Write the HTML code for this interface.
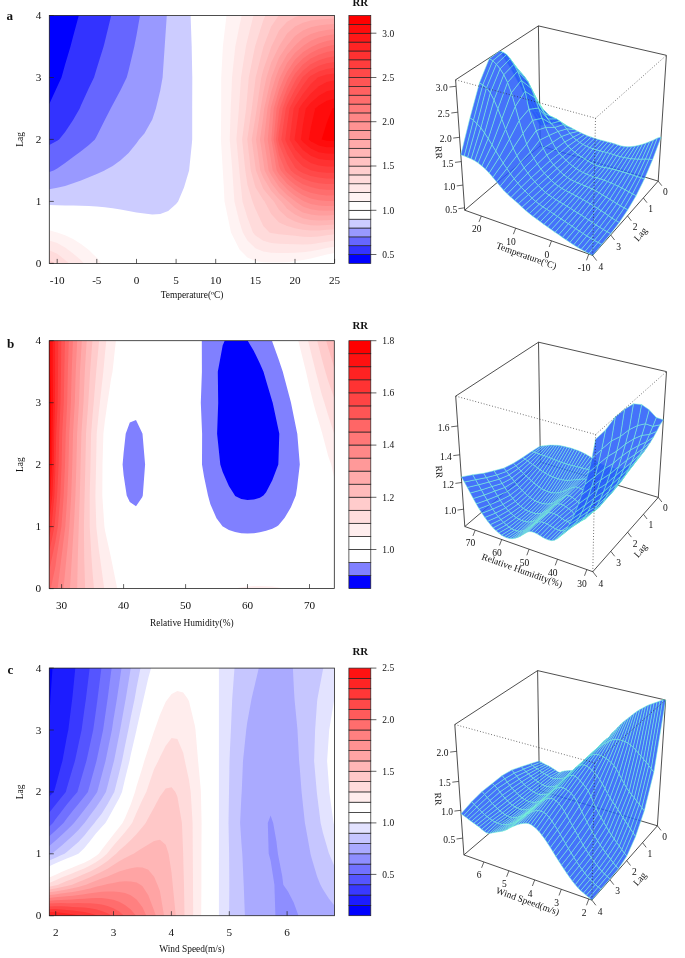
<!DOCTYPE html>
<html><head><meta charset="utf-8"><title>Figure</title>
<style>html,body{margin:0;padding:0;background:#fff;}svg{display:block;will-change:transform;font-family:"Liberation Serif",serif;}</style></head>
<body>
<svg width="685" height="958" viewBox="0 0 685 958" font-family="Liberation Serif, serif" fill="#111">
<rect width="685" height="958" fill="#fff"/>
<clipPath id="ca"><rect x="49.3" y="15.5" width="285.3" height="247.89999999999998"/></clipPath>
<g clip-path="url(#ca)">
<path d="M49.3 263.4L57.2 263.4L65.1 263.4L73.1 263.4L81 263.4L88.9 263.4L96.8 263.4L101.5 263.4L96.8 257.8L88.9 249.9L81 243.9L73.1 239.1L65.1 235.2L57.2 232.5L57 232.4L49.3 230.3L49.3 232.4ZM231 232.4L231.6 233.7L239.5 249.6L247.4 257.4L255.4 260.9L263.3 262.2L271.2 262.5L279.1 262.5L287 262.2L295 261.2L302.9 260L310.8 258.4L318.8 256.4L326.7 254.4L334.6 252.9L334.6 232.4L334.6 201.4L334.6 170.4L334.6 139.4L334.6 108.5L334.6 77.5L334.6 46.5L334.6 15.5L326.7 15.5L318.8 15.5L310.8 15.5L302.9 15.5L295 15.5L287.1 15.5L279.1 15.5L271.2 15.5L263.3 15.5L255.4 15.5L247.4 15.5L239.5 15.5L231.6 15.5L226.5 15.5L223.7 39.2L222.9 46.5L221.2 77.5L221.2 108.5L220.9 139.4L222.8 170.4L223.7 184.9L224.5 201.4Z" fill="#fff3f3"/>
<path d="M49.3 263.4L57.2 263.4L65.1 263.4L73.1 263.4L81 263.4L84 263.4L81 260.3L73.1 253.4L65.1 247.5L57.2 243.1L49.3 240.5ZM242.8 232.4L247.4 240.4L255.4 248.2L263.3 251.5L271.2 252.7L279.1 253.1L287.1 253.1L295 252.7L302.9 252.2L310.8 251.3L318.8 249.7L326.7 248L334.6 246.7L334.6 232.4L334.6 201.4L334.6 170.4L334.6 139.4L334.6 108.5L334.6 77.5L334.6 46.5L334.6 15.5L326.7 15.5L318.8 15.5L310.8 15.5L302.9 15.5L295 15.5L287.1 15.5L279.1 15.5L271.2 15.5L263.3 15.5L255.4 15.5L247.4 15.5L241.7 15.5L239.5 25.6L235.3 46.5L232 77.5L231.6 87.7L230.7 108.5L229.7 139.4L231.6 161.3L232.3 170.4L234.4 201.4L239.5 222Z" fill="#ffe7e7"/>
<path d="M49.3 263.4L57.2 263.4L65.1 263.4L69 263.4L65.1 259.9L57.2 253.7L49.3 250.2ZM252.9 232.4L255.4 235.5L263.3 240.7L271.2 242.9L279.1 243.7L287.1 244L295 244.2L302.9 244.5L310.8 244.2L318.8 243.1L326.7 241.7L334.6 240.5L334.6 232.4L334.6 201.4L334.6 170.4L334.6 139.4L334.6 108.5L334.6 77.5L334.6 46.5L334.6 15.5L326.7 15.5L318.8 15.5L310.8 15.5L302.9 15.5L295 15.5L287.1 15.5L279.1 15.5L271.2 15.5L263.3 15.5L255.4 15.5L253.5 15.5L247.4 39.7L245.9 46.5L241 77.5L239.5 99.8L238.9 108.5L236.4 139.4L239.3 170.4L239.5 173.3L242.5 201.4L247.4 217.4Z" fill="#ffdbdb"/>
<path d="M49.3 263.4L55.7 263.4L49.3 259.9ZM269.5 232.4L271.2 233L279.1 234.3L287.1 235L295 235.7L302.9 236.7L310.8 237L318.8 236.4L326.7 235.3L334.6 234.3L334.6 232.4L334.6 201.4L334.6 170.4L334.6 139.4L334.6 108.5L334.6 77.5L334.6 46.5L334.6 15.5L326.7 15.5L318.8 15.5L310.8 15.5L302.9 15.5L295 15.5L287.1 15.5L279.1 15.5L271.2 15.5L265.5 15.5L263.3 20.2L255.4 45.2L255 46.5L248.8 77.5L247.4 93.7L246.1 108.5L242.1 139.4L245.3 170.4L247.4 184.4L252.5 201.4L255.4 209.1L263.3 226.1Z" fill="#ffcece"/>
<path d="M264.6 201.4L271.2 214L279.1 222.5L287.1 226.1L295 228.2L302.9 229.8L310.8 230.5L318.8 230.4L326.7 229.8L334.6 229.2L334.6 201.4L334.6 170.4L334.6 139.4L334.6 108.5L334.6 77.5L334.6 46.5L334.6 15.5L326.7 15.5L318.8 15.5L310.8 15.5L302.9 15.5L295 15.5L287.1 15.5L279.1 15.5L278.7 15.5L271.2 26.6L263.5 46.5L263.3 47.2L255.6 77.5L255.4 79.7L251.8 108.5L247.4 138.5L247.3 139.4L247.4 140.7L250.8 170.4L255.4 187.2L263.3 200.1Z" fill="#ffc2c2"/>
<path d="M273.9 201.4L279.1 210L287.1 217.4L295 221.4L302.9 224L310.8 225.2L318.8 225.4L326.7 225.1L334.6 224.5L334.6 201.4L334.6 170.4L334.6 139.4L334.6 108.5L334.6 77.5L334.6 46.5L334.6 15.5L326.7 15.5L318.8 15.5L310.8 15.5L302.9 15.5L300.4 15.5L295 17.2L287.1 21.8L279.1 30.6L271.4 46.5L271.2 47L263.3 69.7L261.3 77.5L256.7 108.5L255.4 117.5L251.7 139.4L255.4 166.8L255.9 170.4L263.3 188.9L271.2 198.6Z" fill="#ffb6b6"/>
<path d="M281.3 201.4L287.1 208.7L295 214.6L302.9 218.2L310.8 219.9L318.8 220.4L326.7 220.3L334.6 219.8L334.6 201.4L334.6 170.4L334.6 139.4L334.6 108.5L334.6 77.5L334.6 46.5L334.6 18.6L326.7 19L318.8 19.5L310.8 20.6L302.9 22.7L295 26.6L287.1 33.6L279.1 46.2L279 46.5L271.2 62.4L266.5 77.5L263.3 92.5L260.6 108.5L256 139.4L260.3 170.4L263.3 177.8L271.2 190.8L279.1 199.5Z" fill="#ffaaaa"/>
<path d="M288.2 201.4L295 207.8L302.9 212.4L310.8 214.5L318.8 215.4L326.7 215.5L334.6 215.1L334.6 201.4L334.6 170.4L334.6 139.4L334.6 108.5L334.6 77.5L334.6 46.5L334.6 23.9L326.7 24.5L318.8 25.5L310.8 27.3L302.9 30.5L295 36L287.1 45.5L286.4 46.5L279.1 57.4L271.3 77.5L271.2 77.8L264.2 108.5L263.3 116.8L260 139.4L263.3 161.3L264.6 170.4L271.2 183.1L279.1 193.2L287.1 200.5Z" fill="#ff9e9e"/>
<path d="M295.5 201.4L302.9 206.6L310.8 209.2L318.8 210.4L326.7 210.7L334.6 210.4L334.6 201.4L334.6 170.4L334.6 139.4L334.6 108.5L334.6 77.5L334.6 46.5L334.6 29.1L326.7 30L318.8 31.4L310.8 34L302.9 38.3L295 45.4L294.1 46.5L287.1 54.4L279.1 68.6L275.7 77.5L271.2 92L267.5 108.5L264 139.4L268.7 170.4L271.2 175.3L279.1 186.9L287.1 194.9L295 201.1Z" fill="#ff9292"/>
<path d="M304.4 201.4L310.8 203.9L318.8 205.4L326.7 205.9L334.6 205.7L334.6 201.4L334.6 170.4L334.6 139.4L334.6 108.5L334.6 77.5L334.6 46.5L334.6 34.3L326.7 35.5L318.8 37.4L310.8 40.7L302.9 46.1L302.5 46.5L295 52.7L287.1 62.9L280 77.5L279.1 79.6L271.2 106.3L270.7 108.5L267.7 139.4L271.2 161.4L272.7 170.4L279.1 180.6L287.1 189.3L295 195.7L302.9 200.8Z" fill="#ff8686"/>
<path d="M276.7 170.4L279.1 174.3L287.1 183.7L295 190.2L302.9 195.3L310.8 198.4L318.8 200.2L326.7 201.1L334.6 201L334.6 170.4L334.6 139.4L334.6 108.5L334.6 77.5L334.6 46.5L334.6 39.6L326.7 41L318.8 43.4L312.4 46.5L310.8 47.2L302.9 52.3L295 59.7L287.1 71.5L284.2 77.5L279.1 89.7L273.7 108.5L271.4 139.4Z" fill="#ff7979"/>
<path d="M280.9 170.4L287.1 178.1L295 184.8L302.9 189.7L310.8 192.7L318.8 194.6L326.7 195.5L334.6 195.3L334.6 170.4L334.6 139.4L334.6 108.5L334.6 77.5L334.6 46.5L334.6 44.8L326.7 46.4L326.6 46.5L318.8 49.1L310.8 52.9L302.9 58.4L295 66.7L288.4 77.5L287.1 80L279.1 99.8L276.6 108.5L273.6 139.4L279.1 166.3Z" fill="#ff6d6d"/>
<path d="M285.4 170.4L287.1 172.5L295 179.4L302.9 184.2L310.8 187.1L318.8 188.9L326.7 189.8L334.6 189.7L334.6 170.4L334.6 139.4L334.6 108.5L334.6 77.5L334.6 50.4L326.7 52.1L318.8 54.7L310.8 58.6L302.9 64.5L295 73.7L292.7 77.5L287.1 88.4L279.6 108.5L279.1 111.3L275.9 139.4L279.1 155.3Z" fill="#ff6161"/>
<path d="M291 170.4L295 174L302.9 178.6L310.8 181.5L318.8 183.3L326.7 184.1L334.6 184L334.6 170.4L334.6 139.4L334.6 108.5L334.6 77.5L334.6 56.2L326.7 57.7L318.8 60.3L310.8 64.3L302.9 70.7L297.3 77.5L295 81.3L287.1 96.7L282.7 108.5L279.1 130.7L278.1 139.4L279.1 144.3L287.1 164.1Z" fill="#ff5555"/>
<path d="M298.4 170.4L302.9 173.1L310.8 175.9L318.8 177.6L326.7 178.4L334.6 178.4L334.6 170.4L334.6 139.4L334.6 108.5L334.6 77.5L334.6 61.9L326.7 63.3L318.8 65.8L310.8 70L302.9 76.8L302.3 77.5L295 89.5L287.1 105L285.8 108.5L281.3 139.4L287.1 154.1L295 167.3Z" fill="#ff4949"/>
<path d="M311.7 170.4L318.8 172L326.7 172.8L334.6 172.7L334.6 170.4L334.6 139.4L334.6 108.5L334.6 77.5L334.6 67.7L326.7 68.9L318.8 71.4L310.8 75.7L308.7 77.5L302.9 85.2L295 97.8L289.5 108.5L287.1 125.6L285.2 139.4L287.1 144.2L295 158.3L302.9 166.2L310.8 170.2Z" fill="#ff3d3d"/>
<path d="M289.6 139.4L295 149.2L302.9 158.1L310.8 162.9L318.8 165.6L326.7 166.6L334.6 166.6L334.6 139.4L334.6 108.5L334.6 77.5L334.6 73.4L326.7 74.6L318.8 76.9L317.8 77.5L310.8 83.9L302.9 94L295 106L293.7 108.5Z" fill="#ff3131"/>
<path d="M294.6 139.4L295 140.2L302.9 150L310.8 155.7L318.8 158.9L326.7 160.1L334.6 160.2L334.6 139.4L334.6 108.5L334.6 80.2L326.7 82L318.8 86.2L310.8 93.4L302.9 102.8L299.1 108.5L295 136.1Z" fill="#ff2424"/>
<path d="M300.9 139.4L302.9 141.9L310.8 148.5L318.8 152.2L326.7 153.6L334.6 153.7L334.6 139.4L334.6 108.5L334.6 89.4L326.7 91.3L318.8 95.8L310.8 102.8L305.8 108.5L302.9 125Z" fill="#ff1818"/>
<path d="M308.8 139.4L310.8 141.2L318.8 145.5L326.7 147.2L334.6 147.3L334.6 139.4L334.6 108.5L334.6 98.6L326.7 100.7L318.8 105.4L315.2 108.5L310.8 127.7Z" fill="#ff0c0c"/>
<path d="M321.6 139.4L326.7 140.7L334.6 140.9L334.6 139.4L334.6 108.5L334.6 107.8L332.3 108.5L326.7 123.1Z" fill="#ff0000"/>
<path d="M49.3 201.4L49.3 205.1L57.2 205.2L65.1 205.4L73.1 205.6L81 205.8L88.9 206.1L96.8 206.6L104.8 207.2L112.7 208.2L120.6 209.5L128.6 211L136.5 212.4L144.4 213.6L152.3 214.5L160.2 214.1L168.2 211.1L176.1 203.9L178.1 201.4L184 187.4L189.1 170.4L191.9 143.3L192.2 139.4L192.2 108.5L192.3 77.5L191.9 57.2L191.7 46.5L190.6 15.5L184 15.5L176.1 15.5L168.2 15.5L160.2 15.5L152.3 15.5L144.4 15.5L136.5 15.5L128.6 15.5L120.6 15.5L112.7 15.5L104.8 15.5L96.8 15.5L88.9 15.5L81 15.5L73.1 15.5L65.1 15.5L57.2 15.5L49.3 15.5L49.3 46.5L49.3 77.5L49.3 108.5L49.3 139.4L49.3 170.4Z" fill="#ccccff"/>
<path d="M49.3 170.4L49.3 189.2L57.2 187.8L65.1 185.9L73.1 183.3L81 180.4L88.9 177.2L96.8 173.9L104.6 170.4L104.8 170.3L112.7 165.9L120.6 160.2L128.6 153L136.5 143.2L139.1 139.4L144.4 133.6L152.3 119.6L155.9 108.5L160.2 90.8L162.6 77.5L164.7 46.5L166.8 15.5L160.2 15.5L152.3 15.5L144.4 15.5L136.5 15.5L128.6 15.5L120.6 15.5L112.7 15.5L104.8 15.5L96.8 15.5L88.9 15.5L81 15.5L73.1 15.5L65.1 15.5L57.2 15.5L49.3 15.5L49.3 46.5L49.3 77.5L49.3 108.5L49.3 139.4Z" fill="#9999ff"/>
<path d="M49.3 170.4L49.3 172L53.6 170.4L57.2 168.4L65.1 163L73.1 157.1L81 151.2L88.9 144.9L94.9 139.4L96.8 136L104.8 119.9L110.7 108.5L112.7 104.7L120.6 90L126.7 77.5L128.6 70.6L134.3 46.5L136.5 35.3L140 15.5L136.5 15.5L128.6 15.5L120.6 15.5L112.7 15.5L104.8 15.5L96.8 15.5L88.9 15.5L81 15.5L73.1 15.5L65.1 15.5L57.2 15.5L49.3 15.5L49.3 46.5L49.3 77.5L49.3 108.5L49.3 139.4Z" fill="#6666ff"/>
<path d="M49.3 139.4L49.3 145L57.2 140.8L59.1 139.4L65.1 132L73.1 120.1L79.7 108.5L81 105.3L88.9 88L94 77.5L96.8 68.3L103.6 46.5L104.8 41.7L111.2 15.5L104.8 15.5L96.8 15.5L88.9 15.5L81 15.5L73.1 15.5L65.1 15.5L57.2 15.5L49.3 15.5L49.3 46.5L49.3 77.5L49.3 108.5Z" fill="#3333ff"/>
<path d="M49.3 77.5L49.3 104L57.2 86.7L61.5 77.5L65.1 64.5L70.5 46.5L73.1 36.6L78.8 15.5L73.1 15.5L65.1 15.5L57.2 15.5L49.3 15.5L49.3 46.5Z" fill="#0000ff"/>

</g>
<rect x="49.3" y="15.5" width="285.3" height="247.9" fill="none" stroke="#222" stroke-width="0.8"/>
<line x1="57.2" y1="263.4" x2="57.2" y2="258.9" stroke="#222" stroke-width="0.7"/>
<text x="57.2" y="283.7" font-size="11.2" text-anchor="middle" >-10</text>
<line x1="96.8" y1="263.4" x2="96.8" y2="258.9" stroke="#222" stroke-width="0.7"/>
<text x="96.8" y="283.7" font-size="11.2" text-anchor="middle" >-5</text>
<line x1="136.5" y1="263.4" x2="136.5" y2="258.9" stroke="#222" stroke-width="0.7"/>
<text x="136.5" y="283.7" font-size="11.2" text-anchor="middle" >0</text>
<line x1="176.1" y1="263.4" x2="176.1" y2="258.9" stroke="#222" stroke-width="0.7"/>
<text x="176.1" y="283.7" font-size="11.2" text-anchor="middle" >5</text>
<line x1="215.7" y1="263.4" x2="215.7" y2="258.9" stroke="#222" stroke-width="0.7"/>
<text x="215.7" y="283.7" font-size="11.2" text-anchor="middle" >10</text>
<line x1="255.4" y1="263.4" x2="255.4" y2="258.9" stroke="#222" stroke-width="0.7"/>
<text x="255.4" y="283.7" font-size="11.2" text-anchor="middle" >15</text>
<line x1="295" y1="263.4" x2="295" y2="258.9" stroke="#222" stroke-width="0.7"/>
<text x="295" y="283.7" font-size="11.2" text-anchor="middle" >20</text>
<line x1="334.6" y1="263.4" x2="334.6" y2="258.9" stroke="#222" stroke-width="0.7"/>
<text x="334.6" y="283.7" font-size="11.2" text-anchor="middle" >25</text>
<line x1="49.3" y1="263.4" x2="53.8" y2="263.4" stroke="#222" stroke-width="0.7"/>
<text x="38.5" y="266.9" font-size="11.2" text-anchor="middle" >0</text>
<line x1="49.3" y1="201.4" x2="53.8" y2="201.4" stroke="#222" stroke-width="0.7"/>
<text x="38.5" y="204.9" font-size="11.2" text-anchor="middle" >1</text>
<line x1="49.3" y1="139.4" x2="53.8" y2="139.4" stroke="#222" stroke-width="0.7"/>
<text x="38.5" y="142.9" font-size="11.2" text-anchor="middle" >2</text>
<line x1="49.3" y1="77.5" x2="53.8" y2="77.5" stroke="#222" stroke-width="0.7"/>
<text x="38.5" y="81" font-size="11.2" text-anchor="middle" >3</text>
<line x1="49.3" y1="15.5" x2="53.8" y2="15.5" stroke="#222" stroke-width="0.7"/>
<text x="38.5" y="19" font-size="11.2" text-anchor="middle" >4</text>
<text x="192" y="297.7" font-size="9.4" text-anchor="middle" >Temperature(&#186;C)</text>
<text x="23.5" y="139.4" font-size="9.4" text-anchor="middle" transform="rotate(-90 23.5 139.4)" >Lag</text>
<text x="9.8" y="20.4" font-size="13.1" text-anchor="middle" font-weight="bold" >a</text>
<rect x="348.9" y="254.5" width="21.9" height="8.9" fill="#0000ff" stroke="#222" stroke-width="0.7"/>
<rect x="348.9" y="245.7" width="21.9" height="8.9" fill="#3333ff" stroke="#222" stroke-width="0.7"/>
<rect x="348.9" y="236.8" width="21.9" height="8.9" fill="#6666ff" stroke="#222" stroke-width="0.7"/>
<rect x="348.9" y="228" width="21.9" height="8.9" fill="#9999ff" stroke="#222" stroke-width="0.7"/>
<rect x="348.9" y="219.1" width="21.9" height="8.9" fill="#ccccff" stroke="#222" stroke-width="0.7"/>
<rect x="348.9" y="210.3" width="21.9" height="8.9" fill="#ffffff" stroke="#222" stroke-width="0.7"/>
<rect x="348.9" y="201.4" width="21.9" height="8.9" fill="#ffffff" stroke="#222" stroke-width="0.7"/>
<rect x="348.9" y="192.6" width="21.9" height="8.9" fill="#fff3f3" stroke="#222" stroke-width="0.7"/>
<rect x="348.9" y="183.7" width="21.9" height="8.9" fill="#ffe7e7" stroke="#222" stroke-width="0.7"/>
<rect x="348.9" y="174.9" width="21.9" height="8.9" fill="#ffdbdb" stroke="#222" stroke-width="0.7"/>
<rect x="348.9" y="166" width="21.9" height="8.9" fill="#ffcece" stroke="#222" stroke-width="0.7"/>
<rect x="348.9" y="157.2" width="21.9" height="8.9" fill="#ffc2c2" stroke="#222" stroke-width="0.7"/>
<rect x="348.9" y="148.3" width="21.9" height="8.9" fill="#ffb6b6" stroke="#222" stroke-width="0.7"/>
<rect x="348.9" y="139.4" width="21.9" height="8.9" fill="#ffaaaa" stroke="#222" stroke-width="0.7"/>
<rect x="348.9" y="130.6" width="21.9" height="8.9" fill="#ff9e9e" stroke="#222" stroke-width="0.7"/>
<rect x="348.9" y="121.7" width="21.9" height="8.9" fill="#ff9292" stroke="#222" stroke-width="0.7"/>
<rect x="348.9" y="112.9" width="21.9" height="8.9" fill="#ff8686" stroke="#222" stroke-width="0.7"/>
<rect x="348.9" y="104" width="21.9" height="8.9" fill="#ff7979" stroke="#222" stroke-width="0.7"/>
<rect x="348.9" y="95.2" width="21.9" height="8.9" fill="#ff6d6d" stroke="#222" stroke-width="0.7"/>
<rect x="348.9" y="86.3" width="21.9" height="8.9" fill="#ff6161" stroke="#222" stroke-width="0.7"/>
<rect x="348.9" y="77.5" width="21.9" height="8.9" fill="#ff5555" stroke="#222" stroke-width="0.7"/>
<rect x="348.9" y="68.6" width="21.9" height="8.9" fill="#ff4949" stroke="#222" stroke-width="0.7"/>
<rect x="348.9" y="59.8" width="21.9" height="8.9" fill="#ff3d3d" stroke="#222" stroke-width="0.7"/>
<rect x="348.9" y="50.9" width="21.9" height="8.9" fill="#ff3131" stroke="#222" stroke-width="0.7"/>
<rect x="348.9" y="42.1" width="21.9" height="8.9" fill="#ff2424" stroke="#222" stroke-width="0.7"/>
<rect x="348.9" y="33.2" width="21.9" height="8.9" fill="#ff1818" stroke="#222" stroke-width="0.7"/>
<rect x="348.9" y="24.4" width="21.9" height="8.9" fill="#ff0c0c" stroke="#222" stroke-width="0.7"/>
<rect x="348.9" y="15.5" width="21.9" height="8.9" fill="#ff0000" stroke="#222" stroke-width="0.7"/>
<line x1="370.8" y1="254.5" x2="376.4" y2="254.5" stroke="#222" stroke-width="0.7"/>
<text x="382.3" y="257.8" font-size="9.5" text-anchor="start" >0.5</text>
<line x1="370.8" y1="210.3" x2="376.4" y2="210.3" stroke="#222" stroke-width="0.7"/>
<text x="382.3" y="213.6" font-size="9.5" text-anchor="start" >1.0</text>
<line x1="370.8" y1="166" x2="376.4" y2="166" stroke="#222" stroke-width="0.7"/>
<text x="382.3" y="169.3" font-size="9.5" text-anchor="start" >1.5</text>
<line x1="370.8" y1="121.7" x2="376.4" y2="121.7" stroke="#222" stroke-width="0.7"/>
<text x="382.3" y="125" font-size="9.5" text-anchor="start" >2.0</text>
<line x1="370.8" y1="77.5" x2="376.4" y2="77.5" stroke="#222" stroke-width="0.7"/>
<text x="382.3" y="80.8" font-size="9.5" text-anchor="start" >2.5</text>
<line x1="370.8" y1="33.2" x2="376.4" y2="33.2" stroke="#222" stroke-width="0.7"/>
<text x="382.3" y="36.5" font-size="9.5" text-anchor="start" >3.0</text>
<text x="360.2" y="5.9" font-size="10.8" text-anchor="middle" font-weight="bold" >RR</text>
<line x1="464.7" y1="210.2" x2="592.7" y2="255.4" stroke="#222" stroke-width="0.8"/>
<line x1="592.7" y1="255.4" x2="658.2" y2="181.1" stroke="#222" stroke-width="0.8"/>
<line x1="658.2" y1="181.1" x2="540.3" y2="145.8" stroke="#222" stroke-width="0.8"/>
<line x1="540.3" y1="145.8" x2="464.7" y2="210.2" stroke="#222" stroke-width="0.8"/>
<line x1="464.7" y1="210.2" x2="455.6" y2="79.8" stroke="#222" stroke-width="0.8"/>
<line x1="540.3" y1="145.8" x2="538.4" y2="25.9" stroke="#222" stroke-width="0.8"/>
<line x1="658.2" y1="181.1" x2="666.4" y2="55.3" stroke="#222" stroke-width="0.8"/>
<line x1="455.6" y1="79.8" x2="538.4" y2="25.9" stroke="#222" stroke-width="0.8"/>
<line x1="538.4" y1="25.9" x2="666.4" y2="55.3" stroke="#222" stroke-width="0.8"/>
<g stroke="#7fffd4" stroke-width="0.5" stroke-linejoin="round" fill-opacity="0.86">
<path d="M543.1 125.2 L540 125.5 L530.9 110.7 L534.1 110.9 Z" fill="#265bf9"/>
<path d="M546.2 124.5 L543.1 125.2 L534.1 110.9 L537.3 111.2 Z" fill="#265bf9"/>
<path d="M549.3 123.9 L546.2 124.5 L537.3 111.2 L540.5 111.8 Z" fill="#265bf9"/>
<path d="M552.5 123.6 L549.3 123.9 L540.5 111.8 L543.7 113.2 Z" fill="#265bf9"/>
<path d="M555.7 123.8 L552.5 123.6 L543.7 113.2 L546.9 114.8 Z" fill="#265bf9"/>
<path d="M558.8 124.1 L555.7 123.8 L546.9 114.8 L550.2 116.2 Z" fill="#265bf9"/>
<path d="M562 124.9 L558.8 124.1 L550.2 116.2 L553.4 117.5 Z" fill="#265bf9"/>
<path d="M565.2 125.8 L562 124.9 L553.4 117.5 L556.7 119 Z" fill="#265bf9"/>
<path d="M568.4 126.7 L565.2 125.8 L556.7 119 L560 121.2 Z" fill="#265bf9"/>
<path d="M571.7 128.1 L568.4 126.7 L560 121.2 L563.3 124.5 Z" fill="#265bf9"/>
<path d="M574.9 129.7 L571.7 128.1 L563.3 124.5 L566.6 128.9 Z" fill="#265bf9"/>
<path d="M578.2 131.4 L574.9 129.7 L566.6 128.9 L569.9 133.4 Z" fill="#265bf9"/>
<path d="M581.4 133.1 L578.2 131.4 L569.9 133.4 L573.2 137.2 Z" fill="#265bf9"/>
<path d="M584.7 134.6 L581.4 133.1 L573.2 137.2 L576.5 140.2 Z" fill="#265bf9"/>
<path d="M587.9 135.9 L584.7 134.6 L576.5 140.2 L579.8 142.6 Z" fill="#265bf9"/>
<path d="M591.2 137.1 L587.9 135.9 L579.8 142.6 L583.1 144.6 Z" fill="#265bf9"/>
<path d="M594.5 138.3 L591.2 137.1 L583.1 144.6 L586.4 146.3 Z" fill="#265bf9"/>
<path d="M597.9 139.3 L594.5 138.3 L586.4 146.3 L589.8 147.7 Z" fill="#265bf9"/>
<path d="M601.2 140.2 L597.9 139.3 L589.8 147.7 L593.1 148.9 Z" fill="#265bf9"/>
<path d="M604.5 141 L601.2 140.2 L593.1 148.9 L596.5 150 Z" fill="#265bf9"/>
<path d="M607.9 141.9 L604.5 141 L596.5 150 L599.9 150.9 Z" fill="#265bf9"/>
<path d="M534.1 110.9 L530.9 110.7 L521 87.6 L524.3 88.3 Z" fill="#265bf9"/>
<path d="M611.3 142.8 L607.9 141.9 L599.9 150.9 L603.3 151.8 Z" fill="#265bf9"/>
<path d="M537.3 111.2 L534.1 110.9 L524.3 88.3 L527.6 89.9 Z" fill="#265bf9"/>
<path d="M540.5 111.8 L537.3 111.2 L527.6 89.9 L530.9 92.4 Z" fill="#265bf9"/>
<path d="M614.6 143.8 L611.3 142.8 L603.3 151.8 L606.7 152.6 Z" fill="#265bf9"/>
<path d="M543.7 113.2 L540.5 111.8 L530.9 92.4 L534.3 95.9 Z" fill="#265bf9"/>
<path d="M576.5 140.2 L573.2 137.2 L564.6 142 L568 146.2 Z" fill="#265bf9"/>
<path d="M573.2 137.2 L569.9 133.4 L561.3 136.5 L564.6 142 Z" fill="#265bf9"/>
<path d="M579.8 142.6 L576.5 140.2 L568 146.2 L571.3 149.5 Z" fill="#265bf9"/>
<path d="M546.9 114.8 L543.7 113.2 L534.3 95.9 L537.7 101.2 Z" fill="#265bf9"/>
<path d="M550.2 116.2 L546.9 114.8 L537.7 101.2 L541.1 107.2 Z" fill="#265bf9"/>
<path d="M553.4 117.5 L550.2 116.2 L541.1 107.2 L544.5 113.4 Z" fill="#265bf9"/>
<path d="M618 144.9 L614.6 143.8 L606.7 152.6 L610.1 153.6 Z" fill="#265bf9"/>
<path d="M556.7 119 L553.4 117.5 L544.5 113.4 L547.9 119.1 Z" fill="#265bf9"/>
<path d="M569.9 133.4 L566.6 128.9 L557.9 131.4 L561.3 136.5 Z" fill="#265bf9"/>
<path d="M560 121.2 L556.7 119 L547.9 119.1 L551.2 123.6 Z" fill="#265bf9"/>
<path d="M583.1 144.6 L579.8 142.6 L571.3 149.5 L574.7 152.3 Z" fill="#265bf9"/>
<path d="M566.6 128.9 L563.3 124.5 L554.6 127.4 L557.9 131.4 Z" fill="#265bf9"/>
<path d="M563.3 124.5 L560 121.2 L551.2 123.6 L554.6 127.4 Z" fill="#265bf9"/>
<path d="M586.4 146.3 L583.1 144.6 L574.7 152.3 L578 154.8 Z" fill="#265bf9"/>
<path d="M621.4 145.9 L618 144.9 L610.1 153.6 L613.6 154.7 Z" fill="#265bf9"/>
<path d="M589.8 147.7 L586.4 146.3 L578 154.8 L581.4 157 Z" fill="#265bf9"/>
<path d="M624.9 146.6 L621.4 145.9 L613.6 154.7 L617 155.8 Z" fill="#265bf9"/>
<path d="M593.1 148.9 L589.8 147.7 L581.4 157 L584.8 159 Z" fill="#265bf9"/>
<path d="M596.5 150 L593.1 148.9 L584.8 159 L588.2 161 Z" fill="#265bf9"/>
<path d="M628.4 146.8 L624.9 146.6 L617 155.8 L620.5 156.8 Z" fill="#265bf9"/>
<path d="M599.9 150.9 L596.5 150 L588.2 161 L591.6 163.2 Z" fill="#265bf9"/>
<path d="M631.9 146.5 L628.4 146.8 L620.5 156.8 L624 157.6 Z" fill="#265bf9"/>
<path d="M603.3 151.8 L599.9 150.9 L591.6 163.2 L595 165 Z" fill="#265bf9"/>
<path d="M635.4 146 L631.9 146.5 L624 157.6 L627.5 158.3 Z" fill="#265bf9"/>
<path d="M606.7 152.6 L603.3 151.8 L595 165 L598.4 166.3 Z" fill="#265bf9"/>
<path d="M610.1 153.6 L606.7 152.6 L598.4 166.3 L601.9 167.1 Z" fill="#265bf9"/>
<path d="M639 145.2 L635.4 146 L627.5 158.3 L631 158.8 Z" fill="#265bf9"/>
<path d="M613.6 154.7 L610.1 153.6 L601.9 167.1 L605.3 167.7 Z" fill="#265bf9"/>
<path d="M571.3 149.5 L568 146.2 L559.2 153.4 L562.6 157.1 Z" fill="#265bf9"/>
<path d="M568 146.2 L564.6 142 L555.8 148.6 L559.2 153.4 Z" fill="#265bf9"/>
<path d="M574.7 152.3 L571.3 149.5 L562.6 157.1 L566 160.3 Z" fill="#265bf9"/>
<path d="M642.6 144.2 L639 145.2 L631 158.8 L634.6 159.1 Z" fill="#265bf9"/>
<path d="M564.6 142 L561.3 136.5 L552.4 142.4 L555.8 148.6 Z" fill="#265bf9"/>
<path d="M578 154.8 L574.7 152.3 L566 160.3 L569.4 163.4 Z" fill="#265bf9"/>
<path d="M617 155.8 L613.6 154.7 L605.3 167.7 L608.8 168.4 Z" fill="#265bf9"/>
<path d="M581.4 157 L578 154.8 L569.4 163.4 L572.8 166.3 Z" fill="#265bf9"/>
<path d="M561.3 136.5 L557.9 131.4 L549 135.4 L552.4 142.4 Z" fill="#265bf9"/>
<path d="M584.8 159 L581.4 157 L572.8 166.3 L576.2 168.7 Z" fill="#265bf9"/>
<path d="M620.5 156.8 L617 155.8 L608.8 168.4 L612.3 169.2 Z" fill="#265bf9"/>
<path d="M557.9 131.4 L554.6 127.4 L545.5 127.4 L549 135.4 Z" fill="#265bf9"/>
<path d="M646.2 142.9 L642.6 144.2 L634.6 159.1 L638.2 159.3 Z" fill="#265bf9"/>
<path d="M588.2 161 L584.8 159 L576.2 168.7 L579.7 170.8 Z" fill="#265bf9"/>
<path d="M554.6 127.4 L551.2 123.6 L542 118.2 L545.5 127.4 Z" fill="#265bf9"/>
<path d="M591.6 163.2 L588.2 161 L579.7 170.8 L583.1 172.6 Z" fill="#265bf9"/>
<path d="M624 157.6 L620.5 156.8 L612.3 169.2 L615.8 170 Z" fill="#265bf9"/>
<path d="M649.9 141.6 L646.2 142.9 L638.2 159.3 L641.8 159.3 Z" fill="#265bf9"/>
<path d="M595 165 L591.6 163.2 L583.1 172.6 L586.5 174.2 Z" fill="#265bf9"/>
<path d="M551.2 123.6 L547.9 119.1 L538.5 108 L542 118.2 Z" fill="#265bf9"/>
<path d="M627.5 158.3 L624 157.6 L615.8 170 L619.4 171 Z" fill="#265bf9"/>
<path d="M598.4 166.3 L595 165 L586.5 174.2 L590 175.6 Z" fill="#265bf9"/>
<path d="M547.9 119.1 L544.5 113.4 L534.9 97.6 L538.5 108 Z" fill="#265bf9"/>
<path d="M631 158.8 L627.5 158.3 L619.4 171 L622.9 172.1 Z" fill="#265bf9"/>
<path d="M653.6 139.9 L649.9 141.6 L641.8 159.3 L645.4 159.2 Z" fill="#265bf9"/>
<path d="M601.9 167.1 L598.4 166.3 L590 175.6 L593.5 176.8 Z" fill="#265bf9"/>
<path d="M634.6 159.1 L631 158.8 L622.9 172.1 L626.5 173.2 Z" fill="#265bf9"/>
<path d="M524.3 88.3 L521 87.6 L510.6 68.3 L514 69.1 Z" fill="#265bf9"/>
<path d="M544.5 113.4 L541.1 107.2 L531.3 88.3 L534.9 97.6 Z" fill="#265bf9"/>
<path d="M605.3 167.7 L601.9 167.1 L593.5 176.8 L597 177.9 Z" fill="#265bf9"/>
<path d="M657.4 138 L653.6 139.9 L645.4 159.2 L649.1 159.3 Z" fill="#265bf9"/>
<path d="M527.6 89.9 L524.3 88.3 L514 69.1 L517.4 70.7 Z" fill="#265bf9"/>
<path d="M638.2 159.3 L634.6 159.1 L626.5 173.2 L630 174.3 Z" fill="#265bf9"/>
<path d="M541.1 107.2 L537.7 101.2 L527.8 81.2 L531.3 88.3 Z" fill="#265bf9"/>
<path d="M608.8 168.4 L605.3 167.7 L597 177.9 L600.5 179 Z" fill="#265bf9"/>
<path d="M530.9 92.4 L527.6 89.9 L517.4 70.7 L520.8 73.1 Z" fill="#265bf9"/>
<path d="M562.6 157.1 L559.2 153.4 L550.2 160.6 L553.6 164.9 Z" fill="#265bf9"/>
<path d="M537.7 101.2 L534.3 95.9 L524.3 76.3 L527.8 81.2 Z" fill="#265bf9"/>
<path d="M566 160.3 L562.6 157.1 L553.6 164.9 L557.1 168.5 Z" fill="#265bf9"/>
<path d="M534.3 95.9 L530.9 92.4 L520.8 73.1 L524.3 76.3 Z" fill="#265bf9"/>
<path d="M559.2 153.4 L555.8 148.6 L546.7 155.1 L550.2 160.6 Z" fill="#265bf9"/>
<path d="M569.4 163.4 L566 160.3 L557.1 168.5 L560.5 172 Z" fill="#265bf9"/>
<path d="M661.1 137 L657.4 138 L649.1 159.3 L652.7 159.5 Z" fill="#265bf9"/>
<path d="M641.8 159.3 L638.2 159.3 L630 174.3 L633.6 175.5 Z" fill="#265bf9"/>
<path d="M612.3 169.2 L608.8 168.4 L600.5 179 L604 180.2 Z" fill="#265bf9"/>
<path d="M572.8 166.3 L569.4 163.4 L560.5 172 L564 175.1 Z" fill="#265bf9"/>
<path d="M555.8 148.6 L552.4 142.4 L543.2 148.2 L546.7 155.1 Z" fill="#265bf9"/>
<path d="M576.2 168.7 L572.8 166.3 L564 175.1 L567.4 177.6 Z" fill="#265bf9"/>
<path d="M615.8 170 L612.3 169.2 L604 180.2 L607.6 181.6 Z" fill="#265bf9"/>
<path d="M579.7 170.8 L576.2 168.7 L567.4 177.6 L570.9 179.7 Z" fill="#265bf9"/>
<path d="M645.4 159.2 L641.8 159.3 L633.6 175.5 L637.2 176.7 Z" fill="#265bf9"/>
<path d="M552.4 142.4 L549 135.4 L539.7 140.1 L543.2 148.2 Z" fill="#265bf9"/>
<path d="M583.1 172.6 L579.7 170.8 L570.9 179.7 L574.4 181.5 Z" fill="#265bf9"/>
<path d="M619.4 171 L615.8 170 L607.6 181.6 L611.1 183.1 Z" fill="#265bf9"/>
<path d="M649.1 159.3 L645.4 159.2 L637.2 176.7 L640.8 177.8 Z" fill="#265bf9"/>
<path d="M586.5 174.2 L583.1 172.6 L574.4 181.5 L577.9 183 Z" fill="#265bf9"/>
<path d="M549 135.4 L545.5 127.4 L536.1 130.6 L539.7 140.1 Z" fill="#265bf9"/>
<path d="M622.9 172.1 L619.4 171 L611.1 183.1 L614.6 184.6 Z" fill="#265bf9"/>
<path d="M590 175.6 L586.5 174.2 L577.9 183 L581.4 184.5 Z" fill="#265bf9"/>
<path d="M652.7 159.5 L649.1 159.3 L640.8 177.8 L644.4 179 Z" fill="#265bf9"/>
<path d="M626.5 173.2 L622.9 172.1 L614.6 184.6 L618.2 186.3 Z" fill="#265bf9"/>
<path d="M593.5 176.8 L590 175.6 L581.4 184.5 L584.9 185.9 Z" fill="#265bf9"/>
<path d="M545.5 127.4 L542 118.2 L532.5 120.3 L536.1 130.6 Z" fill="#265bf9"/>
<path d="M630 174.3 L626.5 173.2 L618.2 186.3 L621.8 188.1 Z" fill="#265bf9"/>
<path d="M597 177.9 L593.5 176.8 L584.9 185.9 L588.4 187.4 Z" fill="#265bf9"/>
<path d="M633.6 175.5 L630 174.3 L621.8 188.1 L625.3 189.9 Z" fill="#265bf9"/>
<path d="M600.5 179 L597 177.9 L588.4 187.4 L592 189 Z" fill="#265bf9"/>
<path d="M637.2 176.7 L633.6 175.5 L625.3 189.9 L628.9 191.9 Z" fill="#265bf9"/>
<path d="M542 118.2 L538.5 108 L528.8 109.3 L532.5 120.3 Z" fill="#265bf9"/>
<path d="M604 180.2 L600.5 179 L592 189 L595.5 190.8 Z" fill="#265bf9"/>
<path d="M640.8 177.8 L637.2 176.7 L628.9 191.9 L632.5 193.9 Z" fill="#265bf9"/>
<path d="M553.6 164.9 L550.2 160.6 L540.8 169.1 L544.4 173.3 Z" fill="#265bf9"/>
<path d="M557.1 168.5 L553.6 164.9 L544.4 173.3 L547.9 176.9 Z" fill="#265bf9"/>
<path d="M560.5 172 L557.1 168.5 L547.9 176.9 L551.4 180.5 Z" fill="#265bf9"/>
<path d="M550.2 160.6 L546.7 155.1 L537.3 163.9 L540.8 169.1 Z" fill="#265bf9"/>
<path d="M564 175.1 L560.5 172 L551.4 180.5 L554.9 183.7 Z" fill="#265bf9"/>
<path d="M607.6 181.6 L604 180.2 L595.5 190.8 L599.1 192.8 Z" fill="#265bf9"/>
<path d="M644.4 179 L640.8 177.8 L632.5 193.9 L636.1 195.8 Z" fill="#265bf9"/>
<path d="M567.4 177.6 L564 175.1 L554.9 183.7 L558.4 186.3 Z" fill="#265bf9"/>
<path d="M546.7 155.1 L543.2 148.2 L533.8 158.3 L537.3 163.9 Z" fill="#265bf9"/>
<path d="M611.1 183.1 L607.6 181.6 L599.1 192.8 L602.6 195 Z" fill="#265bf9"/>
<path d="M570.9 179.7 L567.4 177.6 L558.4 186.3 L561.9 188.5 Z" fill="#265bf9"/>
<path d="M543.2 148.2 L539.7 140.1 L530.2 152.1 L533.8 158.3 Z" fill="#265bf9"/>
<path d="M538.5 108 L534.9 97.6 L525 91.2 L528.8 109.3 Z" fill="#265bf9"/>
<path d="M614.6 184.6 L611.1 183.1 L602.6 195 L606.2 197.2 Z" fill="#265bf9"/>
<path d="M574.4 181.5 L570.9 179.7 L561.9 188.5 L565.4 190.5 Z" fill="#265bf9"/>
<path d="M618.2 186.3 L614.6 184.6 L606.2 197.2 L609.8 199.3 Z" fill="#265bf9"/>
<path d="M577.9 183 L574.4 181.5 L565.4 190.5 L568.9 192.3 Z" fill="#265bf9"/>
<path d="M539.7 140.1 L536.1 130.6 L526.6 144.1 L530.2 152.1 Z" fill="#265bf9"/>
<path d="M621.8 188.1 L618.2 186.3 L609.8 199.3 L613.3 201.5 Z" fill="#265bf9"/>
<path d="M581.4 184.5 L577.9 183 L568.9 192.3 L572.5 194.1 Z" fill="#265bf9"/>
<path d="M625.3 189.9 L621.8 188.1 L613.3 201.5 L616.9 203.7 Z" fill="#265bf9"/>
<path d="M584.9 185.9 L581.4 184.5 L572.5 194.1 L576 196 Z" fill="#265bf9"/>
<path d="M534.9 97.6 L531.3 88.3 L521.2 80.3 L525 91.2 Z" fill="#265bf9"/>
<path d="M628.9 191.9 L625.3 189.9 L616.9 203.7 L620.5 205.9 Z" fill="#265bf9"/>
<path d="M536.1 130.6 L532.5 120.3 L522.9 133.4 L526.6 144.1 Z" fill="#265bf9"/>
<path d="M588.4 187.4 L584.9 185.9 L576 196 L579.6 197.8 Z" fill="#265bf9"/>
<path d="M632.5 193.9 L628.9 191.9 L620.5 205.9 L624.2 208 Z" fill="#265bf9"/>
<path d="M592 189 L588.4 187.4 L579.6 197.8 L583.1 199.8 Z" fill="#265bf9"/>
<path d="M514 69.1 L510.6 68.3 L499.7 51.1 L503.1 52.2 Z" fill="#265bf9"/>
<path d="M531.3 88.3 L527.8 81.2 L517.5 71.3 L521.2 80.3 Z" fill="#265bf9"/>
<path d="M636.1 195.8 L632.5 193.9 L624.2 208 L627.8 209.8 Z" fill="#265bf9"/>
<path d="M595.5 190.8 L592 189 L583.1 199.8 L586.7 201.8 Z" fill="#265bf9"/>
<path d="M517.4 70.7 L514 69.1 L503.1 52.2 L506.6 54.5 Z" fill="#265bf9"/>
<path d="M527.8 81.2 L524.3 76.3 L513.9 64.3 L517.5 71.3 Z" fill="#265bf9"/>
<path d="M532.5 120.3 L528.8 109.3 L519.1 120.6 L522.9 133.4 Z" fill="#265bf9"/>
<path d="M520.8 73.1 L517.4 70.7 L506.6 54.5 L510.2 58.7 Z" fill="#265bf9"/>
<path d="M524.3 76.3 L520.8 73.1 L510.2 58.7 L513.9 64.3 Z" fill="#265bf9"/>
<path d="M599.1 192.8 L595.5 190.8 L586.7 201.8 L590.3 203.9 Z" fill="#265bf9"/>
<path d="M544.4 173.3 L540.8 169.1 L531.2 177.7 L534.8 181.8 Z" fill="#265bf9"/>
<path d="M547.9 176.9 L544.4 173.3 L534.8 181.8 L538.3 185.6 Z" fill="#265bf9"/>
<path d="M540.8 169.1 L537.3 163.9 L527.7 173.1 L531.2 177.7 Z" fill="#265bf9"/>
<path d="M551.4 180.5 L547.9 176.9 L538.3 185.6 L541.9 189.2 Z" fill="#265bf9"/>
<path d="M554.9 183.7 L551.4 180.5 L541.9 189.2 L545.4 192.5 Z" fill="#265bf9"/>
<path d="M602.6 195 L599.1 192.8 L590.3 203.9 L593.9 206.1 Z" fill="#265bf9"/>
<path d="M537.3 163.9 L533.8 158.3 L524.1 167.9 L527.7 173.1 Z" fill="#265bf9"/>
<path d="M558.4 186.3 L554.9 183.7 L545.4 192.5 L549 195.2 Z" fill="#265bf9"/>
<path d="M533.8 158.3 L530.2 152.1 L520.5 162.2 L524.1 167.9 Z" fill="#265bf9"/>
<path d="M606.2 197.2 L602.6 195 L593.9 206.1 L597.5 208.4 Z" fill="#265bf9"/>
<path d="M561.9 188.5 L558.4 186.3 L549 195.2 L552.6 197.6 Z" fill="#265bf9"/>
<path d="M609.8 199.3 L606.2 197.2 L597.5 208.4 L601.1 210.8 Z" fill="#265bf9"/>
<path d="M530.2 152.1 L526.6 144.1 L516.8 155.7 L520.5 162.2 Z" fill="#265bf9"/>
<path d="M565.4 190.5 L561.9 188.5 L552.6 197.6 L556.1 199.8 Z" fill="#265bf9"/>
<path d="M613.3 201.5 L609.8 199.3 L601.1 210.8 L604.8 213.2 Z" fill="#265bf9"/>
<path d="M528.8 109.3 L525 91.2 L515.2 106.5 L519.1 120.6 Z" fill="#265bf9"/>
<path d="M568.9 192.3 L565.4 190.5 L556.1 199.8 L559.7 201.9 Z" fill="#265bf9"/>
<path d="M616.9 203.7 L613.3 201.5 L604.8 213.2 L608.4 215.7 Z" fill="#265bf9"/>
<path d="M526.6 144.1 L522.9 133.4 L513.1 148 L516.8 155.7 Z" fill="#265bf9"/>
<path d="M572.5 194.1 L568.9 192.3 L559.7 201.9 L563.3 204.1 Z" fill="#265bf9"/>
<path d="M620.5 205.9 L616.9 203.7 L608.4 215.7 L612 218.2 Z" fill="#265bf9"/>
<path d="M576 196 L572.5 194.1 L563.3 204.1 L566.9 206.3 Z" fill="#265bf9"/>
<path d="M624.2 208 L620.5 205.9 L612 218.2 L615.7 220.5 Z" fill="#265bf9"/>
<path d="M579.6 197.8 L576 196 L566.9 206.3 L570.5 208.5 Z" fill="#265bf9"/>
<path d="M627.8 209.8 L624.2 208 L615.7 220.5 L619.3 222.6 Z" fill="#265bf9"/>
<path d="M522.9 133.4 L519.1 120.6 L509.4 139.1 L513.1 148 Z" fill="#265bf9"/>
<path d="M583.1 199.8 L579.6 197.8 L570.5 208.5 L574.1 210.8 Z" fill="#265bf9"/>
<path d="M525 91.2 L521.2 80.3 L511.3 92.8 L515.2 106.5 Z" fill="#265bf9"/>
<path d="M586.7 201.8 L583.1 199.8 L574.1 210.8 L577.7 213 Z" fill="#265bf9"/>
<path d="M590.3 203.9 L586.7 201.8 L577.7 213 L581.3 215.3 Z" fill="#265bf9"/>
<path d="M519.1 120.6 L515.2 106.5 L505.5 129.3 L509.4 139.1 Z" fill="#265bf9"/>
<path d="M593.9 206.1 L590.3 203.9 L581.3 215.3 L585 217.6 Z" fill="#265bf9"/>
<path d="M531.2 177.7 L527.7 173.1 L517.7 183.2 L521.3 187.3 Z" fill="#265bf9"/>
<path d="M534.8 181.8 L531.2 177.7 L521.3 187.3 L524.9 191 Z" fill="#265bf9"/>
<path d="M538.3 185.6 L534.8 181.8 L524.9 191 L528.5 194.6 Z" fill="#265bf9"/>
<path d="M527.7 173.1 L524.1 167.9 L514.1 178.8 L517.7 183.2 Z" fill="#265bf9"/>
<path d="M521.2 80.3 L517.5 71.3 L507.5 82.4 L511.3 92.8 Z" fill="#265bf9"/>
<path d="M541.9 189.2 L538.3 185.6 L528.5 194.6 L532.1 198.2 Z" fill="#265bf9"/>
<path d="M524.1 167.9 L520.5 162.2 L510.4 173.9 L514.1 178.8 Z" fill="#265bf9"/>
<path d="M597.5 208.4 L593.9 206.1 L585 217.6 L588.6 220 Z" fill="#265bf9"/>
<path d="M545.4 192.5 L541.9 189.2 L532.1 198.2 L535.7 201.5 Z" fill="#265bf9"/>
<path d="M549 195.2 L545.4 192.5 L535.7 201.5 L539.3 204.3 Z" fill="#265bf9"/>
<path d="M520.5 162.2 L516.8 155.7 L506.8 168.6 L510.4 173.9 Z" fill="#265bf9"/>
<path d="M601.1 210.8 L597.5 208.4 L588.6 220 L592.3 222.4 Z" fill="#265bf9"/>
<path d="M552.6 197.6 L549 195.2 L539.3 204.3 L542.9 206.9 Z" fill="#265bf9"/>
<path d="M516.8 155.7 L513.1 148 L503.1 163 L506.8 168.6 Z" fill="#265bf9"/>
<path d="M517.5 71.3 L513.9 64.3 L503.7 74.7 L507.5 82.4 Z" fill="#265bf9"/>
<path d="M604.8 213.2 L601.1 210.8 L592.3 222.4 L595.9 224.9 Z" fill="#265bf9"/>
<path d="M503.1 52.2 L499.7 51.1 L489.2 58.7 L492.8 60.8 Z" fill="#265bf9"/>
<path d="M556.1 199.8 L552.6 197.6 L542.9 206.9 L546.5 209.3 Z" fill="#265bf9"/>
<path d="M608.4 215.7 L604.8 213.2 L595.9 224.9 L599.6 227.3 Z" fill="#265bf9"/>
<path d="M515.2 106.5 L511.3 92.8 L501.7 119 L505.5 129.3 Z" fill="#265bf9"/>
<path d="M513.9 64.3 L510.2 58.7 L500 68.9 L503.7 74.7 Z" fill="#265bf9"/>
<path d="M506.6 54.5 L503.1 52.2 L492.8 60.8 L496.4 64.3 Z" fill="#265bf9"/>
<path d="M513.1 148 L509.4 139.1 L499.4 157.1 L503.1 163 Z" fill="#265bf9"/>
<path d="M510.2 58.7 L506.6 54.5 L496.4 64.3 L500 68.9 Z" fill="#265bf9"/>
<path d="M559.7 201.9 L556.1 199.8 L546.5 209.3 L550.2 211.6 Z" fill="#265bf9"/>
<path d="M612 218.2 L608.4 215.7 L599.6 227.3 L603.3 229.6 Z" fill="#265bf9"/>
<path d="M563.3 204.1 L559.7 201.9 L550.2 211.6 L553.8 214.1 Z" fill="#265bf9"/>
<path d="M615.7 220.5 L612 218.2 L603.3 229.6 L607 231.7 Z" fill="#265bf9"/>
<path d="M509.4 139.1 L505.5 129.3 L495.7 151 L499.4 157.1 Z" fill="#265bf9"/>
<path d="M566.9 206.3 L563.3 204.1 L553.8 214.1 L557.4 216.5 Z" fill="#265bf9"/>
<path d="M619.3 222.6 L615.7 220.5 L607 231.7 L610.7 233.7 Z" fill="#265bf9"/>
<path d="M511.3 92.8 L507.5 82.4 L497.8 108.8 L501.7 119 Z" fill="#265bf9"/>
<path d="M570.5 208.5 L566.9 206.3 L557.4 216.5 L561.1 219 Z" fill="#265bf9"/>
<path d="M505.5 129.3 L501.7 119 L491.9 144.8 L495.7 151 Z" fill="#265bf9"/>
<path d="M574.1 210.8 L570.5 208.5 L561.1 219 L564.7 221.4 Z" fill="#265bf9"/>
<path d="M577.7 213 L574.1 210.8 L564.7 221.4 L568.4 223.8 Z" fill="#265bf9"/>
<path d="M507.5 82.4 L503.7 74.7 L493.9 100 L497.8 108.8 Z" fill="#265bf9"/>
<path d="M501.7 119 L497.8 108.8 L488.2 138.7 L491.9 144.8 Z" fill="#265bf9"/>
<path d="M581.3 215.3 L577.7 213 L568.4 223.8 L572.1 226.3 Z" fill="#265bf9"/>
<path d="M492.8 60.8 L489.2 58.7 L479.4 83 L482.9 84.9 Z" fill="#265bf9"/>
<path d="M473.5 120.3 L470 117.7 L460.8 154.8 L464.3 156.1 Z" fill="#265bf9"/>
<path d="M503.7 74.7 L500 68.9 L490.2 92.9 L493.9 100 Z" fill="#265bf9"/>
<path d="M585 217.6 L581.3 215.3 L572.1 226.3 L575.7 228.7 Z" fill="#265bf9"/>
<path d="M497.8 108.8 L493.9 100 L484.5 133 L488.2 138.7 Z" fill="#265bf9"/>
<path d="M517.7 183.2 L514.1 178.8 L503.8 190.4 L507.4 194.1 Z" fill="#265bf9"/>
<path d="M514.1 178.8 L510.4 173.9 L500.1 186.2 L503.8 190.4 Z" fill="#265bf9"/>
<path d="M496.4 64.3 L492.8 60.8 L482.9 84.9 L486.5 88 Z" fill="#265bf9"/>
<path d="M500 68.9 L496.4 64.3 L486.5 88 L490.2 92.9 Z" fill="#265bf9"/>
<path d="M521.3 187.3 L517.7 183.2 L507.4 194.1 L511.1 197.4 Z" fill="#265bf9"/>
<path d="M510.4 173.9 L506.8 168.6 L496.4 181.7 L500.1 186.2 Z" fill="#265bf9"/>
<path d="M477.1 123.7 L473.5 120.3 L464.3 156.1 L467.7 157.4 Z" fill="#265bf9"/>
<path d="M524.9 191 L521.3 187.3 L511.1 197.4 L514.7 200.6 Z" fill="#265bf9"/>
<path d="M588.6 220 L585 217.6 L575.7 228.7 L579.4 231.2 Z" fill="#265bf9"/>
<path d="M506.8 168.6 L503.1 163 L492.8 177.3 L496.4 181.7 Z" fill="#265bf9"/>
<path d="M482.9 84.9 L479.4 83 L470 117.7 L473.5 120.3 Z" fill="#265bf9"/>
<path d="M528.5 194.6 L524.9 191 L514.7 200.6 L518.4 203.8 Z" fill="#265bf9"/>
<path d="M503.1 163 L499.4 157.1 L489.1 173.1 L492.8 177.3 Z" fill="#265bf9"/>
<path d="M493.9 100 L490.2 92.9 L480.8 127.9 L484.5 133 Z" fill="#265bf9"/>
<path d="M480.8 127.9 L477.1 123.7 L467.7 157.4 L471.2 158.9 Z" fill="#265bf9"/>
<path d="M532.1 198.2 L528.5 194.6 L518.4 203.8 L522 207.3 Z" fill="#265bf9"/>
<path d="M592.3 222.4 L588.6 220 L579.4 231.2 L583.1 233.6 Z" fill="#265bf9"/>
<path d="M499.4 157.1 L495.7 151 L485.5 169.2 L489.1 173.1 Z" fill="#265bf9"/>
<path d="M486.5 88 L482.9 84.9 L473.5 120.3 L477.1 123.7 Z" fill="#265bf9"/>
<path d="M490.2 92.9 L486.5 88 L477.1 123.7 L480.8 127.9 Z" fill="#265bf9"/>
<path d="M535.7 201.5 L532.1 198.2 L522 207.3 L525.7 210.6 Z" fill="#265bf9"/>
<path d="M484.5 133 L480.8 127.9 L471.2 158.9 L474.7 160.8 Z" fill="#265bf9"/>
<path d="M495.7 151 L491.9 144.8 L481.8 166 L485.5 169.2 Z" fill="#265bf9"/>
<path d="M488.2 138.7 L484.5 133 L474.7 160.8 L478.2 163.1 Z" fill="#265bf9"/>
<path d="M491.9 144.8 L488.2 138.7 L478.2 163.1 L481.8 166 Z" fill="#265bf9"/>
<path d="M539.3 204.3 L535.7 201.5 L525.7 210.6 L529.3 213.6 Z" fill="#265bf9"/>
<path d="M595.9 224.9 L592.3 222.4 L583.1 233.6 L586.8 236 Z" fill="#265bf9"/>
<path d="M542.9 206.9 L539.3 204.3 L529.3 213.6 L533 216.4 Z" fill="#265bf9"/>
<path d="M599.6 227.3 L595.9 224.9 L586.8 236 L590.6 238.4 Z" fill="#265bf9"/>
<path d="M546.5 209.3 L542.9 206.9 L533 216.4 L536.7 219.1 Z" fill="#265bf9"/>
<path d="M603.3 229.6 L599.6 227.3 L590.6 238.4 L594.3 240.5 Z" fill="#265bf9"/>
<path d="M550.2 211.6 L546.5 209.3 L536.7 219.1 L540.3 221.8 Z" fill="#265bf9"/>
<path d="M607 231.7 L603.3 229.6 L594.3 240.5 L598.1 242.5 Z" fill="#265bf9"/>
<path d="M553.8 214.1 L550.2 211.6 L540.3 221.8 L544 224.4 Z" fill="#265bf9"/>
<path d="M557.4 216.5 L553.8 214.1 L544 224.4 L547.7 227.1 Z" fill="#265bf9"/>
<path d="M610.7 233.7 L607 231.7 L598.1 242.5 L601.8 244.4 Z" fill="#265bf9"/>
<path d="M561.1 219 L557.4 216.5 L547.7 227.1 L551.4 229.7 Z" fill="#265bf9"/>
<path d="M564.7 221.4 L561.1 219 L551.4 229.7 L555.1 232.3 Z" fill="#265bf9"/>
<path d="M568.4 223.8 L564.7 221.4 L555.1 232.3 L558.8 234.8 Z" fill="#265bf9"/>
<path d="M572.1 226.3 L568.4 223.8 L558.8 234.8 L562.5 237.4 Z" fill="#265bf9"/>
<path d="M575.7 228.7 L572.1 226.3 L562.5 237.4 L566.2 239.9 Z" fill="#265bf9"/>
<path d="M579.4 231.2 L575.7 228.7 L566.2 239.9 L570 242.4 Z" fill="#265bf9"/>
<path d="M583.1 233.6 L579.4 231.2 L570 242.4 L573.7 244.9 Z" fill="#265bf9"/>
<path d="M586.8 236 L583.1 233.6 L573.7 244.9 L577.5 247.3 Z" fill="#265bf9"/>
<path d="M590.6 238.4 L586.8 236 L577.5 247.3 L581.3 249.4 Z" fill="#265bf9"/>
<path d="M594.3 240.5 L590.6 238.4 L581.3 249.4 L585 251.5 Z" fill="#265bf9"/>
<path d="M598.1 242.5 L594.3 240.5 L585 251.5 L588.8 253.5 Z" fill="#265bf9"/>
<path d="M601.8 244.4 L598.1 242.5 L588.8 253.5 L592.7 255.4 Z" fill="#265bf9"/>
</g>
<line x1="455.6" y1="79.8" x2="595.5" y2="118.2" stroke="#222" stroke-width="0.7" stroke-dasharray="0.9 2.0"/>
<line x1="595.5" y1="118.2" x2="666.4" y2="55.3" stroke="#222" stroke-width="0.7" stroke-dasharray="0.9 2.0"/>
<line x1="592.7" y1="255.4" x2="595.5" y2="118.2" stroke="#222" stroke-width="0.7" stroke-dasharray="0.9 2.0"/>
<line x1="588.8" y1="254" x2="586.5" y2="260.3" stroke="#222" stroke-width="0.7"/>
<text x="584.2" y="271.2" font-size="9.5" text-anchor="middle" >-10</text>
<line x1="551.5" y1="240.9" x2="549.2" y2="247" stroke="#222" stroke-width="0.7"/>
<text x="546.8" y="257.7" font-size="9.5" text-anchor="middle" >0</text>
<line x1="515.7" y1="228.2" x2="513.4" y2="234.2" stroke="#222" stroke-width="0.7"/>
<text x="511" y="244.8" font-size="9.5" text-anchor="middle" >10</text>
<line x1="481.3" y1="216.1" x2="479" y2="221.9" stroke="#222" stroke-width="0.7"/>
<text x="476.7" y="232.4" font-size="9.5" text-anchor="middle" >20</text>
<text x="525.3" y="258.7" font-size="9.5" text-anchor="middle" transform="rotate(19.6 525.3 258.7)" >Temperature(&#186;C)</text>
<line x1="658.2" y1="181.1" x2="661.8" y2="185.7" stroke="#222" stroke-width="0.7"/>
<text x="665.3" y="194.9" font-size="9.5" text-anchor="middle" >0</text>
<line x1="643.4" y1="198" x2="647" y2="202.7" stroke="#222" stroke-width="0.7"/>
<text x="650.7" y="212" font-size="9.5" text-anchor="middle" >1</text>
<line x1="627.5" y1="215.9" x2="631.3" y2="220.8" stroke="#222" stroke-width="0.7"/>
<text x="635.1" y="230.3" font-size="9.5" text-anchor="middle" >2</text>
<line x1="610.7" y1="235" x2="614.6" y2="240" stroke="#222" stroke-width="0.7"/>
<text x="618.5" y="249.7" font-size="9.5" text-anchor="middle" >3</text>
<line x1="592.7" y1="255.4" x2="596.7" y2="260.6" stroke="#222" stroke-width="0.7"/>
<text x="600.8" y="270.4" font-size="9.5" text-anchor="middle" >4</text>
<text x="642.8" y="236.3" font-size="9.5" text-anchor="middle" transform="rotate(-49 642.8 236.3)" >Lag</text>
<line x1="464.5" y1="207.8" x2="458.4" y2="208.7" stroke="#222" stroke-width="0.7"/>
<text x="451.2" y="213" font-size="9.5" text-anchor="middle" >0.5</text>
<line x1="462.9" y1="185.1" x2="456.7" y2="185.9" stroke="#222" stroke-width="0.7"/>
<text x="449.4" y="190.1" font-size="9.5" text-anchor="middle" >1.0</text>
<line x1="461.3" y1="161.6" x2="455" y2="162.4" stroke="#222" stroke-width="0.7"/>
<text x="447.6" y="166.6" font-size="9.5" text-anchor="middle" >1.5</text>
<line x1="459.6" y1="137.3" x2="453.2" y2="138.1" stroke="#222" stroke-width="0.7"/>
<text x="445.7" y="142.3" font-size="9.5" text-anchor="middle" >2.0</text>
<line x1="457.8" y1="112.2" x2="451.3" y2="113" stroke="#222" stroke-width="0.7"/>
<text x="443.7" y="117.1" font-size="9.5" text-anchor="middle" >2.5</text>
<line x1="456" y1="86.3" x2="449.4" y2="87" stroke="#222" stroke-width="0.7"/>
<text x="441.7" y="91.1" font-size="9.5" text-anchor="middle" >3.0</text>
<text x="438" y="152.5" font-size="9.5" text-anchor="middle" transform="rotate(85.8 438 152.5)" dominant-baseline="middle">RR</text>
<clipPath id="cb"><rect x="49.2" y="340.7" width="285.1" height="247.90000000000003"/></clipPath>
<g clip-path="url(#cb)">
<path d="M49.2 588.6L55.4 588.6L61.6 588.6L67.8 588.6L74 588.6L80.2 588.6L86.4 588.6L92.6 588.6L98.8 588.6L105 588.6L111.2 588.6L117.2 588.6L111.2 558.7L111 557.6L105 530.5L104.4 526.6L102.3 495.6L102.5 464.6L103.4 433.7L105 420.1L107.5 402.7L111.2 378.3L112.5 371.7L115.9 340.7L111.2 340.7L105 340.7L98.8 340.7L92.6 340.7L86.4 340.7L80.2 340.7L74 340.7L67.8 340.7L61.6 340.7L55.4 340.7L49.2 340.7L49.2 371.7L49.2 402.7L49.2 433.7L49.2 464.6L49.2 495.6L49.2 526.6L49.2 557.6ZM234.5 588.6L235.1 588.6L241.3 588.6L247.5 588.6L253.7 588.6L259.9 588.6L266.1 588.6L272.3 588.6L278.5 588.6L283.5 588.6L278.5 587.4L272.3 586.6L266.1 586.2L259.9 585.9L253.7 585.9L247.5 586.4L241.3 587.2L235.1 588.4ZM331.2 464.6L334.3 478.2L334.3 464.6L334.3 433.7L334.3 402.7L334.3 371.7L334.3 340.7L328.1 340.7L321.9 340.7L315.7 340.7L309.5 340.7L303.3 340.7L298.3 340.7L303.3 360.7L306 371.7L309.5 387.2L313.3 402.7L315.7 411.6L321.9 432.3L322.3 433.7L328.1 455.7Z" fill="#ffeeee"/>
<path d="M49.2 588.6L55.4 588.6L61.6 588.6L67.8 588.6L74 588.6L80.2 588.6L86.4 588.6L92.6 588.6L98.8 588.6L104.2 588.6L100 557.6L98.8 549.5L96.3 526.6L95.4 495.6L96.1 464.6L96.7 433.7L98.8 412.5L99.9 402.7L103.3 371.7L105 353.3L106.3 340.7L105 340.7L98.8 340.7L92.6 340.7L86.4 340.7L80.2 340.7L74 340.7L67.8 340.7L61.6 340.7L55.4 340.7L49.2 340.7L49.2 371.7L49.2 402.7L49.2 433.7L49.2 464.6L49.2 495.6L49.2 526.6L49.2 557.6ZM334.1 433.7L334.3 434.4L334.3 433.7L334.3 402.7L334.3 371.7L334.3 340.7L328.1 340.7L321.9 340.7L315.7 340.7L309.5 340.7L308.1 340.7L309.5 346.5L315.7 371.5L315.7 371.7L321.9 394.9L324.4 402.7L328.1 414.9Z" fill="#ffdddd"/>
<path d="M49.2 588.6L55.4 588.6L61.6 588.6L67.8 588.6L74 588.6L80.2 588.6L86.4 588.6L92.6 588.6L94 588.6L92.6 573.3L91.5 557.6L89.7 526.6L89.7 495.6L90.5 464.6L91.1 433.7L92.6 415.1L93.7 402.7L96.2 371.7L98.8 344L99.1 340.7L98.8 340.7L92.6 340.7L86.4 340.7L80.2 340.7L74 340.7L67.8 340.7L61.6 340.7L55.4 340.7L49.2 340.7L49.2 371.7L49.2 402.7L49.2 433.7L49.2 464.6L49.2 495.6L49.2 526.6L49.2 557.6ZM325.4 371.7L328.1 380.8L334.3 398.3L334.3 371.7L334.3 340.7L328.1 340.7L321.9 340.7L317.2 340.7L321.9 359.2Z" fill="#ffcccc"/>
<path d="M49.2 588.6L55.4 588.6L61.6 588.6L67.8 588.6L74 588.6L80.2 588.6L85.1 588.6L84.2 557.6L83.9 526.6L84.6 495.6L85.4 464.6L86 433.7L86.4 428.1L88.3 402.7L90.1 371.7L92.4 340.7L86.4 340.7L80.2 340.7L74 340.7L67.8 340.7L61.6 340.7L55.4 340.7L49.2 340.7L49.2 371.7L49.2 402.7L49.2 433.7L49.2 464.6L49.2 495.6L49.2 526.6L49.2 557.6ZM326.2 340.7L328.1 347.5L334.3 367.9L334.3 340.7L328.1 340.7Z" fill="#ffbbbb"/>
<path d="M49.2 588.6L55.4 588.6L61.6 588.6L67.8 588.6L74 588.6L77.2 588.6L77.8 557.6L78.7 526.6L79.8 495.6L80.2 480.3L80.6 464.6L81.4 433.7L83.5 402.7L84.8 371.7L86.4 345.1L86.7 340.7L86.4 340.7L80.2 340.7L74 340.7L67.8 340.7L61.6 340.7L55.4 340.7L49.2 340.7L49.2 371.7L49.2 402.7L49.2 433.7L49.2 464.6L49.2 495.6L49.2 526.6L49.2 557.6Z" fill="#ffaaaa"/>
<path d="M49.2 588.6L55.4 588.6L61.6 588.6L67.8 588.6L70 588.6L71.9 557.6L73.8 526.6L74 523.8L75.4 495.6L76.4 464.6L77.1 433.7L79 402.7L80 371.7L80.2 368.3L81.8 340.7L80.2 340.7L74 340.7L67.8 340.7L61.6 340.7L55.4 340.7L49.2 340.7L49.2 371.7L49.2 402.7L49.2 433.7L49.2 464.6L49.2 495.6L49.2 526.6L49.2 557.6Z" fill="#ff9999"/>
<path d="M49.2 588.6L55.4 588.6L61.6 588.6L63.5 588.6L66.5 557.6L67.8 544.6L69.3 526.6L71.2 495.6L72.3 464.6L73 433.7L74 416.1L74.8 402.7L75.7 371.7L77.2 340.7L74 340.7L67.8 340.7L61.6 340.7L55.4 340.7L49.2 340.7L49.2 371.7L49.2 402.7L49.2 433.7L49.2 464.6L49.2 495.6L49.2 526.6L49.2 557.6Z" fill="#ff8888"/>
<path d="M49.2 588.6L55.4 588.6L57.6 588.6L61.4 557.6L61.6 556.3L65.3 526.6L67.3 495.6L67.8 483L68.5 464.6L69.2 433.7L70.9 402.7L71.7 371.7L72.9 340.7L67.8 340.7L61.6 340.7L55.4 340.7L49.2 340.7L49.2 371.7L49.2 402.7L49.2 433.7L49.2 464.6L49.2 495.6L49.2 526.6L49.2 557.6Z" fill="#ff7777"/>
<path d="M49.2 588.6L50.8 588.6L55.4 566.5L56.6 557.6L61.4 526.6L61.6 524.3L63.7 495.6L65 464.6L65.7 433.7L67.2 402.7L67.8 372.6L67.8 371.7L68.8 340.7L67.8 340.7L61.6 340.7L55.4 340.7L49.2 340.7L49.2 371.7L49.2 402.7L49.2 433.7L49.2 464.6L49.2 495.6L49.2 526.6L49.2 557.6Z" fill="#ff6666"/>
<path d="M49.2 557.6L49.2 571.2L52 557.6L55.4 541.6L57.9 526.6L60.3 495.6L61.6 464.6L61.6 464.5L62.2 433.7L63.8 402.7L64.3 371.7L65 340.7L61.6 340.7L55.4 340.7L49.2 340.7L49.2 371.7L49.2 402.7L49.2 433.7L49.2 464.6L49.2 495.6L49.2 526.6Z" fill="#ff5555"/>
<path d="M49.2 526.6L49.2 552L54.5 526.6L55.4 515.6L57.1 495.6L58.6 464.6L59.2 433.7L60.5 402.7L61 371.7L61.3 340.7L55.4 340.7L49.2 340.7L49.2 371.7L49.2 402.7L49.2 433.7L49.2 464.6L49.2 495.6Z" fill="#ff4444"/>
<path d="M49.2 526.6L49.2 537.5L51.5 526.6L54.4 495.6L55.4 468.5L55.6 464.6L56.2 433.7L57.7 402.7L58 371.7L58.2 340.7L55.4 340.7L49.2 340.7L49.2 371.7L49.2 402.7L49.2 433.7L49.2 464.6L49.2 495.6Z" fill="#ff3333"/>
<path d="M49.2 495.6L49.2 522.1L52.3 495.6L53.8 464.6L54.2 433.7L55 402.7L55.1 371.7L55.1 340.7L49.2 340.7L49.2 371.7L49.2 402.7L49.2 433.7L49.2 464.6Z" fill="#ff2222"/>
<path d="M49.2 495.6L49.2 504.5L50.2 495.6L52 464.6L52.5 433.7L53.1 402.7L52.7 371.7L52.7 340.7L49.2 340.7L49.2 371.7L49.2 402.7L49.2 433.7L49.2 464.6Z" fill="#ff1111"/>
<path d="M49.2 464.6L49.2 481.8L50.3 464.6L50.8 433.7L51.1 402.7L50.3 371.7L50.2 340.7L49.2 340.7L49.2 371.7L49.2 402.7L49.2 433.7Z" fill="#ff0000"/>
<path d="M222.9 526.6L228.9 530L235.1 532.1L241.3 533.3L247.5 533.6L253.7 533.3L259.9 532.3L266.1 530.7L272.3 528.7L276.7 526.6L278.5 525.2L284.7 517.8L290.9 507.3L295.8 495.6L297.1 487.6L299.8 464.6L297.3 433.7L297.1 432.9L291 402.7L290.9 402.3L284.7 378.9L282.8 371.7L278.5 359.1L272.3 341.7L272 340.7L266.1 340.7L259.9 340.7L253.7 340.7L247.5 340.7L241.3 340.7L235.1 340.7L228.9 340.7L222.7 340.7L216.5 340.7L210.3 340.7L204.1 340.7L201.8 340.7L201.9 371.7L200.8 402.7L202.1 433.7L202 464.6L204.1 477L208 495.6L210.3 504.1L216.5 518.2L222.7 526.5ZM126.7 495.6L129.8 501.9L136 506.2L142.2 497.2L142.8 495.6L145.1 464.6L142.5 433.7L142.2 433L136 420L129.8 422.5L125.7 433.7L123.6 453L122.6 464.6L123.6 475Z" fill="#8080ff"/>
<path d="M234.9 495.6L235.1 495.9L241.3 498.9L247.5 499.9L253.7 499.6L259.9 497.8L263.4 495.6L266.1 492.2L272.3 480.3L278.3 464.6L278.5 460L279.3 433.7L278.5 429.9L272.7 402.7L272.3 401.4L266.1 380.7L263.5 371.7L259.9 363.5L253.7 350.7L247.7 340.7L247.5 340.7L241.3 340.7L235.1 340.7L228.9 340.7L224.7 340.7L222.7 345.2L217.8 371.7L218.2 402.7L217.1 433.7L220.3 464.6L222.7 472L228.9 485.9Z" fill="#0000ff"/>

</g>
<rect x="49.2" y="340.7" width="285.1" height="247.9" fill="none" stroke="#222" stroke-width="0.8"/>
<line x1="61.6" y1="588.6" x2="61.6" y2="584.1" stroke="#222" stroke-width="0.7"/>
<text x="61.6" y="608.9" font-size="11.2" text-anchor="middle" >30</text>
<line x1="123.6" y1="588.6" x2="123.6" y2="584.1" stroke="#222" stroke-width="0.7"/>
<text x="123.6" y="608.9" font-size="11.2" text-anchor="middle" >40</text>
<line x1="185.6" y1="588.6" x2="185.6" y2="584.1" stroke="#222" stroke-width="0.7"/>
<text x="185.6" y="608.9" font-size="11.2" text-anchor="middle" >50</text>
<line x1="247.5" y1="588.6" x2="247.5" y2="584.1" stroke="#222" stroke-width="0.7"/>
<text x="247.5" y="608.9" font-size="11.2" text-anchor="middle" >60</text>
<line x1="309.5" y1="588.6" x2="309.5" y2="584.1" stroke="#222" stroke-width="0.7"/>
<text x="309.5" y="608.9" font-size="11.2" text-anchor="middle" >70</text>
<line x1="49.2" y1="588.6" x2="53.7" y2="588.6" stroke="#222" stroke-width="0.7"/>
<text x="38.4" y="592.1" font-size="11.2" text-anchor="middle" >0</text>
<line x1="49.2" y1="526.6" x2="53.7" y2="526.6" stroke="#222" stroke-width="0.7"/>
<text x="38.4" y="530.1" font-size="11.2" text-anchor="middle" >1</text>
<line x1="49.2" y1="464.6" x2="53.7" y2="464.6" stroke="#222" stroke-width="0.7"/>
<text x="38.4" y="468.1" font-size="11.2" text-anchor="middle" >2</text>
<line x1="49.2" y1="402.7" x2="53.7" y2="402.7" stroke="#222" stroke-width="0.7"/>
<text x="38.4" y="406.2" font-size="11.2" text-anchor="middle" >3</text>
<line x1="49.2" y1="340.7" x2="53.7" y2="340.7" stroke="#222" stroke-width="0.7"/>
<text x="38.4" y="344.2" font-size="11.2" text-anchor="middle" >4</text>
<text x="191.8" y="625.8" font-size="9.4" text-anchor="middle" >Relative Humidity(%)</text>
<text x="23.4" y="464.6" font-size="9.4" text-anchor="middle" transform="rotate(-90 23.4 464.6)" >Lag</text>
<text x="10.6" y="347.7" font-size="13.1" text-anchor="middle" font-weight="bold" >b</text>
<rect x="348.9" y="575.6" width="21.9" height="13" fill="#0000ff" stroke="#222" stroke-width="0.7"/>
<rect x="348.9" y="562.5" width="21.9" height="13" fill="#8080ff" stroke="#222" stroke-width="0.7"/>
<rect x="348.9" y="549.5" width="21.9" height="13" fill="#ffffff" stroke="#222" stroke-width="0.7"/>
<rect x="348.9" y="536.4" width="21.9" height="13" fill="#ffffff" stroke="#222" stroke-width="0.7"/>
<rect x="348.9" y="523.4" width="21.9" height="13" fill="#ffeeee" stroke="#222" stroke-width="0.7"/>
<rect x="348.9" y="510.3" width="21.9" height="13" fill="#ffdddd" stroke="#222" stroke-width="0.7"/>
<rect x="348.9" y="497.3" width="21.9" height="13" fill="#ffcccc" stroke="#222" stroke-width="0.7"/>
<rect x="348.9" y="484.2" width="21.9" height="13" fill="#ffbbbb" stroke="#222" stroke-width="0.7"/>
<rect x="348.9" y="471.2" width="21.9" height="13" fill="#ffaaaa" stroke="#222" stroke-width="0.7"/>
<rect x="348.9" y="458.1" width="21.9" height="13" fill="#ff9999" stroke="#222" stroke-width="0.7"/>
<rect x="348.9" y="445.1" width="21.9" height="13" fill="#ff8888" stroke="#222" stroke-width="0.7"/>
<rect x="348.9" y="432" width="21.9" height="13" fill="#ff7777" stroke="#222" stroke-width="0.7"/>
<rect x="348.9" y="419" width="21.9" height="13" fill="#ff6666" stroke="#222" stroke-width="0.7"/>
<rect x="348.9" y="405.9" width="21.9" height="13" fill="#ff5555" stroke="#222" stroke-width="0.7"/>
<rect x="348.9" y="392.9" width="21.9" height="13" fill="#ff4444" stroke="#222" stroke-width="0.7"/>
<rect x="348.9" y="379.8" width="21.9" height="13" fill="#ff3333" stroke="#222" stroke-width="0.7"/>
<rect x="348.9" y="366.8" width="21.9" height="13" fill="#ff2222" stroke="#222" stroke-width="0.7"/>
<rect x="348.9" y="353.7" width="21.9" height="13" fill="#ff1111" stroke="#222" stroke-width="0.7"/>
<rect x="348.9" y="340.7" width="21.9" height="13" fill="#ff0000" stroke="#222" stroke-width="0.7"/>
<line x1="370.8" y1="549.5" x2="376.4" y2="549.5" stroke="#222" stroke-width="0.7"/>
<text x="382.3" y="552.8" font-size="9.5" text-anchor="start" >1.0</text>
<line x1="370.8" y1="497.3" x2="376.4" y2="497.3" stroke="#222" stroke-width="0.7"/>
<text x="382.3" y="500.6" font-size="9.5" text-anchor="start" >1.2</text>
<line x1="370.8" y1="445.1" x2="376.4" y2="445.1" stroke="#222" stroke-width="0.7"/>
<text x="382.3" y="448.4" font-size="9.5" text-anchor="start" >1.4</text>
<line x1="370.8" y1="392.9" x2="376.4" y2="392.9" stroke="#222" stroke-width="0.7"/>
<text x="382.3" y="396.2" font-size="9.5" text-anchor="start" >1.6</text>
<line x1="370.8" y1="340.7" x2="376.4" y2="340.7" stroke="#222" stroke-width="0.7"/>
<text x="382.3" y="344" font-size="9.5" text-anchor="start" >1.8</text>
<text x="360.2" y="329.4" font-size="10.8" text-anchor="middle" font-weight="bold" >RR</text>
<line x1="464.8" y1="526.5" x2="592.8" y2="571.7" stroke="#222" stroke-width="0.8"/>
<line x1="592.8" y1="571.7" x2="658.3" y2="497.4" stroke="#222" stroke-width="0.8"/>
<line x1="658.3" y1="497.4" x2="540.4" y2="462.1" stroke="#222" stroke-width="0.8"/>
<line x1="540.4" y1="462.1" x2="464.8" y2="526.5" stroke="#222" stroke-width="0.8"/>
<line x1="464.8" y1="526.5" x2="455.7" y2="396.1" stroke="#222" stroke-width="0.8"/>
<line x1="540.4" y1="462.1" x2="538.5" y2="342.2" stroke="#222" stroke-width="0.8"/>
<line x1="658.3" y1="497.4" x2="666.5" y2="371.6" stroke="#222" stroke-width="0.8"/>
<line x1="455.7" y1="396.1" x2="538.5" y2="342.2" stroke="#222" stroke-width="0.8"/>
<line x1="538.5" y1="342.2" x2="666.5" y2="371.6" stroke="#222" stroke-width="0.8"/>
<g stroke="#7fffd4" stroke-width="0.5" stroke-linejoin="round" fill-opacity="0.86">
<path d="M542.6 445.9 L540.2 446 L531.5 451.5 L534 452.3 Z" fill="#265bf9"/>
<path d="M545 445.7 L542.6 445.9 L534 452.3 L536.4 453.1 Z" fill="#265bf9"/>
<path d="M547.5 445.4 L545 445.7 L536.4 453.1 L538.9 454 Z" fill="#265bf9"/>
<path d="M549.9 445.1 L547.5 445.4 L538.9 454 L541.4 454.8 Z" fill="#265bf9"/>
<path d="M552.4 445.1 L549.9 445.1 L541.4 454.8 L543.9 455.7 Z" fill="#265bf9"/>
<path d="M554.8 445.2 L552.4 445.1 L543.9 455.7 L546.4 456.6 Z" fill="#265bf9"/>
<path d="M557.3 445.3 L554.8 445.2 L546.4 456.6 L548.9 457.5 Z" fill="#265bf9"/>
<path d="M559.8 445.6 L557.3 445.3 L548.9 457.5 L551.4 458.5 Z" fill="#265bf9"/>
<path d="M562.3 446 L559.8 445.6 L551.4 458.5 L553.9 459.5 Z" fill="#265bf9"/>
<path d="M564.8 446.6 L562.3 446 L553.9 459.5 L556.4 460.5 Z" fill="#265bf9"/>
<path d="M534 452.3 L531.5 451.5 L522.6 457.5 L525.1 459.2 Z" fill="#265bf9"/>
<path d="M567.3 447.2 L564.8 446.6 L556.4 460.5 L558.9 461.5 Z" fill="#265bf9"/>
<path d="M536.4 453.1 L534 452.3 L525.1 459.2 L527.6 461 Z" fill="#265bf9"/>
<path d="M538.9 454 L536.4 453.1 L527.6 461 L530.1 462.8 Z" fill="#265bf9"/>
<path d="M569.8 447.8 L567.3 447.2 L558.9 461.5 L561.4 462.4 Z" fill="#265bf9"/>
<path d="M541.4 454.8 L538.9 454 L530.1 462.8 L532.7 464.6 Z" fill="#265bf9"/>
<path d="M572.3 448.5 L569.8 447.8 L561.4 462.4 L564 463.3 Z" fill="#265bf9"/>
<path d="M543.9 455.7 L541.4 454.8 L532.7 464.6 L535.2 466.3 Z" fill="#265bf9"/>
<path d="M574.8 449.4 L572.3 448.5 L564 463.3 L566.5 464.1 Z" fill="#265bf9"/>
<path d="M546.4 456.6 L543.9 455.7 L535.2 466.3 L537.7 468.1 Z" fill="#265bf9"/>
<path d="M548.9 457.5 L546.4 456.6 L537.7 468.1 L540.2 469.9 Z" fill="#265bf9"/>
<path d="M577.4 450.3 L574.8 449.4 L566.5 464.1 L569.1 464.8 Z" fill="#265bf9"/>
<path d="M551.4 458.5 L548.9 457.5 L540.2 469.9 L542.8 471.6 Z" fill="#265bf9"/>
<path d="M579.9 451.3 L577.4 450.3 L569.1 464.8 L571.6 465.5 Z" fill="#265bf9"/>
<path d="M553.9 459.5 L551.4 458.5 L542.8 471.6 L545.3 473.2 Z" fill="#265bf9"/>
<path d="M582.5 452.5 L579.9 451.3 L571.6 465.5 L574.2 466.1 Z" fill="#265bf9"/>
<path d="M556.4 460.5 L553.9 459.5 L545.3 473.2 L547.8 474.6 Z" fill="#265bf9"/>
<path d="M585 453.8 L582.5 452.5 L574.2 466.1 L576.8 466.8 Z" fill="#265bf9"/>
<path d="M558.9 461.5 L556.4 460.5 L547.8 474.6 L550.4 475.9 Z" fill="#265bf9"/>
<path d="M587.6 455.2 L585 453.8 L576.8 466.8 L579.3 467.4 Z" fill="#265bf9"/>
<path d="M561.4 462.4 L558.9 461.5 L550.4 475.9 L552.9 477 Z" fill="#265bf9"/>
<path d="M590.1 456.7 L587.6 455.2 L579.3 467.4 L581.9 468 Z" fill="#265bf9"/>
<path d="M564 463.3 L561.4 462.4 L552.9 477 L555.5 478 Z" fill="#265bf9"/>
<path d="M592.7 458.4 L590.1 456.7 L581.9 468 L584.5 468.7 Z" fill="#265bf9"/>
<path d="M566.5 464.1 L564 463.3 L555.5 478 L558 478.9 Z" fill="#265bf9"/>
<path d="M525.1 459.2 L522.6 457.5 L513.4 463.3 L516 465.8 Z" fill="#265bf9"/>
<path d="M595.2 460.2 L592.7 458.4 L584.5 468.7 L587.1 469.4 Z" fill="#265bf9"/>
<path d="M527.6 461 L525.1 459.2 L516 465.8 L518.5 468.4 Z" fill="#265bf9"/>
<path d="M569.1 464.8 L566.5 464.1 L558 478.9 L560.6 479.6 Z" fill="#265bf9"/>
<path d="M530.1 462.8 L527.6 461 L518.5 468.4 L521.1 471 Z" fill="#265bf9"/>
<path d="M597.8 461.9 L595.2 460.2 L587.1 469.4 L589.7 470.2 Z" fill="#265bf9"/>
<path d="M532.7 464.6 L530.1 462.8 L521.1 471 L523.7 473.6 Z" fill="#265bf9"/>
<path d="M535.2 466.3 L532.7 464.6 L523.7 473.6 L526.2 476.1 Z" fill="#265bf9"/>
<path d="M571.6 465.5 L569.1 464.8 L560.6 479.6 L563.1 480.1 Z" fill="#265bf9"/>
<path d="M600.4 463.5 L597.8 461.9 L589.7 470.2 L592.4 471.1 Z" fill="#265bf9"/>
<path d="M537.7 468.1 L535.2 466.3 L526.2 476.1 L528.8 478.5 Z" fill="#265bf9"/>
<path d="M540.2 469.9 L537.7 468.1 L528.8 478.5 L531.4 480.8 Z" fill="#265bf9"/>
<path d="M603 464.7 L600.4 463.5 L592.4 471.1 L595 472.2 Z" fill="#265bf9"/>
<path d="M542.8 471.6 L540.2 469.9 L531.4 480.8 L533.9 483 Z" fill="#265bf9"/>
<path d="M574.2 466.1 L571.6 465.5 L563.1 480.1 L565.7 480.4 Z" fill="#265bf9"/>
<path d="M545.3 473.2 L542.8 471.6 L533.9 483 L536.5 485.1 Z" fill="#265bf9"/>
<path d="M605.6 465.8 L603 464.7 L595 472.2 L597.6 473.4 Z" fill="#265bf9"/>
<path d="M547.8 474.6 L545.3 473.2 L536.5 485.1 L539.1 487 Z" fill="#265bf9"/>
<path d="M576.8 466.8 L574.2 466.1 L565.7 480.4 L568.3 480.4 Z" fill="#265bf9"/>
<path d="M608.2 466.7 L605.6 465.8 L597.6 473.4 L600.2 474.6 Z" fill="#265bf9"/>
<path d="M550.4 475.9 L547.8 474.6 L539.1 487 L541.6 488.8 Z" fill="#265bf9"/>
<path d="M552.9 477 L550.4 475.9 L541.6 488.8 L544.2 490.2 Z" fill="#265bf9"/>
<path d="M610.8 467.5 L608.2 466.7 L600.2 474.6 L602.9 475.7 Z" fill="#265bf9"/>
<path d="M579.3 467.4 L576.8 466.8 L568.3 480.4 L570.9 480.3 Z" fill="#265bf9"/>
<path d="M555.5 478 L552.9 477 L544.2 490.2 L546.8 491.3 Z" fill="#265bf9"/>
<path d="M613.4 468.1 L610.8 467.5 L602.9 475.7 L605.5 476.8 Z" fill="#265bf9"/>
<path d="M581.9 468 L579.3 467.4 L570.9 480.3 L573.5 480.1 Z" fill="#265bf9"/>
<path d="M558 478.9 L555.5 478 L546.8 491.3 L549.3 492.2 Z" fill="#265bf9"/>
<path d="M616.1 468.5 L613.4 468.1 L605.5 476.8 L608.2 477.6 Z" fill="#265bf9"/>
<path d="M584.5 468.7 L581.9 468 L573.5 480.1 L576.1 479.9 Z" fill="#265bf9"/>
<path d="M560.6 479.6 L558 478.9 L549.3 492.2 L551.9 492.8 Z" fill="#265bf9"/>
<path d="M618.8 468.6 L616.1 468.5 L608.2 477.6 L610.9 478.2 Z" fill="#265bf9"/>
<path d="M563.1 480.1 L560.6 479.6 L551.9 492.8 L554.5 493.1 Z" fill="#265bf9"/>
<path d="M587.1 469.4 L584.5 468.7 L576.1 479.9 L578.8 479.7 Z" fill="#265bf9"/>
<path d="M621.5 468.5 L618.8 468.6 L610.9 478.2 L613.6 478.4 Z" fill="#265bf9"/>
<path d="M565.7 480.4 L563.1 480.1 L554.5 493.1 L557.1 493 Z" fill="#265bf9"/>
<path d="M589.7 470.2 L587.1 469.4 L578.8 479.7 L581.4 479.3 Z" fill="#265bf9"/>
<path d="M516 465.8 L513.4 463.3 L503.9 468.1 L506.5 471.4 Z" fill="#265bf9"/>
<path d="M518.5 468.4 L516 465.8 L506.5 471.4 L509.1 474.9 Z" fill="#265bf9"/>
<path d="M521.1 471 L518.5 468.4 L509.1 474.9 L511.8 478.2 Z" fill="#265bf9"/>
<path d="M523.7 473.6 L521.1 471 L511.8 478.2 L514.4 481.5 Z" fill="#265bf9"/>
<path d="M526.2 476.1 L523.7 473.6 L514.4 481.5 L517 484.7 Z" fill="#265bf9"/>
<path d="M624.2 468 L621.5 468.5 L613.6 478.4 L616.3 478.2 Z" fill="#265bf9"/>
<path d="M528.8 478.5 L526.2 476.1 L517 484.7 L519.6 487.7 Z" fill="#265bf9"/>
<path d="M531.4 480.8 L528.8 478.5 L519.6 487.7 L522.2 490.5 Z" fill="#265bf9"/>
<path d="M533.9 483 L531.4 480.8 L522.2 490.5 L524.8 493.1 Z" fill="#265bf9"/>
<path d="M592.4 471.1 L589.7 470.2 L581.4 479.3 L584.1 479.1 Z" fill="#265bf9"/>
<path d="M568.3 480.4 L565.7 480.4 L557.1 493 L559.7 492.5 Z" fill="#265bf9"/>
<path d="M536.5 485.1 L533.9 483 L524.8 493.1 L527.4 495.5 Z" fill="#265bf9"/>
<path d="M539.1 487 L536.5 485.1 L527.4 495.5 L530 497.6 Z" fill="#265bf9"/>
<path d="M626.9 467.1 L624.2 468 L616.3 478.2 L619 477.5 Z" fill="#265bf9"/>
<path d="M595 472.2 L592.4 471.1 L584.1 479.1 L586.7 479.6 Z" fill="#265bf9"/>
<path d="M541.6 488.8 L539.1 487 L530 497.6 L532.6 499.4 Z" fill="#265bf9"/>
<path d="M570.9 480.3 L568.3 480.4 L559.7 492.5 L562.3 491.8 Z" fill="#265bf9"/>
<path d="M544.2 490.2 L541.6 488.8 L532.6 499.4 L535.2 500.9 Z" fill="#265bf9"/>
<path d="M597.6 473.4 L595 472.2 L586.7 479.6 L589.4 480.7 Z" fill="#265bf9"/>
<path d="M546.8 491.3 L544.2 490.2 L535.2 500.9 L537.8 502 Z" fill="#265bf9"/>
<path d="M600.2 474.6 L597.6 473.4 L589.4 480.7 L592.1 482.1 Z" fill="#265bf9"/>
<path d="M629.7 465.7 L626.9 467.1 L619 477.5 L621.8 476.2 Z" fill="#265bf9"/>
<path d="M573.5 480.1 L570.9 480.3 L562.3 491.8 L564.9 490.8 Z" fill="#265bf9"/>
<path d="M549.3 492.2 L546.8 491.3 L537.8 502 L540.4 503 Z" fill="#265bf9"/>
<path d="M602.9 475.7 L600.2 474.6 L592.1 482.1 L594.7 483.7 Z" fill="#265bf9"/>
<path d="M605.5 476.8 L602.9 475.7 L594.7 483.7 L597.4 485.3 Z" fill="#265bf9"/>
<path d="M551.9 492.8 L549.3 492.2 L540.4 503 L543 503.7 Z" fill="#265bf9"/>
<path d="M576.1 479.9 L573.5 480.1 L564.9 490.8 L567.6 489.7 Z" fill="#265bf9"/>
<path d="M632.5 463.7 L629.7 465.7 L621.8 476.2 L624.7 474.3 Z" fill="#265bf9"/>
<path d="M608.2 477.6 L605.5 476.8 L597.4 485.3 L600.1 486.7 Z" fill="#265bf9"/>
<path d="M554.5 493.1 L551.9 492.8 L543 503.7 L545.6 504.1 Z" fill="#265bf9"/>
<path d="M610.9 478.2 L608.2 477.6 L600.1 486.7 L602.7 488 Z" fill="#265bf9"/>
<path d="M578.8 479.7 L576.1 479.9 L567.6 489.7 L570.2 488.5 Z" fill="#265bf9"/>
<path d="M557.1 493 L554.5 493.1 L545.6 504.1 L548.2 504.2 Z" fill="#265bf9"/>
<path d="M613.6 478.4 L610.9 478.2 L602.7 488 L605.4 489.8 Z" fill="#265bf9"/>
<path d="M635.4 461.2 L632.5 463.7 L624.7 474.3 L627.6 471.8 Z" fill="#265bf9"/>
<path d="M616.3 478.2 L613.6 478.4 L605.4 489.8 L608.2 489.7 Z" fill="#265bf9"/>
<path d="M581.4 479.3 L578.8 479.7 L570.2 488.5 L572.9 487.6 Z" fill="#265bf9"/>
<path d="M559.7 492.5 L557.1 493 L548.2 504.2 L550.8 503.7 Z" fill="#265bf9"/>
<path d="M522.2 490.5 L519.6 487.7 L510.1 495.1 L512.8 498.4 Z" fill="#265bf9"/>
<path d="M524.8 493.1 L522.2 490.5 L512.8 498.4 L515.4 501.4 Z" fill="#265bf9"/>
<path d="M519.6 487.7 L517 484.7 L507.4 491.4 L510.1 495.1 Z" fill="#265bf9"/>
<path d="M527.4 495.5 L524.8 493.1 L515.4 501.4 L518.1 504.1 Z" fill="#265bf9"/>
<path d="M517 484.7 L514.4 481.5 L504.7 487.5 L507.4 491.4 Z" fill="#265bf9"/>
<path d="M619 477.5 L616.3 478.2 L608.2 489.7 L610.9 488.9 Z" fill="#265bf9"/>
<path d="M584.1 479.1 L581.4 479.3 L572.9 487.6 L575.6 487.1 Z" fill="#265bf9"/>
<path d="M638.3 458.3 L635.4 461.2 L627.6 471.8 L630.5 468.6 Z" fill="#265bf9"/>
<path d="M514.4 481.5 L511.8 478.2 L502 483.4 L504.7 487.5 Z" fill="#265bf9"/>
<path d="M530 497.6 L527.4 495.5 L518.1 504.1 L520.7 506.5 Z" fill="#265bf9"/>
<path d="M562.3 491.8 L559.7 492.5 L550.8 503.7 L553.4 502.8 Z" fill="#265bf9"/>
<path d="M511.8 478.2 L509.1 474.9 L499.3 479.1 L502 483.4 Z" fill="#265bf9"/>
<path d="M532.6 499.4 L530 497.6 L520.7 506.5 L523.3 508.4 Z" fill="#265bf9"/>
<path d="M509.1 474.9 L506.5 471.4 L496.6 474.9 L499.3 479.1 Z" fill="#265bf9"/>
<path d="M506.5 471.4 L503.9 468.1 L493.9 470.7 L496.6 474.9 Z" fill="#265bf9"/>
<path d="M535.2 500.9 L532.6 499.4 L523.3 508.4 L525.9 510 Z" fill="#265bf9"/>
<path d="M586.7 479.6 L584.1 479.1 L575.6 487.1 L578.2 487.6 Z" fill="#265bf9"/>
<path d="M621.8 476.2 L619 477.5 L610.9 488.9 L613.7 487.9 Z" fill="#265bf9"/>
<path d="M537.8 502 L535.2 500.9 L525.9 510 L528.6 511.4 Z" fill="#265bf9"/>
<path d="M564.9 490.8 L562.3 491.8 L553.4 502.8 L556.1 501.5 Z" fill="#265bf9"/>
<path d="M589.4 480.7 L586.7 479.6 L578.2 487.6 L580.9 488.8 Z" fill="#265bf9"/>
<path d="M540.4 503 L537.8 502 L528.6 511.4 L531.2 512.4 Z" fill="#265bf9"/>
<path d="M641.3 454.9 L638.3 458.3 L630.5 468.6 L633.5 464.7 Z" fill="#265bf9"/>
<path d="M592.1 482.1 L589.4 480.7 L580.9 488.8 L583.6 490.4 Z" fill="#265bf9"/>
<path d="M624.7 474.3 L621.8 476.2 L613.7 487.9 L616.6 486.2 Z" fill="#265bf9"/>
<path d="M594.7 483.7 L592.1 482.1 L583.6 490.4 L586.3 492.3 Z" fill="#265bf9"/>
<path d="M543 503.7 L540.4 503 L531.2 512.4 L533.8 513.2 Z" fill="#265bf9"/>
<path d="M567.6 489.7 L564.9 490.8 L556.1 501.5 L558.7 500.1 Z" fill="#265bf9"/>
<path d="M597.4 485.3 L594.7 483.7 L586.3 492.3 L589 494.2 Z" fill="#265bf9"/>
<path d="M600.1 486.7 L597.4 485.3 L589 494.2 L591.7 497 Z" fill="#265bf9"/>
<path d="M545.6 504.1 L543 503.7 L533.8 513.2 L536.4 513.7 Z" fill="#265bf9"/>
<path d="M602.7 488 L600.1 486.7 L591.7 497 L594.4 499.4 Z" fill="#265bf9"/>
<path d="M605.4 489.8 L602.7 488 L594.4 499.4 L597.1 501.1 Z" fill="#265bf9"/>
<path d="M570.2 488.5 L567.6 489.7 L558.7 500.1 L561.4 498.6 Z" fill="#265bf9"/>
<path d="M644.3 451.2 L641.3 454.9 L633.5 464.7 L636.5 460 Z" fill="#265bf9"/>
<path d="M627.6 471.8 L624.7 474.3 L616.6 486.2 L619.5 483.6 Z" fill="#265bf9"/>
<path d="M548.2 504.2 L545.6 504.1 L536.4 513.7 L539.1 513.8 Z" fill="#265bf9"/>
<path d="M608.2 489.7 L605.4 489.8 L597.1 501.1 L599.8 501.7 Z" fill="#265bf9"/>
<path d="M550.8 503.7 L548.2 504.2 L539.1 513.8 L541.7 513.4 Z" fill="#265bf9"/>
<path d="M572.9 487.6 L570.2 488.5 L561.4 498.6 L564.1 497 Z" fill="#265bf9"/>
<path d="M610.9 488.9 L608.2 489.7 L599.8 501.7 L602.6 501.1 Z" fill="#265bf9"/>
<path d="M630.5 468.6 L627.6 471.8 L619.5 483.6 L622.4 479.7 Z" fill="#265bf9"/>
<path d="M647.3 447 L644.3 451.2 L636.5 460 L639.6 454.7 Z" fill="#265bf9"/>
<path d="M553.4 502.8 L550.8 503.7 L541.7 513.4 L544.3 512.3 Z" fill="#265bf9"/>
<path d="M575.6 487.1 L572.9 487.6 L564.1 497 L566.8 495.6 Z" fill="#265bf9"/>
<path d="M515.4 501.4 L512.8 498.4 L502.9 504.4 L505.6 507.8 Z" fill="#265bf9"/>
<path d="M613.7 487.9 L610.9 488.9 L602.6 501.1 L605.5 498.3 Z" fill="#265bf9"/>
<path d="M518.1 504.1 L515.4 501.4 L505.6 507.8 L508.3 510.8 Z" fill="#265bf9"/>
<path d="M512.8 498.4 L510.1 495.1 L500.2 500.3 L502.9 504.4 Z" fill="#265bf9"/>
<path d="M520.7 506.5 L518.1 504.1 L508.3 510.8 L511 513.4 Z" fill="#265bf9"/>
<path d="M510.1 495.1 L507.4 491.4 L497.4 495.8 L500.2 500.3 Z" fill="#265bf9"/>
<path d="M523.3 508.4 L520.7 506.5 L511 513.4 L513.7 515.8 Z" fill="#265bf9"/>
<path d="M507.4 491.4 L504.7 487.5 L494.6 491.1 L497.4 495.8 Z" fill="#265bf9"/>
<path d="M525.9 510 L523.3 508.4 L513.7 515.8 L516.3 517.8 Z" fill="#265bf9"/>
<path d="M578.2 487.6 L575.6 487.1 L566.8 495.6 L569.5 495.9 Z" fill="#265bf9"/>
<path d="M556.1 501.5 L553.4 502.8 L544.3 512.3 L547 510.7 Z" fill="#265bf9"/>
<path d="M504.7 487.5 L502 483.4 L491.8 486.5 L494.6 491.1 Z" fill="#265bf9"/>
<path d="M633.5 464.7 L630.5 468.6 L622.4 479.7 L625.5 474.8 Z" fill="#265bf9"/>
<path d="M528.6 511.4 L525.9 510 L516.3 517.8 L519 519.3 Z" fill="#265bf9"/>
<path d="M580.9 488.8 L578.2 487.6 L569.5 495.9 L572.2 497.4 Z" fill="#265bf9"/>
<path d="M502 483.4 L499.3 479.1 L489 482 L491.8 486.5 Z" fill="#265bf9"/>
<path d="M616.6 486.2 L613.7 487.9 L605.5 498.3 L608.3 496.5 Z" fill="#265bf9"/>
<path d="M531.2 512.4 L528.6 511.4 L519 519.3 L521.6 520.5 Z" fill="#265bf9"/>
<path d="M650.4 442.3 L647.3 447 L639.6 454.7 L642.8 448.6 Z" fill="#265bf9"/>
<path d="M499.3 479.1 L496.6 474.9 L486.3 477.6 L489 482 Z" fill="#265bf9"/>
<path d="M583.6 490.4 L580.9 488.8 L572.2 497.4 L574.9 499.5 Z" fill="#265bf9"/>
<path d="M496.6 474.9 L493.9 470.7 L483.5 473.3 L486.3 477.6 Z" fill="#265bf9"/>
<path d="M558.7 500.1 L556.1 501.5 L547 510.7 L549.6 508.8 Z" fill="#265bf9"/>
<path d="M586.3 492.3 L583.6 490.4 L574.9 499.5 L577.6 501.8 Z" fill="#265bf9"/>
<path d="M533.8 513.2 L531.2 512.4 L521.6 520.5 L524.3 521.4 Z" fill="#265bf9"/>
<path d="M589 494.2 L586.3 492.3 L577.6 501.8 L580.4 503.9 Z" fill="#265bf9"/>
<path d="M591.7 497 L589 494.2 L580.4 503.9 L583.1 505.8 Z" fill="#265bf9"/>
<path d="M594.4 499.4 L591.7 497 L583.1 505.8 L585.8 508.9 Z" fill="#265bf9"/>
<path d="M619.5 483.6 L616.6 486.2 L608.3 496.5 L611.2 493.7 Z" fill="#265bf9"/>
<path d="M536.4 513.7 L533.8 513.2 L524.3 521.4 L526.9 522 Z" fill="#265bf9"/>
<path d="M597.1 501.1 L594.4 499.4 L585.8 508.9 L588.5 510.8 Z" fill="#265bf9"/>
<path d="M636.5 460 L633.5 464.7 L625.5 474.8 L628.6 468.9 Z" fill="#265bf9"/>
<path d="M561.4 498.6 L558.7 500.1 L549.6 508.8 L552.3 506.8 Z" fill="#265bf9"/>
<path d="M599.8 501.7 L597.1 501.1 L588.5 510.8 L591.3 511.4 Z" fill="#265bf9"/>
<path d="M539.1 513.8 L536.4 513.7 L526.9 522 L529.6 522.2 Z" fill="#265bf9"/>
<path d="M653.6 437.1 L650.4 442.3 L642.8 448.6 L646.1 441.9 Z" fill="#265bf9"/>
<path d="M602.6 501.1 L599.8 501.7 L591.3 511.4 L594.1 510.9 Z" fill="#265bf9"/>
<path d="M541.7 513.4 L539.1 513.8 L529.6 522.2 L532.2 521.7 Z" fill="#265bf9"/>
<path d="M622.4 479.7 L619.5 483.6 L611.2 493.7 L614.2 489.4 Z" fill="#265bf9"/>
<path d="M564.1 497 L561.4 498.6 L552.3 506.8 L555 505.1 Z" fill="#265bf9"/>
<path d="M639.6 454.7 L636.5 460 L628.6 468.9 L631.7 462 Z" fill="#265bf9"/>
<path d="M605.5 498.3 L602.6 501.1 L594.1 510.9 L597 509.2 Z" fill="#265bf9"/>
<path d="M544.3 512.3 L541.7 513.4 L532.2 521.7 L534.9 520.8 Z" fill="#265bf9"/>
<path d="M566.8 495.6 L564.1 497 L555 505.1 L557.7 504 Z" fill="#265bf9"/>
<path d="M656.8 431.2 L653.6 437.1 L646.1 441.9 L649.4 434.4 Z" fill="#265bf9"/>
<path d="M625.5 474.8 L622.4 479.7 L614.2 489.4 L617.3 483.5 Z" fill="#265bf9"/>
<path d="M547 510.7 L544.3 512.3 L534.9 520.8 L537.6 519.6 Z" fill="#265bf9"/>
<path d="M569.5 495.9 L566.8 495.6 L557.7 504 L560.4 504.2 Z" fill="#265bf9"/>
<path d="M508.3 510.8 L505.6 507.8 L495.4 513.1 L498.2 516.6 Z" fill="#265bf9"/>
<path d="M511 513.4 L508.3 510.8 L498.2 516.6 L500.9 519.7 Z" fill="#265bf9"/>
<path d="M505.6 507.8 L502.9 504.4 L492.6 509.1 L495.4 513.1 Z" fill="#265bf9"/>
<path d="M608.3 496.5 L605.5 498.3 L597 509.2 L599.8 506.4 Z" fill="#265bf9"/>
<path d="M513.7 515.8 L511 513.4 L500.9 519.7 L503.7 522.5 Z" fill="#265bf9"/>
<path d="M502.9 504.4 L500.2 500.3 L489.8 504.7 L492.6 509.1 Z" fill="#265bf9"/>
<path d="M516.3 517.8 L513.7 515.8 L503.7 522.5 L506.4 524.9 Z" fill="#265bf9"/>
<path d="M572.2 497.4 L569.5 495.9 L560.4 504.2 L563.2 505.2 Z" fill="#265bf9"/>
<path d="M519 519.3 L516.3 517.8 L506.4 524.9 L509.1 527.2 Z" fill="#265bf9"/>
<path d="M500.2 500.3 L497.4 495.8 L487 500 L489.8 504.7 Z" fill="#265bf9"/>
<path d="M574.9 499.5 L572.2 497.4 L563.2 505.2 L565.9 506.8 Z" fill="#265bf9"/>
<path d="M521.6 520.5 L519 519.3 L509.1 527.2 L511.8 528.9 Z" fill="#265bf9"/>
<path d="M497.4 495.8 L494.6 491.1 L484.1 495 L487 500 Z" fill="#265bf9"/>
<path d="M642.8 448.6 L639.6 454.7 L631.7 462 L635 454.3 Z" fill="#265bf9"/>
<path d="M549.6 508.8 L547 510.7 L537.6 519.6 L540.2 518.1 Z" fill="#265bf9"/>
<path d="M577.6 501.8 L574.9 499.5 L565.9 506.8 L568.7 508.8 Z" fill="#265bf9"/>
<path d="M494.6 491.1 L491.8 486.5 L481.3 489.9 L484.1 495 Z" fill="#265bf9"/>
<path d="M524.3 521.4 L521.6 520.5 L511.8 528.9 L514.5 530.2 Z" fill="#265bf9"/>
<path d="M580.4 503.9 L577.6 501.8 L568.7 508.8 L571.5 510.8 Z" fill="#265bf9"/>
<path d="M611.2 493.7 L608.3 496.5 L599.8 506.4 L602.8 502.5 Z" fill="#265bf9"/>
<path d="M583.1 505.8 L580.4 503.9 L571.5 510.8 L574.2 514.1 Z" fill="#265bf9"/>
<path d="M585.8 508.9 L583.1 505.8 L574.2 514.1 L577 516.8 Z" fill="#265bf9"/>
<path d="M491.8 486.5 L489 482 L478.4 484.8 L481.3 489.9 Z" fill="#265bf9"/>
<path d="M660.1 424.7 L656.8 431.2 L649.4 434.4 L652.8 426.3 Z" fill="#265bf9"/>
<path d="M588.5 510.8 L585.8 508.9 L577 516.8 L579.8 519.2 Z" fill="#265bf9"/>
<path d="M526.9 522 L524.3 521.4 L514.5 530.2 L517.2 531 Z" fill="#265bf9"/>
<path d="M628.6 468.9 L625.5 474.8 L617.3 483.5 L620.4 476.6 Z" fill="#265bf9"/>
<path d="M489 482 L486.3 477.6 L475.5 479.7 L478.4 484.8 Z" fill="#265bf9"/>
<path d="M552.3 506.8 L549.6 508.8 L540.2 518.1 L542.9 516.4 Z" fill="#265bf9"/>
<path d="M591.3 511.4 L588.5 510.8 L579.8 519.2 L582.6 519.8 Z" fill="#265bf9"/>
<path d="M486.3 477.6 L483.5 473.3 L472.6 474.7 L475.5 479.7 Z" fill="#265bf9"/>
<path d="M529.6 522.2 L526.9 522 L517.2 531 L519.9 531.4 Z" fill="#265bf9"/>
<path d="M594.1 510.9 L591.3 511.4 L582.6 519.8 L585.4 518.8 Z" fill="#265bf9"/>
<path d="M614.2 489.4 L611.2 493.7 L602.8 502.5 L605.8 497.3 Z" fill="#265bf9"/>
<path d="M532.2 521.7 L529.6 522.2 L519.9 531.4 L522.5 531.1 Z" fill="#265bf9"/>
<path d="M555 505.1 L552.3 506.8 L542.9 516.4 L545.6 514.5 Z" fill="#265bf9"/>
<path d="M646.1 441.9 L642.8 448.6 L635 454.3 L638.4 445.6 Z" fill="#265bf9"/>
<path d="M663.4 419.8 L660.1 424.7 L652.8 426.3 L656.3 417.5 Z" fill="#265bf9"/>
<path d="M597 509.2 L594.1 510.9 L585.4 518.8 L588.3 515.6 Z" fill="#265bf9"/>
<path d="M534.9 520.8 L532.2 521.7 L522.5 531.1 L525.2 530.1 Z" fill="#265bf9"/>
<path d="M631.7 462 L628.6 468.9 L620.4 476.6 L623.6 468.8 Z" fill="#265bf9"/>
<path d="M557.7 504 L555 505.1 L545.6 514.5 L548.3 513 Z" fill="#265bf9"/>
<path d="M617.3 483.5 L614.2 489.4 L605.8 497.3 L608.9 491.2 Z" fill="#265bf9"/>
<path d="M537.6 519.6 L534.9 520.8 L525.2 530.1 L527.8 528.6 Z" fill="#265bf9"/>
<path d="M560.4 504.2 L557.7 504 L548.3 513 L551.1 512.8 Z" fill="#265bf9"/>
<path d="M599.8 506.4 L597 509.2 L588.3 515.6 L591.2 513.6 Z" fill="#265bf9"/>
<path d="M649.4 434.4 L646.1 441.9 L638.4 445.6 L641.8 435.3 Z" fill="#265bf9"/>
<path d="M563.2 505.2 L560.4 504.2 L551.1 512.8 L553.9 513.6 Z" fill="#265bf9"/>
<path d="M500.9 519.7 L498.2 516.6 L487.6 521.2 L490.4 524.7 Z" fill="#265bf9"/>
<path d="M503.7 522.5 L500.9 519.7 L490.4 524.7 L493.2 527.9 Z" fill="#265bf9"/>
<path d="M498.2 516.6 L495.4 513.1 L484.8 517.4 L487.6 521.2 Z" fill="#265bf9"/>
<path d="M506.4 524.9 L503.7 522.5 L493.2 527.9 L496 530.7 Z" fill="#265bf9"/>
<path d="M540.2 518.1 L537.6 519.6 L527.8 528.6 L530.5 526.8 Z" fill="#265bf9"/>
<path d="M495.4 513.1 L492.6 509.1 L481.9 513.2 L484.8 517.4 Z" fill="#265bf9"/>
<path d="M565.9 506.8 L563.2 505.2 L553.9 513.6 L556.7 515 Z" fill="#265bf9"/>
<path d="M509.1 527.2 L506.4 524.9 L496 530.7 L498.8 533.1 Z" fill="#265bf9"/>
<path d="M492.6 509.1 L489.8 504.7 L479 508.7 L481.9 513.2 Z" fill="#265bf9"/>
<path d="M635 454.3 L631.7 462 L623.6 468.8 L626.9 460 Z" fill="#265bf9"/>
<path d="M511.8 528.9 L509.1 527.2 L498.8 533.1 L501.5 535.2 Z" fill="#265bf9"/>
<path d="M568.7 508.8 L565.9 506.8 L556.7 515 L559.5 516.8 Z" fill="#265bf9"/>
<path d="M602.8 502.5 L599.8 506.4 L591.2 513.6 L594.1 510.4 Z" fill="#265bf9"/>
<path d="M489.8 504.7 L487 500 L476.1 503.8 L479 508.7 Z" fill="#265bf9"/>
<path d="M571.5 510.8 L568.7 508.8 L559.5 516.8 L562.3 518.8 Z" fill="#265bf9"/>
<path d="M514.5 530.2 L511.8 528.9 L501.5 535.2 L504.3 536.8 Z" fill="#265bf9"/>
<path d="M574.2 514.1 L571.5 510.8 L562.3 518.8 L565.1 520.7 Z" fill="#265bf9"/>
<path d="M620.4 476.6 L617.3 483.5 L608.9 491.2 L612 484.1 Z" fill="#265bf9"/>
<path d="M487 500 L484.1 495 L473.2 498.5 L476.1 503.8 Z" fill="#265bf9"/>
<path d="M542.9 516.4 L540.2 518.1 L530.5 526.8 L533.2 524.9 Z" fill="#265bf9"/>
<path d="M577 516.8 L574.2 514.1 L565.1 520.7 L567.9 521.4 Z" fill="#265bf9"/>
<path d="M517.2 531 L514.5 530.2 L504.3 536.8 L507 537.9 Z" fill="#265bf9"/>
<path d="M579.8 519.2 L577 516.8 L567.9 521.4 L570.7 524.8 Z" fill="#265bf9"/>
<path d="M484.1 495 L481.3 489.9 L470.2 493 L473.2 498.5 Z" fill="#265bf9"/>
<path d="M582.6 519.8 L579.8 519.2 L570.7 524.8 L573.5 525.5 Z" fill="#265bf9"/>
<path d="M519.9 531.4 L517.2 531 L507 537.9 L509.7 538.6 Z" fill="#265bf9"/>
<path d="M481.3 489.9 L478.4 484.8 L467.3 487.4 L470.2 493 Z" fill="#265bf9"/>
<path d="M605.8 497.3 L602.8 502.5 L594.1 510.4 L597.1 505.6 Z" fill="#265bf9"/>
<path d="M545.6 514.5 L542.9 516.4 L533.2 524.9 L535.9 523.2 Z" fill="#265bf9"/>
<path d="M652.8 426.3 L649.4 434.4 L641.8 435.3 L645.4 423.7 Z" fill="#265bf9"/>
<path d="M478.4 484.8 L475.5 479.7 L464.3 482 L467.3 487.4 Z" fill="#265bf9"/>
<path d="M522.5 531.1 L519.9 531.4 L509.7 538.6 L512.4 538.7 Z" fill="#265bf9"/>
<path d="M585.4 518.8 L582.6 519.8 L573.5 525.5 L576.4 523.6 Z" fill="#265bf9"/>
<path d="M475.5 479.7 L472.6 474.7 L461.3 476.9 L464.3 482 Z" fill="#265bf9"/>
<path d="M638.4 445.6 L635 454.3 L626.9 460 L630.3 450.1 Z" fill="#265bf9"/>
<path d="M525.2 530.1 L522.5 531.1 L512.4 538.7 L515.1 538.3 Z" fill="#265bf9"/>
<path d="M548.3 513 L545.6 514.5 L535.9 523.2 L538.7 522.1 Z" fill="#265bf9"/>
<path d="M623.6 468.8 L620.4 476.6 L612 484.1 L615.2 476 Z" fill="#265bf9"/>
<path d="M588.3 515.6 L585.4 518.8 L576.4 523.6 L579.3 522.3 Z" fill="#265bf9"/>
<path d="M608.9 491.2 L605.8 497.3 L597.1 505.6 L600.2 499.3 Z" fill="#265bf9"/>
<path d="M527.8 528.6 L525.2 530.1 L515.1 538.3 L517.8 537.4 Z" fill="#265bf9"/>
<path d="M551.1 512.8 L548.3 513 L538.7 522.1 L541.5 522.1 Z" fill="#265bf9"/>
<path d="M553.9 513.6 L551.1 512.8 L541.5 522.1 L544.3 522.8 Z" fill="#265bf9"/>
<path d="M591.2 513.6 L588.3 515.6 L579.3 522.3 L582.2 519.9 Z" fill="#265bf9"/>
<path d="M656.3 417.5 L652.8 426.3 L645.4 423.7 L649.2 409.8 Z" fill="#265bf9"/>
<path d="M530.5 526.8 L527.8 528.6 L517.8 537.4 L520.5 536.2 Z" fill="#265bf9"/>
<path d="M556.7 515 L553.9 513.6 L544.3 522.8 L547.1 524.1 Z" fill="#265bf9"/>
<path d="M559.5 516.8 L556.7 515 L547.1 524.1 L549.9 525.7 Z" fill="#265bf9"/>
<path d="M641.8 435.3 L638.4 445.6 L630.3 450.1 L633.8 438.8 Z" fill="#265bf9"/>
<path d="M626.9 460 L623.6 468.8 L615.2 476 L618.5 466.7 Z" fill="#265bf9"/>
<path d="M562.3 518.8 L559.5 516.8 L549.9 525.7 L552.8 527.4 Z" fill="#265bf9"/>
<path d="M594.1 510.4 L591.2 513.6 L582.2 519.9 L585.2 516.3 Z" fill="#265bf9"/>
<path d="M533.2 524.9 L530.5 526.8 L520.5 536.2 L523.2 534.6 Z" fill="#265bf9"/>
<path d="M612 484.1 L608.9 491.2 L600.2 499.3 L603.3 492 Z" fill="#265bf9"/>
<path d="M565.1 520.7 L562.3 518.8 L552.8 527.4 L555.6 528.9 Z" fill="#265bf9"/>
<path d="M567.9 521.4 L565.1 520.7 L555.6 528.9 L558.5 530.2 Z" fill="#265bf9"/>
<path d="M570.7 524.8 L567.9 521.4 L558.5 530.2 L561.3 530.9 Z" fill="#265bf9"/>
<path d="M535.9 523.2 L533.2 524.9 L523.2 534.6 L525.9 532.9 Z" fill="#265bf9"/>
<path d="M573.5 525.5 L570.7 524.8 L561.3 530.9 L564.2 530.9 Z" fill="#265bf9"/>
<path d="M597.1 505.6 L594.1 510.4 L585.2 516.3 L588.2 511.2 Z" fill="#265bf9"/>
<path d="M538.7 522.1 L535.9 523.2 L525.9 532.9 L528.7 531.6 Z" fill="#265bf9"/>
<path d="M576.4 523.6 L573.5 525.5 L564.2 530.9 L567.1 530.2 Z" fill="#265bf9"/>
<path d="M630.3 450.1 L626.9 460 L618.5 466.7 L621.9 456 Z" fill="#265bf9"/>
<path d="M615.2 476 L612 484.1 L603.3 492 L606.5 483.6 Z" fill="#265bf9"/>
<path d="M645.4 423.7 L641.8 435.3 L633.8 438.8 L637.5 425.5 Z" fill="#265bf9"/>
<path d="M541.5 522.1 L538.7 522.1 L528.7 531.6 L531.5 531.7 Z" fill="#265bf9"/>
<path d="M579.3 522.3 L576.4 523.6 L567.1 530.2 L570 528.5 Z" fill="#265bf9"/>
<path d="M600.2 499.3 L597.1 505.6 L588.2 511.2 L591.2 505.1 Z" fill="#265bf9"/>
<path d="M544.3 522.8 L541.5 522.1 L531.5 531.7 L534.3 532.6 Z" fill="#265bf9"/>
<path d="M547.1 524.1 L544.3 522.8 L534.3 532.6 L537.2 534 Z" fill="#265bf9"/>
<path d="M582.2 519.9 L579.3 522.3 L570 528.5 L572.9 526 Z" fill="#265bf9"/>
<path d="M549.9 525.7 L547.1 524.1 L537.2 534 L540.1 535.7 Z" fill="#265bf9"/>
<path d="M552.8 527.4 L549.9 525.7 L540.1 535.7 L542.9 537.4 Z" fill="#265bf9"/>
<path d="M618.5 466.7 L615.2 476 L606.5 483.6 L609.8 474.1 Z" fill="#265bf9"/>
<path d="M555.6 528.9 L552.8 527.4 L542.9 537.4 L545.8 538.9 Z" fill="#265bf9"/>
<path d="M633.8 438.8 L630.3 450.1 L621.9 456 L625.4 444 Z" fill="#265bf9"/>
<path d="M603.3 492 L600.2 499.3 L591.2 505.1 L594.3 497.9 Z" fill="#265bf9"/>
<path d="M558.5 530.2 L555.6 528.9 L545.8 538.9 L548.7 540.1 Z" fill="#265bf9"/>
<path d="M585.2 516.3 L582.2 519.9 L572.9 526 L575.9 522.4 Z" fill="#265bf9"/>
<path d="M561.3 530.9 L558.5 530.2 L548.7 540.1 L551.6 540.7 Z" fill="#265bf9"/>
<path d="M649.2 409.8 L645.4 423.7 L637.5 425.5 L641.6 404.5 Z" fill="#265bf9"/>
<path d="M564.2 530.9 L561.3 530.9 L551.6 540.7 L554.5 540.2 Z" fill="#265bf9"/>
<path d="M588.2 511.2 L585.2 516.3 L575.9 522.4 L578.9 517.7 Z" fill="#265bf9"/>
<path d="M621.9 456 L618.5 466.7 L609.8 474.1 L613.2 463.3 Z" fill="#265bf9"/>
<path d="M567.1 530.2 L564.2 530.9 L554.5 540.2 L557.4 538.7 Z" fill="#265bf9"/>
<path d="M606.5 483.6 L603.3 492 L594.3 497.9 L597.5 489.4 Z" fill="#265bf9"/>
<path d="M637.5 425.5 L633.8 438.8 L625.4 444 L629.1 429.7 Z" fill="#265bf9"/>
<path d="M570 528.5 L567.1 530.2 L557.4 538.7 L560.3 536.4 Z" fill="#265bf9"/>
<path d="M591.2 505.1 L588.2 511.2 L578.9 517.7 L581.9 512 Z" fill="#265bf9"/>
<path d="M572.9 526 L570 528.5 L560.3 536.4 L563.2 533.5 Z" fill="#265bf9"/>
<path d="M609.8 474.1 L606.5 483.6 L597.5 489.4 L600.8 479.8 Z" fill="#265bf9"/>
<path d="M625.4 444 L621.9 456 L613.2 463.3 L616.7 451.1 Z" fill="#265bf9"/>
<path d="M594.3 497.9 L591.2 505.1 L581.9 512 L585 505.1 Z" fill="#265bf9"/>
<path d="M575.9 522.4 L572.9 526 L563.2 533.5 L566.2 529.5 Z" fill="#265bf9"/>
<path d="M641.6 404.5 L637.5 425.5 L629.1 429.7 L633.4 403.8 Z" fill="#265bf9"/>
<path d="M578.9 517.7 L575.9 522.4 L566.2 529.5 L569.2 524.3 Z" fill="#265bf9"/>
<path d="M613.2 463.3 L609.8 474.1 L600.8 479.8 L604.2 468.9 Z" fill="#265bf9"/>
<path d="M597.5 489.4 L594.3 497.9 L585 505.1 L588.2 496.9 Z" fill="#265bf9"/>
<path d="M629.1 429.7 L625.4 444 L616.7 451.1 L620.3 436.5 Z" fill="#265bf9"/>
<path d="M581.9 512 L578.9 517.7 L569.2 524.3 L572.3 518.8 Z" fill="#265bf9"/>
<path d="M600.8 479.8 L597.5 489.4 L588.2 496.9 L591.4 487.5 Z" fill="#265bf9"/>
<path d="M616.7 451.1 L613.2 463.3 L604.2 468.9 L607.6 456.5 Z" fill="#265bf9"/>
<path d="M585 505.1 L581.9 512 L572.3 518.8 L575.4 512.1 Z" fill="#265bf9"/>
<path d="M633.4 403.8 L629.1 429.7 L620.3 436.5 L624.5 409.3 Z" fill="#265bf9"/>
<path d="M604.2 468.9 L600.8 479.8 L591.4 487.5 L594.8 476.6 Z" fill="#265bf9"/>
<path d="M588.2 496.9 L585 505.1 L575.4 512.1 L578.5 503.8 Z" fill="#265bf9"/>
<path d="M620.3 436.5 L616.7 451.1 L607.6 456.5 L611.3 440.9 Z" fill="#265bf9"/>
<path d="M591.4 487.5 L588.2 496.9 L578.5 503.8 L581.7 494.6 Z" fill="#265bf9"/>
<path d="M607.6 456.5 L604.2 468.9 L594.8 476.6 L598.2 464.3 Z" fill="#265bf9"/>
<path d="M624.5 409.3 L620.3 436.5 L611.3 440.9 L615.2 417.1 Z" fill="#265bf9"/>
<path d="M594.8 476.6 L591.4 487.5 L581.7 494.6 L585 484.2 Z" fill="#265bf9"/>
<path d="M611.3 440.9 L607.6 456.5 L598.2 464.3 L601.7 449.2 Z" fill="#265bf9"/>
<path d="M598.2 464.3 L594.8 476.6 L585 484.2 L588.4 472.7 Z" fill="#265bf9"/>
<path d="M615.2 417.1 L611.3 440.9 L601.7 449.2 L605.5 430 Z" fill="#265bf9"/>
<path d="M601.7 449.2 L598.2 464.3 L588.4 472.7 L591.9 458.3 Z" fill="#265bf9"/>
<path d="M605.5 430 L601.7 449.2 L591.9 458.3 L595.5 439.3 Z" fill="#265bf9"/>
</g>
<line x1="455.7" y1="396.1" x2="595.6" y2="434.5" stroke="#222" stroke-width="0.7" stroke-dasharray="0.9 2.0"/>
<line x1="595.6" y1="434.5" x2="666.5" y2="371.6" stroke="#222" stroke-width="0.7" stroke-dasharray="0.9 2.0"/>
<line x1="592.8" y1="571.7" x2="595.6" y2="434.5" stroke="#222" stroke-width="0.7" stroke-dasharray="0.9 2.0"/>
<line x1="586.8" y1="569.6" x2="584.5" y2="575.8" stroke="#222" stroke-width="0.7"/>
<text x="582.1" y="586.7" font-size="9.5" text-anchor="middle" >30</text>
<line x1="557.5" y1="559.2" x2="555.2" y2="565.4" stroke="#222" stroke-width="0.7"/>
<text x="552.8" y="576.1" font-size="9.5" text-anchor="middle" >40</text>
<line x1="529.1" y1="549.2" x2="526.8" y2="555.3" stroke="#222" stroke-width="0.7"/>
<text x="524.5" y="565.9" font-size="9.5" text-anchor="middle" >50</text>
<line x1="501.7" y1="539.6" x2="499.4" y2="545.5" stroke="#222" stroke-width="0.7"/>
<text x="497.1" y="556" font-size="9.5" text-anchor="middle" >60</text>
<line x1="475.2" y1="530.2" x2="472.9" y2="536" stroke="#222" stroke-width="0.7"/>
<text x="470.5" y="546.4" font-size="9.5" text-anchor="middle" >70</text>
<text x="521" y="573.4" font-size="9.5" text-anchor="middle" transform="rotate(19.6 521 573.4)" >Relative Humidity(%)</text>
<line x1="658.3" y1="497.4" x2="661.9" y2="502" stroke="#222" stroke-width="0.7"/>
<text x="665.4" y="511.2" font-size="9.5" text-anchor="middle" >0</text>
<line x1="643.5" y1="514.3" x2="647.1" y2="519" stroke="#222" stroke-width="0.7"/>
<text x="650.8" y="528.3" font-size="9.5" text-anchor="middle" >1</text>
<line x1="627.6" y1="532.2" x2="631.4" y2="537.1" stroke="#222" stroke-width="0.7"/>
<text x="635.2" y="546.6" font-size="9.5" text-anchor="middle" >2</text>
<line x1="610.8" y1="551.3" x2="614.7" y2="556.3" stroke="#222" stroke-width="0.7"/>
<text x="618.6" y="566" font-size="9.5" text-anchor="middle" >3</text>
<line x1="592.8" y1="571.7" x2="596.8" y2="576.9" stroke="#222" stroke-width="0.7"/>
<text x="600.9" y="586.7" font-size="9.5" text-anchor="middle" >4</text>
<text x="642.9" y="552.6" font-size="9.5" text-anchor="middle" transform="rotate(-49 642.9 552.6)" >Lag</text>
<line x1="463.6" y1="509.2" x2="457.4" y2="510.1" stroke="#222" stroke-width="0.7"/>
<text x="450.2" y="514.3" font-size="9.5" text-anchor="middle" >1.0</text>
<line x1="461.7" y1="482.5" x2="455.4" y2="483.4" stroke="#222" stroke-width="0.7"/>
<text x="448.1" y="487.5" font-size="9.5" text-anchor="middle" >1.2</text>
<line x1="459.8" y1="454.8" x2="453.3" y2="455.6" stroke="#222" stroke-width="0.7"/>
<text x="445.9" y="459.8" font-size="9.5" text-anchor="middle" >1.4</text>
<line x1="457.8" y1="426" x2="451.2" y2="426.8" stroke="#222" stroke-width="0.7"/>
<text x="443.6" y="430.9" font-size="9.5" text-anchor="middle" >1.6</text>
<text x="438.3" y="471.8" font-size="9.5" text-anchor="middle" transform="rotate(85.8 438.3 471.8)" dominant-baseline="middle">RR</text>
<clipPath id="cc"><rect x="49.3" y="668.1" width="285.3" height="247.60000000000002"/></clipPath>
<g clip-path="url(#cc)">
<path d="M49.3 915.7L55.1 915.7L60.9 915.7L66.8 915.7L72.6 915.7L78.4 915.7L84.2 915.7L90.1 915.7L95.9 915.7L101.7 915.7L107.5 915.7L113.3 915.7L119.2 915.7L125 915.7L130.8 915.7L136.6 915.7L142.5 915.7L148.3 915.7L154.1 915.7L159.9 915.7L165.7 915.7L171.6 915.7L177.4 915.7L183.2 915.7L189 915.7L194.9 915.7L200.7 915.7L201.2 915.7L201.4 884.8L201.4 853.8L201.6 822.9L200.9 791.9L200.7 788.8L198.1 761L195.5 730L194.9 725.8L189 701.3L187.9 699L183.2 692.5L177.4 690.9L171.6 694.1L167.8 699L165.7 701.8L159.9 715L154.6 730L154.1 731.3L148.3 748.7L144.3 761L142.5 767.2L136.6 786L135 791.9L130.8 804.2L125 818.1L122.5 822.9L119.2 827.3L113.3 834.8L107.5 842.2L101.7 849.8L98.8 853.8L95.9 856L90.1 859.7L84.2 862.7L78.4 865.1L72.6 867.5L66.8 869.7L60.9 872.2L55.1 874.9L49.3 877.4L49.3 884.8Z" fill="#ffeded"/>
<path d="M49.3 915.7L55.1 915.7L60.9 915.7L66.8 915.7L72.6 915.7L78.4 915.7L84.2 915.7L90.1 915.7L95.9 915.7L101.7 915.7L107.5 915.7L113.3 915.7L119.2 915.7L125 915.7L130.8 915.7L136.6 915.7L142.5 915.7L148.3 915.7L154.1 915.7L159.9 915.7L165.7 915.7L171.6 915.7L177.4 915.7L183.2 915.7L189 915.7L193.2 915.7L193 884.8L192.8 853.8L192.6 822.9L190.7 791.9L189 780.3L184.9 761L183.2 752.7L177.4 738.9L171.6 738.1L165.7 745.8L159.9 757.3L158.2 761L154.1 769.1L148.3 786L146.3 791.9L142.5 799.6L136.6 812.6L132.2 822.8L130.8 824.8L125 832.3L119.2 838.9L113.3 845.7L107.5 853.1L107 853.8L101.7 858.2L95.9 862.2L90.1 865.6L84.2 868.4L78.4 870.8L72.6 873.2L66.8 875.4L60.9 877.8L55.1 880.6L49.3 883L49.3 884.8Z" fill="#ffdbdb"/>
<path d="M49.3 915.7L55.1 915.7L60.9 915.7L66.8 915.7L72.6 915.7L78.4 915.7L84.2 915.7L90.1 915.7L95.9 915.7L101.7 915.7L107.5 915.7L113.3 915.7L119.2 915.7L125 915.7L130.8 915.7L136.6 915.7L142.5 915.7L148.3 915.7L154.1 915.7L159.9 915.7L165.7 915.7L171.6 915.7L177.4 915.7L183.2 915.7L184.5 915.7L184 884.8L183.2 855.7L183.2 853.8L181.9 822.8L177.4 796.7L175.4 791.9L171.6 787.3L165.7 788.6L163.2 791.9L159.9 796.6L154.1 807.6L148.3 818.1L145.7 822.9L142.5 826.9L136.6 833.9L130.8 840L125 845.5L119.2 850.5L116.1 853.8L113.3 856.1L107.5 861L101.7 865L95.9 868.4L90.1 871.4L84.2 874.1L78.4 876.5L72.6 878.9L66.8 881L60.9 883.4L58.2 884.8L55.1 885.5L49.3 886.7Z" fill="#ffc8c8"/>
<path d="M49.3 915.7L55.1 915.7L60.9 915.7L66.8 915.7L72.6 915.7L78.4 915.7L84.2 915.7L90.1 915.7L95.9 915.7L101.7 915.7L107.5 915.7L113.3 915.7L119.2 915.7L125 915.7L130.8 915.7L136.6 915.7L142.5 915.7L148.3 915.7L154.1 915.7L159.9 915.7L165.7 915.7L171.6 915.7L175.8 915.7L172.7 884.8L171.6 873L168.6 853.8L165.7 844.7L159.9 839.7L154.1 841.1L148.3 844.4L142.5 848.1L136.6 851.8L133.6 853.8L130.8 855.1L125 858.1L119.2 861.2L113.3 865L107.5 868.7L101.7 871.8L95.9 874.6L90.1 877.3L84.2 879.8L78.4 882.1L72.6 884.6L72.1 884.8L66.8 885.9L60.9 887.2L55.1 888.5L49.3 889.5Z" fill="#ffb6b6"/>
<path d="M49.3 915.7L55.1 915.7L60.9 915.7L66.8 915.7L72.6 915.7L78.4 915.7L84.2 915.7L90.1 915.7L95.9 915.7L101.7 915.7L107.5 915.7L113.3 915.7L119.2 915.7L125 915.7L130.8 915.7L136.6 915.7L142.5 915.7L148.3 915.7L154.1 915.7L159.9 915.7L164.1 915.7L159.9 890.9L157.5 884.8L154.1 876.7L148.3 869.8L142.5 867.4L136.6 867.3L130.8 868.3L125 869.7L119.2 871.5L113.3 874L107.5 876.4L101.7 878.6L95.9 880.8L90.1 883.1L86.1 884.8L84.2 885.3L78.4 886.9L72.6 888.3L66.8 889.4L60.9 890.4L55.1 891.4L49.3 892.3Z" fill="#ffa4a4"/>
<path d="M49.3 915.7L55.1 915.7L60.9 915.7L66.8 915.7L72.6 915.7L78.4 915.7L84.2 915.7L90.1 915.7L95.9 915.7L101.7 915.7L107.5 915.7L113.3 915.7L119.2 915.7L125 915.7L130.8 915.7L136.6 915.7L142.5 915.7L148.3 915.7L154.1 915.7L155.8 915.7L154.1 910.6L148.3 895.3L142.5 886.3L140.5 884.8L136.6 882.5L130.8 881.4L125 881.3L119.2 881.8L113.3 882.9L107.5 884.1L104.7 884.8L101.7 885.4L95.9 886.8L90.1 888.4L84.2 889.8L78.4 891L72.6 892.1L66.8 892.8L60.9 893.5L55.1 894.4L49.3 895.1Z" fill="#ff9292"/>
<path d="M49.3 915.7L55.1 915.7L60.9 915.7L66.8 915.7L72.6 915.7L78.4 915.7L84.2 915.7L90.1 915.7L95.9 915.7L101.7 915.7L107.5 915.7L113.3 915.7L119.2 915.7L125 915.7L130.8 915.7L136.6 915.7L142.5 915.7L146.3 915.7L142.5 907.2L136.6 899.4L130.8 895.3L125 893.1L119.2 891.9L113.3 891.4L107.5 891.4L101.7 891.7L95.9 892.4L90.1 893.3L84.2 894.2L78.4 895L72.6 895.8L66.8 896.3L60.9 896.7L55.1 897.3L49.3 897.9Z" fill="#ff8080"/>
<path d="M49.3 915.7L55.1 915.7L60.9 915.7L66.8 915.7L72.6 915.7L78.4 915.7L84.2 915.7L90.1 915.7L95.9 915.7L101.7 915.7L107.5 915.7L113.3 915.7L119.2 915.7L125 915.7L130.8 915.7L136 915.7L130.8 909.5L125 904.9L119.2 901.8L113.3 899.8L107.5 898.7L101.7 898.1L95.9 898L90.1 898.3L84.2 898.7L78.4 899.1L72.6 899.5L66.8 899.7L60.9 899.9L55.1 900.3L49.3 900.8Z" fill="#ff6d6d"/>
<path d="M49.3 915.7L55.1 915.7L60.9 915.7L66.8 915.7L72.6 915.7L78.4 915.7L84.2 915.7L90.1 915.7L95.9 915.7L101.7 915.7L107.5 915.7L113.3 915.7L119.2 915.7L124 915.7L119.2 911.6L113.3 908.2L107.5 906L101.7 904.5L95.9 903.7L90.1 903.3L84.2 903.2L78.4 903.1L72.6 903.2L66.8 903.2L60.9 903.1L55.1 903.2L49.3 903.6Z" fill="#ff5b5b"/>
<path d="M49.3 915.7L55.1 915.7L60.9 915.7L66.8 915.7L72.6 915.7L78.4 915.7L84.2 915.7L90.1 915.7L95.9 915.7L101.7 915.7L107.5 915.7L111.9 915.7L107.5 913.2L101.7 910.9L95.9 909.3L90.1 908.3L84.2 907.6L78.4 907.2L72.6 906.9L66.8 906.6L60.9 906.3L55.1 906.2L49.3 906.4Z" fill="#ff4949"/>
<path d="M49.3 915.7L55.1 915.7L60.9 915.7L66.8 915.7L72.6 915.7L78.4 915.7L84.2 915.7L90.1 915.7L95.9 915.7L97.9 915.7L95.9 915L90.1 913.3L84.2 912.1L78.4 911.2L72.6 910.6L66.8 910.1L60.9 909.5L55.1 909.1L49.3 909.2Z" fill="#ff3737"/>
<path d="M49.3 915.7L55.1 915.7L60.9 915.7L66.8 915.7L72.6 915.7L78.4 915.7L80.6 915.7L78.4 915.3L72.6 914.3L66.8 913.5L60.9 912.7L55.1 912L49.3 912Z" fill="#ff2424"/>
<path d="M49.3 915.7L55.1 915.7L59.8 915.7L55.1 915L49.3 914.9Z" fill="#ff1212"/>
<path d="M218.9 915.7L218.9 915.7L224 915.7L229.8 915.7L235.6 915.7L241.4 915.7L247.3 915.7L253.1 915.7L258.9 915.7L264.7 915.7L270.6 915.7L276.4 915.7L282.2 915.7L288 915.7L293.8 915.7L299.7 915.7L305.5 915.7L311.3 915.7L317.1 915.7L323 915.7L328.8 915.7L334.6 915.7L334.6 884.8L334.6 853.8L334.6 826.2L333.6 822.9L329.3 791.9L328.8 784.1L327.1 761L328.8 736L329.2 730L334.3 699L334.6 698.2L334.6 668.1L328.8 668.1L323 668.1L317.1 668.1L311.3 668.1L305.5 668.1L299.7 668.1L293.8 668.1L288 668.1L282.2 668.1L276.4 668.1L270.6 668.1L264.7 668.1L258.9 668.1L253.1 668.1L247.3 668.1L241.4 668.1L235.6 668.1L229.8 668.1L224 668.1L218.9 668.1L218.9 668.1L218.9 699L218.9 730L218.9 761L218.9 791.9L218.9 822.9L218.9 853.8L218.9 884.8ZM49.3 853.8L49.3 866.2L55.1 863.6L60.9 860.9L66.8 858.5L72.6 856.2L78.4 853.8L78.4 853.8L84.2 848.2L90.1 841.1L95.9 833.5L101.7 827.1L105.4 822.9L107.5 819.6L113.3 809.1L119.2 798.2L122 791.9L125 779L129.5 761L130.8 754.4L136.5 730L136.6 729.3L142.5 703.3L143.5 699L148.3 678.1L151.1 668.1L148.3 668.1L142.5 668.1L136.6 668.1L130.8 668.1L125 668.1L119.2 668.1L113.3 668.1L107.5 668.1L101.7 668.1L95.9 668.1L90.1 668.1L84.2 668.1L78.4 668.1L72.6 668.1L66.8 668.1L60.9 668.1L55.1 668.1L49.3 668.1L49.3 699L49.3 730L49.3 761L49.3 791.9L49.3 822.9Z" fill="#e3e3ff"/>
<path d="M229.1 915.7L229.8 915.7L235.6 915.7L241.4 915.7L247.3 915.7L253.1 915.7L258.9 915.7L264.7 915.7L270.6 915.7L276.4 915.7L282.2 915.7L288 915.7L293.8 915.7L299.7 915.7L305.5 915.7L311.3 915.7L317.1 915.7L323 915.7L328.8 915.7L334.6 915.7L334.6 884.8L334.6 866.8L329.1 853.8L328.8 852.9L323 833L320.6 822.8L317.1 794.7L316.8 791.9L314.1 761L315.1 730L317.1 701.8L317.4 699L323 669.5L323.4 668.1L323 668.1L317.1 668.1L311.3 668.1L305.5 668.1L299.7 668.1L293.8 668.1L288 668.1L282.2 668.1L276.4 668.1L270.6 668.1L264.7 668.1L258.9 668.1L253.1 668.1L247.3 668.1L241.4 668.1L235.6 668.1L234.5 668.1L232.2 699L230.9 730L229.8 753.3L229.5 761L229 791.9L228.5 822.8L229.1 853.8L229.3 884.8ZM49.3 853.8L49.3 860.6L55.1 857.9L60.9 855.3L64.5 853.8L66.8 852L72.6 847.1L78.4 841.9L84.2 835.7L90.1 828.3L94.5 822.9L95.9 821L101.7 813.7L107.5 804.3L113.3 793.8L114.3 791.9L119.2 772.7L122 761L125 745.7L128.3 730L130.8 717L134.6 699L136.6 687.5L140.5 668.1L136.6 668.1L130.8 668.1L125 668.1L119.2 668.1L113.3 668.1L107.5 668.1L101.7 668.1L95.9 668.1L90.1 668.1L84.2 668.1L78.4 668.1L72.6 668.1L66.8 668.1L60.9 668.1L55.1 668.1L49.3 668.1L49.3 699L49.3 730L49.3 761L49.3 791.9L49.3 822.9Z" fill="#c6c6ff"/>
<path d="M244.9 915.7L247.3 915.7L253.1 915.7L258.9 915.7L264.7 915.7L270.6 915.7L276.4 915.7L282.2 915.7L288 915.7L293.8 915.7L299.7 915.7L305.5 915.7L311.3 915.7L317.1 915.7L323 915.7L328.8 915.7L334.6 915.7L334.6 905.8L328.8 898.5L323 889.5L320.4 884.8L317.1 876.5L311.3 857L310.5 853.8L305.5 826L304.9 822.9L301.6 791.9L299.7 767.2L299.1 761L297.5 730L294.5 699L293.8 686.7L292.9 668.1L288 668.1L282.2 668.1L276.4 668.1L270.6 668.1L264.7 668.1L258.9 668.1L258.8 668.1L253.1 692.1L251.5 699L247.3 722L246.2 730L243 761L241.7 791.9L241.4 796L240.1 822.9L241.4 843L242.3 853.8L243.7 884.8ZM49.3 853.8L49.3 854.9L51.8 853.8L55.1 851.1L60.9 846.2L66.8 841.1L72.6 835.8L78.4 829.9L84.2 823.2L84.5 822.9L90.1 815.3L95.9 807.5L101.7 799.1L105.9 791.9L107.5 785.9L113.3 763.5L114 761L119.2 734.7L120.1 730L125 702.7L125.7 699L130.8 668.1L125 668.1L119.2 668.1L113.3 668.1L107.5 668.1L101.7 668.1L95.9 668.1L90.1 668.1L84.2 668.1L78.4 668.1L72.6 668.1L66.8 668.1L60.9 668.1L55.1 668.1L49.3 668.1L49.3 699L49.3 730L49.3 761L49.3 791.9L49.3 822.9Z" fill="#aaaaff"/>
<path d="M275.4 915.7L276.4 915.7L282.2 915.7L288 915.7L293.8 915.7L298.5 915.7L293.8 902.7L288 891.4L283.3 884.8L282.2 876L277.9 853.8L276.4 841.2L273.2 822.9L270.6 815.6L267.8 822.9L268.7 853.8L270.6 860.4L274.4 884.8ZM49.3 822.9L49.3 846L55.1 841L60.9 835.8L66.8 830.3L72.6 824.4L74 822.9L78.4 817.4L84.2 810L90.1 802.2L95.9 794L97.2 791.9L101.7 775.2L105.5 761L107.5 751.2L111.9 730L113.3 720.6L116.9 699L119.2 683.7L121.5 668.1L119.2 668.1L113.3 668.1L107.5 668.1L101.7 668.1L95.9 668.1L90.1 668.1L84.2 668.1L78.4 668.1L72.6 668.1L66.8 668.1L60.9 668.1L55.1 668.1L49.3 668.1L49.3 699L49.3 730L49.3 761L49.3 791.9Z" fill="#8e8eff"/>
<path d="M49.3 822.9L49.3 836.2L55.1 830.9L60.9 825.4L63.5 822.9L66.8 818.6L72.6 811.1L78.4 804.1L84.2 796.8L87.9 791.9L90.1 784.2L95.9 763.2L96.5 761L101.7 736.5L103.1 730L107.5 699.5L107.6 699L111.6 668.1L107.5 668.1L101.7 668.1L95.9 668.1L90.1 668.1L84.2 668.1L78.4 668.1L72.6 668.1L66.8 668.1L60.9 668.1L55.1 668.1L49.3 668.1L49.3 699L49.3 730L49.3 761L49.3 791.9Z" fill="#7171ff"/>
<path d="M49.3 822.9L49.3 826.4L53 822.9L55.1 819.8L60.9 812.2L66.8 804.6L72.6 797.6L77.4 791.9L78.4 788.6L84.2 768.6L86.4 761L90.1 744.3L93.2 730L95.9 711L97.5 699L101.4 668.1L95.9 668.1L90.1 668.1L84.2 668.1L78.4 668.1L72.6 668.1L66.8 668.1L60.9 668.1L55.1 668.1L49.3 668.1L49.3 699L49.3 730L49.3 761L49.3 791.9Z" fill="#5555ff"/>
<path d="M49.3 791.9L49.3 812.6L55.1 805.3L60.9 798L65.8 791.9L66.8 788.2L72.6 768.6L74.9 761L78.4 744.7L81.6 730L84.2 710.8L85.9 699L89.7 668.1L84.2 668.1L78.4 668.1L72.6 668.1L66.8 668.1L60.9 668.1L55.1 668.1L49.3 668.1L49.3 699L49.3 730L49.3 761Z" fill="#3939ff"/>
<path d="M49.3 791.9L49.3 796.5L53.8 791.9L55.1 787.9L60.9 766.3L62.4 761L66.8 737.1L68.3 730L72.2 699L72.6 695.5L75.3 668.1L72.6 668.1L66.8 668.1L60.9 668.1L55.1 668.1L49.3 668.1L49.3 699L49.3 730L49.3 761Z" fill="#1c1cff"/>
<path d="M49.3 699L49.3 718.8L50.4 699L52.5 668.1L49.3 668.1Z" fill="#0000ff"/>

</g>
<rect x="49.3" y="668.1" width="285.3" height="247.6" fill="none" stroke="#222" stroke-width="0.8"/>
<line x1="55.7" y1="915.7" x2="55.7" y2="911.2" stroke="#222" stroke-width="0.7"/>
<text x="55.7" y="936" font-size="11.2" text-anchor="middle" >2</text>
<line x1="113.5" y1="915.7" x2="113.5" y2="911.2" stroke="#222" stroke-width="0.7"/>
<text x="113.5" y="936" font-size="11.2" text-anchor="middle" >3</text>
<line x1="171.4" y1="915.7" x2="171.4" y2="911.2" stroke="#222" stroke-width="0.7"/>
<text x="171.4" y="936" font-size="11.2" text-anchor="middle" >4</text>
<line x1="229.3" y1="915.7" x2="229.3" y2="911.2" stroke="#222" stroke-width="0.7"/>
<text x="229.3" y="936" font-size="11.2" text-anchor="middle" >5</text>
<line x1="287.1" y1="915.7" x2="287.1" y2="911.2" stroke="#222" stroke-width="0.7"/>
<text x="287.1" y="936" font-size="11.2" text-anchor="middle" >6</text>
<line x1="49.3" y1="915.7" x2="53.8" y2="915.7" stroke="#222" stroke-width="0.7"/>
<text x="38.5" y="919.2" font-size="11.2" text-anchor="middle" >0</text>
<line x1="49.3" y1="853.8" x2="53.8" y2="853.8" stroke="#222" stroke-width="0.7"/>
<text x="38.5" y="857.3" font-size="11.2" text-anchor="middle" >1</text>
<line x1="49.3" y1="791.9" x2="53.8" y2="791.9" stroke="#222" stroke-width="0.7"/>
<text x="38.5" y="795.4" font-size="11.2" text-anchor="middle" >2</text>
<line x1="49.3" y1="730" x2="53.8" y2="730" stroke="#222" stroke-width="0.7"/>
<text x="38.5" y="733.5" font-size="11.2" text-anchor="middle" >3</text>
<line x1="49.3" y1="668.1" x2="53.8" y2="668.1" stroke="#222" stroke-width="0.7"/>
<text x="38.5" y="671.6" font-size="11.2" text-anchor="middle" >4</text>
<text x="192" y="951.7" font-size="9.4" text-anchor="middle" >Wind Speed(m/s)</text>
<text x="23.5" y="791.9" font-size="9.4" text-anchor="middle" transform="rotate(-90 23.5 791.9)" >Lag</text>
<text x="10.4" y="673.9" font-size="13.1" text-anchor="middle" font-weight="bold" >c</text>
<rect x="348.9" y="905.4" width="21.9" height="10.3" fill="#0000ff" stroke="#222" stroke-width="0.7"/>
<rect x="348.9" y="895.1" width="21.9" height="10.3" fill="#1c1cff" stroke="#222" stroke-width="0.7"/>
<rect x="348.9" y="884.8" width="21.9" height="10.3" fill="#3939ff" stroke="#222" stroke-width="0.7"/>
<rect x="348.9" y="874.4" width="21.9" height="10.3" fill="#5555ff" stroke="#222" stroke-width="0.7"/>
<rect x="348.9" y="864.1" width="21.9" height="10.3" fill="#7171ff" stroke="#222" stroke-width="0.7"/>
<rect x="348.9" y="853.8" width="21.9" height="10.3" fill="#8e8eff" stroke="#222" stroke-width="0.7"/>
<rect x="348.9" y="843.5" width="21.9" height="10.3" fill="#aaaaff" stroke="#222" stroke-width="0.7"/>
<rect x="348.9" y="833.2" width="21.9" height="10.3" fill="#c6c6ff" stroke="#222" stroke-width="0.7"/>
<rect x="348.9" y="822.9" width="21.9" height="10.3" fill="#e3e3ff" stroke="#222" stroke-width="0.7"/>
<rect x="348.9" y="812.5" width="21.9" height="10.3" fill="#ffffff" stroke="#222" stroke-width="0.7"/>
<rect x="348.9" y="802.2" width="21.9" height="10.3" fill="#ffffff" stroke="#222" stroke-width="0.7"/>
<rect x="348.9" y="791.9" width="21.9" height="10.3" fill="#ffeded" stroke="#222" stroke-width="0.7"/>
<rect x="348.9" y="781.6" width="21.9" height="10.3" fill="#ffdbdb" stroke="#222" stroke-width="0.7"/>
<rect x="348.9" y="771.3" width="21.9" height="10.3" fill="#ffc8c8" stroke="#222" stroke-width="0.7"/>
<rect x="348.9" y="761" width="21.9" height="10.3" fill="#ffb6b6" stroke="#222" stroke-width="0.7"/>
<rect x="348.9" y="750.6" width="21.9" height="10.3" fill="#ffa4a4" stroke="#222" stroke-width="0.7"/>
<rect x="348.9" y="740.3" width="21.9" height="10.3" fill="#ff9292" stroke="#222" stroke-width="0.7"/>
<rect x="348.9" y="730" width="21.9" height="10.3" fill="#ff8080" stroke="#222" stroke-width="0.7"/>
<rect x="348.9" y="719.7" width="21.9" height="10.3" fill="#ff6d6d" stroke="#222" stroke-width="0.7"/>
<rect x="348.9" y="709.4" width="21.9" height="10.3" fill="#ff5b5b" stroke="#222" stroke-width="0.7"/>
<rect x="348.9" y="699" width="21.9" height="10.3" fill="#ff4949" stroke="#222" stroke-width="0.7"/>
<rect x="348.9" y="688.7" width="21.9" height="10.3" fill="#ff3737" stroke="#222" stroke-width="0.7"/>
<rect x="348.9" y="678.4" width="21.9" height="10.3" fill="#ff2424" stroke="#222" stroke-width="0.7"/>
<rect x="348.9" y="668.1" width="21.9" height="10.3" fill="#ff1212" stroke="#222" stroke-width="0.7"/>
<line x1="370.8" y1="874.4" x2="376.4" y2="874.4" stroke="#222" stroke-width="0.7"/>
<text x="382.3" y="877.7" font-size="9.5" text-anchor="start" >0.5</text>
<line x1="370.8" y1="822.9" x2="376.4" y2="822.9" stroke="#222" stroke-width="0.7"/>
<text x="382.3" y="826.1" font-size="9.5" text-anchor="start" >1.0</text>
<line x1="370.8" y1="771.3" x2="376.4" y2="771.3" stroke="#222" stroke-width="0.7"/>
<text x="382.3" y="774.6" font-size="9.5" text-anchor="start" >1.5</text>
<line x1="370.8" y1="719.7" x2="376.4" y2="719.7" stroke="#222" stroke-width="0.7"/>
<text x="382.3" y="723" font-size="9.5" text-anchor="start" >2.0</text>
<line x1="370.8" y1="668.1" x2="376.4" y2="668.1" stroke="#222" stroke-width="0.7"/>
<text x="382.3" y="671.4" font-size="9.5" text-anchor="start" >2.5</text>
<text x="360.2" y="654.8" font-size="10.8" text-anchor="middle" font-weight="bold" >RR</text>
<line x1="463.9" y1="854.9" x2="591.9" y2="900.1" stroke="#222" stroke-width="0.8"/>
<line x1="591.9" y1="900.1" x2="657.4" y2="825.8" stroke="#222" stroke-width="0.8"/>
<line x1="657.4" y1="825.8" x2="539.5" y2="790.5" stroke="#222" stroke-width="0.8"/>
<line x1="539.5" y1="790.5" x2="463.9" y2="854.9" stroke="#222" stroke-width="0.8"/>
<line x1="463.9" y1="854.9" x2="454.8" y2="724.5" stroke="#222" stroke-width="0.8"/>
<line x1="539.5" y1="790.5" x2="537.6" y2="670.6" stroke="#222" stroke-width="0.8"/>
<line x1="657.4" y1="825.8" x2="665.6" y2="700" stroke="#222" stroke-width="0.8"/>
<line x1="454.8" y1="724.5" x2="537.6" y2="670.6" stroke="#222" stroke-width="0.8"/>
<line x1="537.6" y1="670.6" x2="665.6" y2="700" stroke="#222" stroke-width="0.8"/>
<g stroke="#7fffd4" stroke-width="0.5" stroke-linejoin="round" fill-opacity="0.86">
<path d="M541.4 762.2 L539.1 760.9 L530.3 763.7 L532.6 765.5 Z" fill="#265bf9"/>
<path d="M543.7 763.5 L541.4 762.2 L532.6 765.5 L535 767.4 Z" fill="#265bf9"/>
<path d="M546 764.7 L543.7 763.5 L535 767.4 L537.3 769.1 Z" fill="#265bf9"/>
<path d="M548.3 765.8 L546 764.7 L537.3 769.1 L539.7 770.8 Z" fill="#265bf9"/>
<path d="M550.6 767.1 L548.3 765.8 L539.7 770.8 L542.1 772.4 Z" fill="#265bf9"/>
<path d="M553 768.4 L550.6 767.1 L542.1 772.4 L544.4 773.8 Z" fill="#265bf9"/>
<path d="M555.3 770.1 L553 768.4 L544.4 773.8 L546.8 775.2 Z" fill="#265bf9"/>
<path d="M557.7 771.8 L555.3 770.1 L546.8 775.2 L549.1 776.6 Z" fill="#265bf9"/>
<path d="M560 772.5 L557.7 771.8 L549.1 776.6 L551.5 777.9 Z" fill="#265bf9"/>
<path d="M562.3 771.5 L560 772.5 L551.5 777.9 L553.9 778.7 Z" fill="#265bf9"/>
<path d="M564.7 771 L562.3 771.5 L553.9 778.7 L556.3 778.7 Z" fill="#265bf9"/>
<path d="M567.1 770.8 L564.7 771 L556.3 778.7 L558.6 778.7 Z" fill="#265bf9"/>
<path d="M569.4 770.6 L567.1 770.8 L558.6 778.7 L561 778.6 Z" fill="#265bf9"/>
<path d="M571.8 770.4 L569.4 770.6 L561 778.6 L563.4 778.3 Z" fill="#265bf9"/>
<path d="M532.6 765.5 L530.3 763.7 L521.2 766.7 L523.6 769.2 Z" fill="#265bf9"/>
<path d="M535 767.4 L532.6 765.5 L523.6 769.2 L526 771.7 Z" fill="#265bf9"/>
<path d="M537.3 769.1 L535 767.4 L526 771.7 L528.4 774 Z" fill="#265bf9"/>
<path d="M574.2 770 L571.8 770.4 L563.4 778.3 L565.8 777.7 Z" fill="#265bf9"/>
<path d="M539.7 770.8 L537.3 769.1 L528.4 774 L530.8 776.2 Z" fill="#265bf9"/>
<path d="M542.1 772.4 L539.7 770.8 L530.8 776.2 L533.2 778.3 Z" fill="#265bf9"/>
<path d="M544.4 773.8 L542.1 772.4 L533.2 778.3 L535.6 780.2 Z" fill="#265bf9"/>
<path d="M576.6 769.3 L574.2 770 L565.8 777.7 L568.3 776.8 Z" fill="#265bf9"/>
<path d="M546.8 775.2 L544.4 773.8 L535.6 780.2 L538 781.9 Z" fill="#265bf9"/>
<path d="M549.1 776.6 L546.8 775.2 L538 781.9 L540.4 783.5 Z" fill="#265bf9"/>
<path d="M551.5 777.9 L549.1 776.6 L540.4 783.5 L542.8 784.9 Z" fill="#265bf9"/>
<path d="M579 768.1 L576.6 769.3 L568.3 776.8 L570.7 775.4 Z" fill="#265bf9"/>
<path d="M553.9 778.7 L551.5 777.9 L542.8 784.9 L545.2 786 Z" fill="#265bf9"/>
<path d="M556.3 778.7 L553.9 778.7 L545.2 786 L547.6 786.7 Z" fill="#265bf9"/>
<path d="M581.5 766.6 L579 768.1 L570.7 775.4 L573.2 773.7 Z" fill="#265bf9"/>
<path d="M558.6 778.7 L556.3 778.7 L547.6 786.7 L550 787.1 Z" fill="#265bf9"/>
<path d="M561 778.6 L558.6 778.7 L550 787.1 L552.4 787 Z" fill="#265bf9"/>
<path d="M583.9 764.4 L581.5 766.6 L573.2 773.7 L575.6 771.6 Z" fill="#265bf9"/>
<path d="M563.4 778.3 L561 778.6 L552.4 787 L554.8 786.5 Z" fill="#265bf9"/>
<path d="M586.1 762.2 L583.9 764.4 L575.6 771.6 L577.8 769.4 Z" fill="#265bf9"/>
<path d="M565.8 777.7 L563.4 778.3 L554.8 786.5 L557.2 785.7 Z" fill="#265bf9"/>
<path d="M586.4 761.8 L586.1 762.2 L577.8 769.4 L578.1 769.1 Z" fill="#265bf9"/>
<path d="M526 771.7 L523.6 769.2 L514.2 773.1 L516.7 776.2 Z" fill="#265bf9"/>
<path d="M523.6 769.2 L521.2 766.7 L511.8 769.9 L514.2 773.1 Z" fill="#265bf9"/>
<path d="M528.4 774 L526 771.7 L516.7 776.2 L519.2 779.2 Z" fill="#265bf9"/>
<path d="M530.8 776.2 L528.4 774 L519.2 779.2 L521.6 782 Z" fill="#265bf9"/>
<path d="M533.2 778.3 L530.8 776.2 L521.6 782 L524 784.5 Z" fill="#265bf9"/>
<path d="M568.3 776.8 L565.8 777.7 L557.2 785.7 L559.7 784.6 Z" fill="#265bf9"/>
<path d="M535.6 780.2 L533.2 778.3 L524 784.5 L526.5 786.6 Z" fill="#265bf9"/>
<path d="M588.9 759.2 L586.4 761.8 L578.1 769.1 L580.6 766.4 Z" fill="#265bf9"/>
<path d="M538 781.9 L535.6 780.2 L526.5 786.6 L528.9 788.6 Z" fill="#265bf9"/>
<path d="M540.4 783.5 L538 781.9 L528.9 788.6 L531.3 790.4 Z" fill="#265bf9"/>
<path d="M542.8 784.9 L540.4 783.5 L531.3 790.4 L533.8 792 Z" fill="#265bf9"/>
<path d="M570.7 775.4 L568.3 776.8 L559.7 784.6 L562.1 783.1 Z" fill="#265bf9"/>
<path d="M545.2 786 L542.8 784.9 L533.8 792 L536.2 793.4 Z" fill="#265bf9"/>
<path d="M547.6 786.7 L545.2 786 L536.2 793.4 L538.6 794.4 Z" fill="#265bf9"/>
<path d="M591.5 756.3 L588.9 759.2 L580.6 766.4 L583.2 763.4 Z" fill="#265bf9"/>
<path d="M573.2 773.7 L570.7 775.4 L562.1 783.1 L564.6 781.3 Z" fill="#265bf9"/>
<path d="M550 787.1 L547.6 786.7 L538.6 794.4 L541.1 794.9 Z" fill="#265bf9"/>
<path d="M552.4 787 L550 787.1 L541.1 794.9 L543.5 794.8 Z" fill="#265bf9"/>
<path d="M594 753.2 L591.5 756.3 L583.2 763.4 L585.7 760.3 Z" fill="#265bf9"/>
<path d="M575.6 771.6 L573.2 773.7 L564.6 781.3 L567.1 779.1 Z" fill="#265bf9"/>
<path d="M554.8 786.5 L552.4 787 L543.5 794.8 L545.9 794.5 Z" fill="#265bf9"/>
<path d="M577.8 769.4 L575.6 771.6 L567.1 779.1 L569.2 776.9 Z" fill="#265bf9"/>
<path d="M557.2 785.7 L554.8 786.5 L545.9 794.5 L548.4 794 Z" fill="#265bf9"/>
<path d="M596.6 749.8 L594 753.2 L585.7 760.3 L588.3 757.1 Z" fill="#265bf9"/>
<path d="M578.1 769.1 L577.8 769.4 L569.2 776.9 L569.6 776.5 Z" fill="#265bf9"/>
<path d="M559.7 784.6 L557.2 785.7 L548.4 794 L550.8 793.1 Z" fill="#265bf9"/>
<path d="M521.6 782 L519.2 779.2 L509.6 785.3 L512.1 788.3 Z" fill="#265bf9"/>
<path d="M524 784.5 L521.6 782 L512.1 788.3 L514.6 791.1 Z" fill="#265bf9"/>
<path d="M519.2 779.2 L516.7 776.2 L507.1 782.1 L509.6 785.3 Z" fill="#265bf9"/>
<path d="M580.6 766.4 L578.1 769.1 L569.6 776.5 L572.1 773.8 Z" fill="#265bf9"/>
<path d="M526.5 786.6 L524 784.5 L514.6 791.1 L517.1 793.6 Z" fill="#265bf9"/>
<path d="M516.7 776.2 L514.2 773.1 L504.6 778.8 L507.1 782.1 Z" fill="#265bf9"/>
<path d="M514.2 773.1 L511.8 769.9 L502.1 775.6 L504.6 778.8 Z" fill="#265bf9"/>
<path d="M599.2 746.8 L596.6 749.8 L588.3 757.1 L590.9 754.1 Z" fill="#265bf9"/>
<path d="M528.9 788.6 L526.5 786.6 L517.1 793.6 L519.6 795.9 Z" fill="#265bf9"/>
<path d="M531.3 790.4 L528.9 788.6 L519.6 795.9 L522 797.9 Z" fill="#265bf9"/>
<path d="M562.1 783.1 L559.7 784.6 L550.8 793.1 L553.3 791.5 Z" fill="#265bf9"/>
<path d="M533.8 792 L531.3 790.4 L522 797.9 L524.5 799.5 Z" fill="#265bf9"/>
<path d="M536.2 793.4 L533.8 792 L524.5 799.5 L527 800.8 Z" fill="#265bf9"/>
<path d="M583.2 763.4 L580.6 766.4 L572.1 773.8 L574.6 770.8 Z" fill="#265bf9"/>
<path d="M538.6 794.4 L536.2 793.4 L527 800.8 L529.4 801.8 Z" fill="#265bf9"/>
<path d="M601.8 743.8 L599.2 746.8 L590.9 754.1 L593.5 751.3 Z" fill="#265bf9"/>
<path d="M564.6 781.3 L562.1 783.1 L553.3 791.5 L555.7 789.4 Z" fill="#265bf9"/>
<path d="M541.1 794.9 L538.6 794.4 L529.4 801.8 L531.9 802.3 Z" fill="#265bf9"/>
<path d="M543.5 794.8 L541.1 794.9 L531.9 802.3 L534.3 802.5 Z" fill="#265bf9"/>
<path d="M585.7 760.3 L583.2 763.4 L574.6 770.8 L577.2 767.7 Z" fill="#265bf9"/>
<path d="M567.1 779.1 L564.6 781.3 L555.7 789.4 L558.2 786.9 Z" fill="#265bf9"/>
<path d="M604.4 740.4 L601.8 743.8 L593.5 751.3 L596.1 749 Z" fill="#265bf9"/>
<path d="M545.9 794.5 L543.5 794.8 L534.3 802.5 L536.8 802.2 Z" fill="#265bf9"/>
<path d="M569.2 776.9 L567.1 779.1 L558.2 786.9 L560.4 784.6 Z" fill="#265bf9"/>
<path d="M548.4 794 L545.9 794.5 L536.8 802.2 L539.2 801.6 Z" fill="#265bf9"/>
<path d="M607 738.5 L604.4 740.4 L596.1 749 L598.7 747 Z" fill="#265bf9"/>
<path d="M588.3 757.1 L585.7 760.3 L577.2 767.7 L579.8 764.6 Z" fill="#265bf9"/>
<path d="M569.6 776.5 L569.2 776.9 L560.4 784.6 L560.7 784.2 Z" fill="#265bf9"/>
<path d="M550.8 793.1 L548.4 794 L539.2 801.6 L541.7 800.5 Z" fill="#265bf9"/>
<path d="M609.6 736.9 L607 738.5 L598.7 747 L601.4 745.5 Z" fill="#265bf9"/>
<path d="M572.1 773.8 L569.6 776.5 L560.7 784.2 L563.3 781.3 Z" fill="#265bf9"/>
<path d="M590.9 754.1 L588.3 757.1 L579.8 764.6 L582.4 761.7 Z" fill="#265bf9"/>
<path d="M514.6 791.1 L512.1 788.3 L502.4 795.2 L504.9 798.2 Z" fill="#265bf9"/>
<path d="M512.1 788.3 L509.6 785.3 L499.8 792 L502.4 795.2 Z" fill="#265bf9"/>
<path d="M517.1 793.6 L514.6 791.1 L504.9 798.2 L507.4 800.9 Z" fill="#265bf9"/>
<path d="M509.6 785.3 L507.1 782.1 L497.3 788.6 L499.8 792 Z" fill="#265bf9"/>
<path d="M519.6 795.9 L517.1 793.6 L507.4 800.9 L509.9 803.2 Z" fill="#265bf9"/>
<path d="M507.1 782.1 L504.6 778.8 L494.7 785.7 L497.3 788.6 Z" fill="#265bf9"/>
<path d="M504.6 778.8 L502.1 775.6 L492.2 783.4 L494.7 785.7 Z" fill="#265bf9"/>
<path d="M553.3 791.5 L550.8 793.1 L541.7 800.5 L544.2 799 Z" fill="#265bf9"/>
<path d="M522 797.9 L519.6 795.9 L509.9 803.2 L512.4 805.2 Z" fill="#265bf9"/>
<path d="M524.5 799.5 L522 797.9 L512.4 805.2 L514.9 806.9 Z" fill="#265bf9"/>
<path d="M612.4 732.6 L609.6 736.9 L601.4 745.5 L604 744.1 Z" fill="#265bf9"/>
<path d="M527 800.8 L524.5 799.5 L514.9 806.9 L517.4 808.2 Z" fill="#265bf9"/>
<path d="M574.6 770.8 L572.1 773.8 L563.3 781.3 L565.8 778.3 Z" fill="#265bf9"/>
<path d="M593.5 751.3 L590.9 754.1 L582.4 761.7 L585 759.2 Z" fill="#265bf9"/>
<path d="M529.4 801.8 L527 800.8 L517.4 808.2 L519.9 809.2 Z" fill="#265bf9"/>
<path d="M555.7 789.4 L553.3 791.5 L544.2 799 L546.6 797 Z" fill="#265bf9"/>
<path d="M531.9 802.3 L529.4 801.8 L519.9 809.2 L522.4 809.8 Z" fill="#265bf9"/>
<path d="M615 730.3 L612.4 732.6 L604 744.1 L606.7 742.7 Z" fill="#265bf9"/>
<path d="M596.1 749 L593.5 751.3 L585 759.2 L587.6 757.1 Z" fill="#265bf9"/>
<path d="M534.3 802.5 L531.9 802.3 L522.4 809.8 L524.8 810 Z" fill="#265bf9"/>
<path d="M577.2 767.7 L574.6 770.8 L565.8 778.3 L568.4 775.2 Z" fill="#265bf9"/>
<path d="M558.2 786.9 L555.7 789.4 L546.6 797 L549.1 794.8 Z" fill="#265bf9"/>
<path d="M617.8 727.3 L615 730.3 L606.7 742.7 L609.3 741.3 Z" fill="#265bf9"/>
<path d="M536.8 802.2 L534.3 802.5 L524.8 810 L527.3 809.9 Z" fill="#265bf9"/>
<path d="M598.7 747 L596.1 749 L587.6 757.1 L590.2 755.7 Z" fill="#265bf9"/>
<path d="M560.4 784.6 L558.2 786.9 L549.1 794.8 L551.3 792.5 Z" fill="#265bf9"/>
<path d="M579.8 764.6 L577.2 767.7 L568.4 775.2 L571 772.3 Z" fill="#265bf9"/>
<path d="M539.2 801.6 L536.8 802.2 L527.3 809.9 L529.8 809.3 Z" fill="#265bf9"/>
<path d="M620.5 724.5 L617.8 727.3 L609.3 741.3 L612 740 Z" fill="#265bf9"/>
<path d="M560.7 784.2 L560.4 784.6 L551.3 792.5 L551.6 792.2 Z" fill="#265bf9"/>
<path d="M601.4 745.5 L598.7 747 L590.2 755.7 L592.8 754.8 Z" fill="#265bf9"/>
<path d="M541.7 800.5 L539.2 801.6 L529.8 809.3 L532.3 808.3 Z" fill="#265bf9"/>
<path d="M623.2 722 L620.5 724.5 L612 740 L614.7 739.4 Z" fill="#265bf9"/>
<path d="M563.3 781.3 L560.7 784.2 L551.6 792.2 L554.2 789.3 Z" fill="#265bf9"/>
<path d="M582.4 761.7 L579.8 764.6 L571 772.3 L573.6 769.6 Z" fill="#265bf9"/>
<path d="M604 744.1 L601.4 745.5 L592.8 754.8 L595.5 754.5 Z" fill="#265bf9"/>
<path d="M504.9 798.2 L502.4 795.2 L492.3 803.5 L494.9 806.2 Z" fill="#265bf9"/>
<path d="M502.4 795.2 L499.8 792 L489.8 800.6 L492.3 803.5 Z" fill="#265bf9"/>
<path d="M499.8 792 L497.3 788.6 L487.2 797.6 L489.8 800.6 Z" fill="#265bf9"/>
<path d="M507.4 800.9 L504.9 798.2 L494.9 806.2 L497.4 808.7 Z" fill="#265bf9"/>
<path d="M494.7 785.7 L492.2 783.4 L482 791.5 L484.6 794.5 Z" fill="#265bf9"/>
<path d="M497.3 788.6 L494.7 785.7 L484.6 794.5 L487.2 797.6 Z" fill="#265bf9"/>
<path d="M509.9 803.2 L507.4 800.9 L497.4 808.7 L500 810.9 Z" fill="#265bf9"/>
<path d="M544.2 799 L541.7 800.5 L532.3 808.3 L534.7 806.8 Z" fill="#265bf9"/>
<path d="M512.4 805.2 L509.9 803.2 L500 810.9 L502.5 812.9 Z" fill="#265bf9"/>
<path d="M626 719.8 L623.2 722 L614.7 739.4 L617.4 739.5 Z" fill="#265bf9"/>
<path d="M514.9 806.9 L512.4 805.2 L502.5 812.9 L505 814.7 Z" fill="#265bf9"/>
<path d="M606.7 742.7 L604 744.1 L595.5 754.5 L598.1 754.8 Z" fill="#265bf9"/>
<path d="M517.4 808.2 L514.9 806.9 L505 814.7 L507.5 816.1 Z" fill="#265bf9"/>
<path d="M585 759.2 L582.4 761.7 L573.6 769.6 L576.2 767.3 Z" fill="#265bf9"/>
<path d="M565.8 778.3 L563.3 781.3 L554.2 789.3 L556.7 786.4 Z" fill="#265bf9"/>
<path d="M519.9 809.2 L517.4 808.2 L507.5 816.1 L510 817.1 Z" fill="#265bf9"/>
<path d="M546.6 797 L544.2 799 L534.7 806.8 L537.2 805 Z" fill="#265bf9"/>
<path d="M628.7 717.7 L626 719.8 L617.4 739.5 L620 739.9 Z" fill="#265bf9"/>
<path d="M609.3 741.3 L606.7 742.7 L598.1 754.8 L600.7 755.6 Z" fill="#265bf9"/>
<path d="M522.4 809.8 L519.9 809.2 L510 817.1 L512.5 817.6 Z" fill="#265bf9"/>
<path d="M587.6 757.1 L585 759.2 L576.2 767.3 L578.8 765.7 Z" fill="#265bf9"/>
<path d="M612 740 L609.3 741.3 L600.7 755.6 L603.4 756.9 Z" fill="#265bf9"/>
<path d="M631.5 715.5 L628.7 717.7 L620 739.9 L622.7 740.7 Z" fill="#265bf9"/>
<path d="M568.4 775.2 L565.8 778.3 L556.7 786.4 L559.3 783.6 Z" fill="#265bf9"/>
<path d="M524.8 810 L522.4 809.8 L512.5 817.6 L515 817.6 Z" fill="#265bf9"/>
<path d="M549.1 794.8 L546.6 797 L537.2 805 L539.7 802.8 Z" fill="#265bf9"/>
<path d="M614.7 739.4 L612 740 L603.4 756.9 L606 758.5 Z" fill="#265bf9"/>
<path d="M634.3 713.3 L631.5 715.5 L622.7 740.7 L625.3 741.8 Z" fill="#265bf9"/>
<path d="M590.2 755.7 L587.6 757.1 L578.8 765.7 L581.4 765 Z" fill="#265bf9"/>
<path d="M527.3 809.9 L524.8 810 L515 817.6 L517.5 817.4 Z" fill="#265bf9"/>
<path d="M617.4 739.5 L614.7 739.4 L606 758.5 L608.6 760.4 Z" fill="#265bf9"/>
<path d="M644.3 810.8 L641.8 807.4 L633 832.7 L635.5 836.7 Z" fill="#265bf9"/>
<path d="M653.9 771.9 L651.3 768.8 L641.8 807.4 L644.3 810.8 Z" fill="#265bf9"/>
<path d="M641.8 807.4 L639.2 804.1 L630.4 828.9 L633 832.7 Z" fill="#265bf9"/>
<path d="M651.3 768.8 L648.7 765.2 L639.2 804.1 L641.8 807.4 Z" fill="#265bf9"/>
<path d="M551.3 792.5 L549.1 794.8 L539.7 802.8 L541.9 800.7 Z" fill="#265bf9"/>
<path d="M620 739.9 L617.4 739.5 L608.6 760.4 L611.2 762.7 Z" fill="#265bf9"/>
<path d="M571 772.3 L568.4 775.2 L559.3 783.6 L561.9 781 Z" fill="#265bf9"/>
<path d="M639.2 804.1 L636.7 800.9 L627.9 825.1 L630.4 828.9 Z" fill="#265bf9"/>
<path d="M648.7 765.2 L646.2 762.1 L636.7 800.9 L639.2 804.1 Z" fill="#265bf9"/>
<path d="M646.2 762.1 L643.6 759.2 L634.1 797.8 L636.7 800.9 Z" fill="#265bf9"/>
<path d="M643.6 759.2 L641 756.1 L631.5 794.7 L634.1 797.8 Z" fill="#265bf9"/>
<path d="M637.1 711.3 L634.3 713.3 L625.3 741.8 L628 743.2 Z" fill="#265bf9"/>
<path d="M641 756.1 L638.4 753 L629 791.5 L631.5 794.7 Z" fill="#265bf9"/>
<path d="M636.7 800.9 L634.1 797.8 L625.3 821.2 L627.9 825.1 Z" fill="#265bf9"/>
<path d="M638.4 753 L635.8 750 L626.4 787.7 L629 791.5 Z" fill="#265bf9"/>
<path d="M634.1 797.8 L631.5 794.7 L622.8 817.4 L625.3 821.2 Z" fill="#265bf9"/>
<path d="M529.8 809.3 L527.3 809.9 L517.5 817.4 L520 816.7 Z" fill="#265bf9"/>
<path d="M592.8 754.8 L590.2 755.7 L581.4 765 L584.1 765.1 Z" fill="#265bf9"/>
<path d="M635.8 750 L633.2 747.2 L623.9 783.3 L626.4 787.7 Z" fill="#265bf9"/>
<path d="M622.7 740.7 L620 739.9 L611.2 762.7 L613.8 765.4 Z" fill="#265bf9"/>
<path d="M631.5 794.7 L629 791.5 L620.2 813.5 L622.8 817.4 Z" fill="#265bf9"/>
<path d="M633.2 747.2 L630.6 744.9 L621.4 778.6 L623.9 783.3 Z" fill="#265bf9"/>
<path d="M625.3 741.8 L622.7 740.7 L613.8 765.4 L616.4 769.2 Z" fill="#265bf9"/>
<path d="M630.6 744.9 L628 743.2 L618.9 773.8 L621.4 778.6 Z" fill="#265bf9"/>
<path d="M628 743.2 L625.3 741.8 L616.4 769.2 L618.9 773.8 Z" fill="#265bf9"/>
<path d="M629 791.5 L626.4 787.7 L617.7 809.4 L620.2 813.5 Z" fill="#265bf9"/>
<path d="M551.6 792.2 L551.3 792.5 L541.9 800.7 L542.2 800.4 Z" fill="#265bf9"/>
<path d="M639.9 709.5 L637.1 711.3 L628 743.2 L630.6 744.9 Z" fill="#265bf9"/>
<path d="M626.4 787.7 L623.9 783.3 L615.1 805.5 L617.7 809.4 Z" fill="#265bf9"/>
<path d="M595.5 754.5 L592.8 754.8 L584.1 765.1 L586.7 766.1 Z" fill="#265bf9"/>
<path d="M623.9 783.3 L621.4 778.6 L612.6 801.9 L615.1 805.5 Z" fill="#265bf9"/>
<path d="M532.3 808.3 L529.8 809.3 L520 816.7 L522.5 815.8 Z" fill="#265bf9"/>
<path d="M573.6 769.6 L571 772.3 L561.9 781 L564.5 778.7 Z" fill="#265bf9"/>
<path d="M554.2 789.3 L551.6 792.2 L542.2 800.4 L544.8 798 Z" fill="#265bf9"/>
<path d="M621.4 778.6 L618.9 773.8 L610 797.9 L612.6 801.9 Z" fill="#265bf9"/>
<path d="M642.8 707.9 L639.9 709.5 L630.6 744.9 L633.2 747.2 Z" fill="#265bf9"/>
<path d="M484.6 794.5 L482 791.5 L471.6 801.7 L474.2 804.4 Z" fill="#265bf9"/>
<path d="M598.1 754.8 L595.5 754.5 L586.7 766.1 L589.3 767.9 Z" fill="#265bf9"/>
<path d="M487.2 797.6 L484.6 794.5 L474.2 804.4 L476.8 807.2 Z" fill="#265bf9"/>
<path d="M489.8 800.6 L487.2 797.6 L476.8 807.2 L479.4 809.8 Z" fill="#265bf9"/>
<path d="M492.3 803.5 L489.8 800.6 L479.4 809.8 L482 812.3 Z" fill="#265bf9"/>
<path d="M494.9 806.2 L492.3 803.5 L482 812.3 L484.5 814.6 Z" fill="#265bf9"/>
<path d="M618.9 773.8 L616.4 769.2 L607.4 793.3 L610 797.9 Z" fill="#265bf9"/>
<path d="M497.4 808.7 L494.9 806.2 L484.5 814.6 L487.1 816.7 Z" fill="#265bf9"/>
<path d="M600.7 755.6 L598.1 754.8 L589.3 767.9 L591.9 770.2 Z" fill="#265bf9"/>
<path d="M635.5 836.7 L633 832.7 L624.3 853.2 L626.9 856 Z" fill="#265bf9"/>
<path d="M645.6 706.4 L642.8 707.9 L633.2 747.2 L635.8 750 Z" fill="#265bf9"/>
<path d="M500 810.9 L497.4 808.7 L487.1 816.7 L489.7 818.7 Z" fill="#265bf9"/>
<path d="M633 832.7 L630.4 828.9 L621.7 849.7 L624.3 853.2 Z" fill="#265bf9"/>
<path d="M616.4 769.2 L613.8 765.4 L604.9 788.5 L607.4 793.3 Z" fill="#265bf9"/>
<path d="M603.4 756.9 L600.7 755.6 L591.9 770.2 L594.6 773 Z" fill="#265bf9"/>
<path d="M534.7 806.8 L532.3 808.3 L522.5 815.8 L525 814.4 Z" fill="#265bf9"/>
<path d="M630.4 828.9 L627.9 825.1 L619.2 846 L621.7 849.7 Z" fill="#265bf9"/>
<path d="M502.5 812.9 L500 810.9 L489.7 818.7 L492.2 820.4 Z" fill="#265bf9"/>
<path d="M613.8 765.4 L611.2 762.7 L602.3 783.9 L604.9 788.5 Z" fill="#265bf9"/>
<path d="M606 758.5 L603.4 756.9 L594.6 773 L597.2 776.1 Z" fill="#265bf9"/>
<path d="M627.9 825.1 L625.3 821.2 L616.6 842.5 L619.2 846 Z" fill="#265bf9"/>
<path d="M608.6 760.4 L606 758.5 L597.2 776.1 L599.8 779.8 Z" fill="#265bf9"/>
<path d="M611.2 762.7 L608.6 760.4 L599.8 779.8 L602.3 783.9 Z" fill="#265bf9"/>
<path d="M648.4 705.1 L645.6 706.4 L635.8 750 L638.4 753 Z" fill="#265bf9"/>
<path d="M625.3 821.2 L622.8 817.4 L614 838.9 L616.6 842.5 Z" fill="#265bf9"/>
<path d="M576.2 767.3 L573.6 769.6 L564.5 778.7 L567.1 776.8 Z" fill="#265bf9"/>
<path d="M505 814.7 L502.5 812.9 L492.2 820.4 L494.8 822 Z" fill="#265bf9"/>
<path d="M556.7 786.4 L554.2 789.3 L544.8 798 L547.3 795.5 Z" fill="#265bf9"/>
<path d="M622.8 817.4 L620.2 813.5 L611.4 835.1 L614 838.9 Z" fill="#265bf9"/>
<path d="M507.5 816.1 L505 814.7 L494.8 822 L497.3 823.2 Z" fill="#265bf9"/>
<path d="M651.3 704 L648.4 705.1 L638.4 753 L641 756.1 Z" fill="#265bf9"/>
<path d="M620.2 813.5 L617.7 809.4 L608.8 831 L611.4 835.1 Z" fill="#265bf9"/>
<path d="M617.7 809.4 L615.1 805.5 L606.3 826.7 L608.8 831 Z" fill="#265bf9"/>
<path d="M537.2 805 L534.7 806.8 L525 814.4 L527.5 812.8 Z" fill="#265bf9"/>
<path d="M510 817.1 L507.5 816.1 L497.3 823.2 L499.8 824.1 Z" fill="#265bf9"/>
<path d="M654.1 703 L651.3 704 L641 756.1 L643.6 759.2 Z" fill="#265bf9"/>
<path d="M615.1 805.5 L612.6 801.9 L603.7 822.3 L606.3 826.7 Z" fill="#265bf9"/>
<path d="M578.8 765.7 L576.2 767.3 L567.1 776.8 L569.7 775.6 Z" fill="#265bf9"/>
<path d="M612.6 801.9 L610 797.9 L601.1 817.7 L603.7 822.3 Z" fill="#265bf9"/>
<path d="M657 702.1 L654.1 703 L643.6 759.2 L646.2 762.1 Z" fill="#265bf9"/>
<path d="M512.5 817.6 L510 817.1 L499.8 824.1 L502.4 824.6 Z" fill="#265bf9"/>
<path d="M559.3 783.6 L556.7 786.4 L547.3 795.5 L549.9 793.2 Z" fill="#265bf9"/>
<path d="M610 797.9 L607.4 793.3 L598.5 813 L601.1 817.7 Z" fill="#265bf9"/>
<path d="M659.9 700.9 L657 702.1 L646.2 762.1 L648.7 765.2 Z" fill="#265bf9"/>
<path d="M539.7 802.8 L537.2 805 L527.5 812.8 L530 811 Z" fill="#265bf9"/>
<path d="M607.4 793.3 L604.9 788.5 L596 808.2 L598.5 813 Z" fill="#265bf9"/>
<path d="M581.4 765 L578.8 765.7 L569.7 775.6 L572.4 775.4 Z" fill="#265bf9"/>
<path d="M515 817.6 L512.5 817.6 L502.4 824.6 L504.9 824.8 Z" fill="#265bf9"/>
<path d="M662.8 699.7 L659.9 700.9 L648.7 765.2 L651.3 768.8 Z" fill="#265bf9"/>
<path d="M604.9 788.5 L602.3 783.9 L593.4 802.6 L596 808.2 Z" fill="#265bf9"/>
<path d="M665.6 700 L662.8 699.7 L651.3 768.8 L653.9 771.9 Z" fill="#265bf9"/>
<path d="M584.1 765.1 L581.4 765 L572.4 775.4 L575 776.3 Z" fill="#265bf9"/>
<path d="M517.5 817.4 L515 817.6 L504.9 824.8 L507.4 824.7 Z" fill="#265bf9"/>
<path d="M561.9 781 L559.3 783.6 L549.9 793.2 L552.5 791 Z" fill="#265bf9"/>
<path d="M602.3 783.9 L599.8 779.8 L590.8 796.3 L593.4 802.6 Z" fill="#265bf9"/>
<path d="M541.9 800.7 L539.7 802.8 L530 811 L532.2 809.2 Z" fill="#265bf9"/>
<path d="M586.7 766.1 L584.1 765.1 L575 776.3 L577.7 778.2 Z" fill="#265bf9"/>
<path d="M626.9 856 L624.3 853.2 L615.8 866 L618.5 868.7 Z" fill="#265bf9"/>
<path d="M624.3 853.2 L621.7 849.7 L613.2 862.7 L615.8 866 Z" fill="#265bf9"/>
<path d="M621.7 849.7 L619.2 846 L610.6 859.3 L613.2 862.7 Z" fill="#265bf9"/>
<path d="M599.8 779.8 L597.2 776.1 L588.2 790.8 L590.8 796.3 Z" fill="#265bf9"/>
<path d="M619.2 846 L616.6 842.5 L608 855.9 L610.6 859.3 Z" fill="#265bf9"/>
<path d="M589.3 767.9 L586.7 766.1 L577.7 778.2 L580.3 780.9 Z" fill="#265bf9"/>
<path d="M616.6 842.5 L614 838.9 L605.3 852.4 L608 855.9 Z" fill="#265bf9"/>
<path d="M520 816.7 L517.5 817.4 L507.4 824.7 L509.9 824.2 Z" fill="#265bf9"/>
<path d="M591.9 770.2 L589.3 767.9 L580.3 780.9 L583 784.1 Z" fill="#265bf9"/>
<path d="M597.2 776.1 L594.6 773 L585.6 787.2 L588.2 790.8 Z" fill="#265bf9"/>
<path d="M594.6 773 L591.9 770.2 L583 784.1 L585.6 787.2 Z" fill="#265bf9"/>
<path d="M542.2 800.4 L541.9 800.7 L532.2 809.2 L532.6 808.9 Z" fill="#265bf9"/>
<path d="M614 838.9 L611.4 835.1 L602.7 848.7 L605.3 852.4 Z" fill="#265bf9"/>
<path d="M611.4 835.1 L608.8 831 L600.1 844.9 L602.7 848.7 Z" fill="#265bf9"/>
<path d="M474.2 804.4 L471.6 801.7 L461 813.7 L463.6 815.7 Z" fill="#265bf9"/>
<path d="M564.5 778.7 L561.9 781 L552.5 791 L555.1 789.1 Z" fill="#265bf9"/>
<path d="M476.8 807.2 L474.2 804.4 L463.6 815.7 L466.2 817.6 Z" fill="#265bf9"/>
<path d="M608.8 831 L606.3 826.7 L597.5 840.7 L600.1 844.9 Z" fill="#265bf9"/>
<path d="M479.4 809.8 L476.8 807.2 L466.2 817.6 L468.7 819.6 Z" fill="#265bf9"/>
<path d="M544.8 798 L542.2 800.4 L532.6 808.9 L535.1 806.8 Z" fill="#265bf9"/>
<path d="M606.3 826.7 L603.7 822.3 L594.8 836.3 L597.5 840.7 Z" fill="#265bf9"/>
<path d="M522.5 815.8 L520 816.7 L509.9 824.2 L512.4 823.5 Z" fill="#265bf9"/>
<path d="M482 812.3 L479.4 809.8 L468.7 819.6 L471.3 821.5 Z" fill="#265bf9"/>
<path d="M484.5 814.6 L482 812.3 L471.3 821.5 L473.9 823.3 Z" fill="#265bf9"/>
<path d="M603.7 822.3 L601.1 817.7 L592.2 831.8 L594.8 836.3 Z" fill="#265bf9"/>
<path d="M487.1 816.7 L484.5 814.6 L473.9 823.3 L476.5 825.2 Z" fill="#265bf9"/>
<path d="M567.1 776.8 L564.5 778.7 L555.1 789.1 L557.8 787.9 Z" fill="#265bf9"/>
<path d="M489.7 818.7 L487.1 816.7 L476.5 825.2 L479.1 827.1 Z" fill="#265bf9"/>
<path d="M601.1 817.7 L598.5 813 L589.6 827.1 L592.2 831.8 Z" fill="#265bf9"/>
<path d="M525 814.4 L522.5 815.8 L512.4 823.5 L514.9 822.5 Z" fill="#265bf9"/>
<path d="M492.2 820.4 L489.7 818.7 L479.1 827.1 L481.7 829.3 Z" fill="#265bf9"/>
<path d="M547.3 795.5 L544.8 798 L535.1 806.8 L537.7 804.6 Z" fill="#265bf9"/>
<path d="M598.5 813 L596 808.2 L587 822.2 L589.6 827.1 Z" fill="#265bf9"/>
<path d="M494.8 822 L492.2 820.4 L481.7 829.3 L484.3 831.4 Z" fill="#265bf9"/>
<path d="M497.3 823.2 L494.8 822 L484.3 831.4 L486.8 832.9 Z" fill="#265bf9"/>
<path d="M596 808.2 L593.4 802.6 L584.4 817.1 L587 822.2 Z" fill="#265bf9"/>
<path d="M569.7 775.6 L567.1 776.8 L557.8 787.9 L560.4 787.4 Z" fill="#265bf9"/>
<path d="M527.5 812.8 L525 814.4 L514.9 822.5 L517.5 821.1 Z" fill="#265bf9"/>
<path d="M499.8 824.1 L497.3 823.2 L486.8 832.9 L489.4 833.4 Z" fill="#265bf9"/>
<path d="M593.4 802.6 L590.8 796.3 L581.7 811.8 L584.4 817.1 Z" fill="#265bf9"/>
<path d="M549.9 793.2 L547.3 795.5 L537.7 804.6 L540.3 802.6 Z" fill="#265bf9"/>
<path d="M572.4 775.4 L569.7 775.6 L560.4 787.4 L563.1 787.9 Z" fill="#265bf9"/>
<path d="M502.4 824.6 L499.8 824.1 L489.4 833.4 L491.9 833 Z" fill="#265bf9"/>
<path d="M590.8 796.3 L588.2 790.8 L579.1 806.2 L581.7 811.8 Z" fill="#265bf9"/>
<path d="M575 776.3 L572.4 775.4 L563.1 787.9 L565.7 789.2 Z" fill="#265bf9"/>
<path d="M530 811 L527.5 812.8 L517.5 821.1 L520 819.5 Z" fill="#265bf9"/>
<path d="M588.2 790.8 L585.6 787.2 L576.4 800.8 L579.1 806.2 Z" fill="#265bf9"/>
<path d="M577.7 778.2 L575 776.3 L565.7 789.2 L568.4 791.1 Z" fill="#265bf9"/>
<path d="M504.9 824.8 L502.4 824.6 L491.9 833 L494.4 832.5 Z" fill="#265bf9"/>
<path d="M585.6 787.2 L583 784.1 L573.8 796.7 L576.4 800.8 Z" fill="#265bf9"/>
<path d="M580.3 780.9 L577.7 778.2 L568.4 791.1 L571.1 793.5 Z" fill="#265bf9"/>
<path d="M552.5 791 L549.9 793.2 L540.3 802.6 L542.9 800.8 Z" fill="#265bf9"/>
<path d="M583 784.1 L580.3 780.9 L571.1 793.5 L573.8 796.7 Z" fill="#265bf9"/>
<path d="M613.2 862.7 L610.6 859.3 L601.8 871.3 L604.5 874 Z" fill="#265bf9"/>
<path d="M615.8 866 L613.2 862.7 L604.5 874 L607.2 876.6 Z" fill="#265bf9"/>
<path d="M610.6 859.3 L608 855.9 L599.1 868.2 L601.8 871.3 Z" fill="#265bf9"/>
<path d="M608 855.9 L605.3 852.4 L596.5 864.8 L599.1 868.2 Z" fill="#265bf9"/>
<path d="M618.5 868.7 L615.8 866 L607.2 876.6 L609.9 878.9 Z" fill="#265bf9"/>
<path d="M605.3 852.4 L602.7 848.7 L593.8 861.3 L596.5 864.8 Z" fill="#265bf9"/>
<path d="M602.7 848.7 L600.1 844.9 L591.1 857.7 L593.8 861.3 Z" fill="#265bf9"/>
<path d="M532.2 809.2 L530 811 L520 819.5 L522.2 817.9 Z" fill="#265bf9"/>
<path d="M507.4 824.7 L504.9 824.8 L494.4 832.5 L496.9 832.1 Z" fill="#265bf9"/>
<path d="M600.1 844.9 L597.5 840.7 L588.5 853.8 L591.1 857.7 Z" fill="#265bf9"/>
<path d="M597.5 840.7 L594.8 836.3 L585.8 849.6 L588.5 853.8 Z" fill="#265bf9"/>
<path d="M555.1 789.1 L552.5 791 L542.9 800.8 L545.5 799.4 Z" fill="#265bf9"/>
<path d="M532.6 808.9 L532.2 809.2 L522.2 817.9 L522.5 817.7 Z" fill="#265bf9"/>
<path d="M594.8 836.3 L592.2 831.8 L583.1 845.1 L585.8 849.6 Z" fill="#265bf9"/>
<path d="M509.9 824.2 L507.4 824.7 L496.9 832.1 L499.4 831.7 Z" fill="#265bf9"/>
<path d="M592.2 831.8 L589.6 827.1 L580.5 840.4 L583.1 845.1 Z" fill="#265bf9"/>
<path d="M535.1 806.8 L532.6 808.9 L522.5 817.7 L525.1 815.9 Z" fill="#265bf9"/>
<path d="M589.6 827.1 L587 822.2 L577.8 835.5 L580.5 840.4 Z" fill="#265bf9"/>
<path d="M557.8 787.9 L555.1 789.1 L545.5 799.4 L548.1 798.5 Z" fill="#265bf9"/>
<path d="M512.4 823.5 L509.9 824.2 L499.4 831.7 L502 831.3 Z" fill="#265bf9"/>
<path d="M587 822.2 L584.4 817.1 L575.1 830.6 L577.8 835.5 Z" fill="#265bf9"/>
<path d="M584.4 817.1 L581.7 811.8 L572.4 825.7 L575.1 830.6 Z" fill="#265bf9"/>
<path d="M560.4 787.4 L557.8 787.9 L548.1 798.5 L550.8 798.4 Z" fill="#265bf9"/>
<path d="M537.7 804.6 L535.1 806.8 L525.1 815.9 L527.7 814.2 Z" fill="#265bf9"/>
<path d="M514.9 822.5 L512.4 823.5 L502 831.3 L504.5 830.6 Z" fill="#265bf9"/>
<path d="M581.7 811.8 L579.1 806.2 L569.7 820.8 L572.4 825.7 Z" fill="#265bf9"/>
<path d="M563.1 787.9 L560.4 787.4 L550.8 798.4 L553.5 799.3 Z" fill="#265bf9"/>
<path d="M579.1 806.2 L576.4 800.8 L567 815.9 L569.7 820.8 Z" fill="#265bf9"/>
<path d="M565.7 789.2 L563.1 787.9 L553.5 799.3 L556.2 801 Z" fill="#265bf9"/>
<path d="M540.3 802.6 L537.7 804.6 L527.7 814.2 L530.3 812.7 Z" fill="#265bf9"/>
<path d="M517.5 821.1 L514.9 822.5 L504.5 830.6 L507.1 829.5 Z" fill="#265bf9"/>
<path d="M576.4 800.8 L573.8 796.7 L564.3 811.2 L567 815.9 Z" fill="#265bf9"/>
<path d="M568.4 791.1 L565.7 789.2 L556.2 801 L558.9 803.6 Z" fill="#265bf9"/>
<path d="M573.8 796.7 L571.1 793.5 L561.6 807 L564.3 811.2 Z" fill="#265bf9"/>
<path d="M571.1 793.5 L568.4 791.1 L558.9 803.6 L561.6 807 Z" fill="#265bf9"/>
<path d="M520 819.5 L517.5 821.1 L507.1 829.5 L509.6 828.1 Z" fill="#265bf9"/>
<path d="M542.9 800.8 L540.3 802.6 L530.3 812.7 L532.9 811.5 Z" fill="#265bf9"/>
<path d="M599.1 868.2 L596.5 864.8 L587.4 876.4 L590.1 879.6 Z" fill="#265bf9"/>
<path d="M601.8 871.3 L599.1 868.2 L590.1 879.6 L592.8 882.2 Z" fill="#265bf9"/>
<path d="M596.5 864.8 L593.8 861.3 L584.6 873 L587.4 876.4 Z" fill="#265bf9"/>
<path d="M604.5 874 L601.8 871.3 L592.8 882.2 L595.5 884.7 Z" fill="#265bf9"/>
<path d="M593.8 861.3 L591.1 857.7 L581.9 869.4 L584.6 873 Z" fill="#265bf9"/>
<path d="M607.2 876.6 L604.5 874 L595.5 884.7 L598.3 887.1 Z" fill="#265bf9"/>
<path d="M591.1 857.7 L588.5 853.8 L579.2 865.7 L581.9 869.4 Z" fill="#265bf9"/>
<path d="M609.9 878.9 L607.2 876.6 L598.3 887.1 L601 889.2 Z" fill="#265bf9"/>
<path d="M588.5 853.8 L585.8 849.6 L576.5 861.6 L579.2 865.7 Z" fill="#265bf9"/>
<path d="M585.8 849.6 L583.1 845.1 L573.8 857.4 L576.5 861.6 Z" fill="#265bf9"/>
<path d="M522.2 817.9 L520 819.5 L509.6 828.1 L511.9 826.9 Z" fill="#265bf9"/>
<path d="M545.5 799.4 L542.9 800.8 L532.9 811.5 L535.6 810.8 Z" fill="#265bf9"/>
<path d="M583.1 845.1 L580.5 840.4 L571.1 853 L573.8 857.4 Z" fill="#265bf9"/>
<path d="M580.5 840.4 L577.8 835.5 L568.3 848.5 L571.1 853 Z" fill="#265bf9"/>
<path d="M522.5 817.7 L522.2 817.9 L511.9 826.9 L512.2 826.8 Z" fill="#265bf9"/>
<path d="M577.8 835.5 L575.1 830.6 L565.6 843.7 L568.3 848.5 Z" fill="#265bf9"/>
<path d="M548.1 798.5 L545.5 799.4 L535.6 810.8 L538.2 810.7 Z" fill="#265bf9"/>
<path d="M525.1 815.9 L522.5 817.7 L512.2 826.8 L514.8 825.7 Z" fill="#265bf9"/>
<path d="M575.1 830.6 L572.4 825.7 L562.9 839.1 L565.6 843.7 Z" fill="#265bf9"/>
<path d="M572.4 825.7 L569.7 820.8 L560.1 834.4 L562.9 839.1 Z" fill="#265bf9"/>
<path d="M550.8 798.4 L548.1 798.5 L538.2 810.7 L540.9 811.2 Z" fill="#265bf9"/>
<path d="M569.7 820.8 L567 815.9 L557.4 829.8 L560.1 834.4 Z" fill="#265bf9"/>
<path d="M527.7 814.2 L525.1 815.9 L514.8 825.7 L517.4 824.7 Z" fill="#265bf9"/>
<path d="M553.5 799.3 L550.8 798.4 L540.9 811.2 L543.7 812.4 Z" fill="#265bf9"/>
<path d="M567 815.9 L564.3 811.2 L554.6 825.3 L557.4 829.8 Z" fill="#265bf9"/>
<path d="M556.2 801 L553.5 799.3 L543.7 812.4 L546.4 814.4 Z" fill="#265bf9"/>
<path d="M564.3 811.2 L561.6 807 L551.9 821.1 L554.6 825.3 Z" fill="#265bf9"/>
<path d="M561.6 807 L558.9 803.6 L549.1 817.4 L551.9 821.1 Z" fill="#265bf9"/>
<path d="M558.9 803.6 L556.2 801 L546.4 814.4 L549.1 817.4 Z" fill="#265bf9"/>
<path d="M530.3 812.7 L527.7 814.2 L517.4 824.7 L520 824 Z" fill="#265bf9"/>
<path d="M532.9 811.5 L530.3 812.7 L520 824 L522.7 823.5 Z" fill="#265bf9"/>
<path d="M587.4 876.4 L584.6 873 L575.2 884.7 L578 887.9 Z" fill="#265bf9"/>
<path d="M590.1 879.6 L587.4 876.4 L578 887.9 L580.7 890.7 Z" fill="#265bf9"/>
<path d="M584.6 873 L581.9 869.4 L572.4 881.2 L575.2 884.7 Z" fill="#265bf9"/>
<path d="M592.8 882.2 L590.1 879.6 L580.7 890.7 L583.5 893.1 Z" fill="#265bf9"/>
<path d="M581.9 869.4 L579.2 865.7 L569.7 877.5 L572.4 881.2 Z" fill="#265bf9"/>
<path d="M595.5 884.7 L592.8 882.2 L583.5 893.1 L586.3 895.4 Z" fill="#265bf9"/>
<path d="M579.2 865.7 L576.5 861.6 L566.9 873.6 L569.7 877.5 Z" fill="#265bf9"/>
<path d="M598.3 887.1 L595.5 884.7 L586.3 895.4 L589.1 897.8 Z" fill="#265bf9"/>
<path d="M576.5 861.6 L573.8 857.4 L564.2 869.5 L566.9 873.6 Z" fill="#265bf9"/>
<path d="M601 889.2 L598.3 887.1 L589.1 897.8 L591.9 900.1 Z" fill="#265bf9"/>
<path d="M535.6 810.8 L532.9 811.5 L522.7 823.5 L525.4 823.3 Z" fill="#265bf9"/>
<path d="M573.8 857.4 L571.1 853 L561.4 865.2 L564.2 869.5 Z" fill="#265bf9"/>
<path d="M571.1 853 L568.3 848.5 L558.6 861 L561.4 865.2 Z" fill="#265bf9"/>
<path d="M568.3 848.5 L565.6 843.7 L555.8 856.5 L558.6 861 Z" fill="#265bf9"/>
<path d="M538.2 810.7 L535.6 810.8 L525.4 823.3 L528.1 823.5 Z" fill="#265bf9"/>
<path d="M565.6 843.7 L562.9 839.1 L553 852 L555.8 856.5 Z" fill="#265bf9"/>
<path d="M562.9 839.1 L560.1 834.4 L550.3 847.5 L553 852 Z" fill="#265bf9"/>
<path d="M540.9 811.2 L538.2 810.7 L528.1 823.5 L530.8 824.6 Z" fill="#265bf9"/>
<path d="M560.1 834.4 L557.4 829.8 L547.5 843.2 L550.3 847.5 Z" fill="#265bf9"/>
<path d="M543.7 812.4 L540.9 811.2 L530.8 824.6 L533.5 826.4 Z" fill="#265bf9"/>
<path d="M557.4 829.8 L554.6 825.3 L544.7 839 L547.5 843.2 Z" fill="#265bf9"/>
<path d="M554.6 825.3 L551.9 821.1 L541.9 835.2 L544.7 839 Z" fill="#265bf9"/>
<path d="M546.4 814.4 L543.7 812.4 L533.5 826.4 L536.3 828.8 Z" fill="#265bf9"/>
<path d="M551.9 821.1 L549.1 817.4 L539.1 831.8 L541.9 835.2 Z" fill="#265bf9"/>
<path d="M549.1 817.4 L546.4 814.4 L536.3 828.8 L539.1 831.8 Z" fill="#265bf9"/>
</g>
<line x1="454.8" y1="724.5" x2="594.7" y2="762.9" stroke="#222" stroke-width="0.7" stroke-dasharray="0.9 2.0"/>
<line x1="594.7" y1="762.9" x2="665.6" y2="700" stroke="#222" stroke-width="0.7" stroke-dasharray="0.9 2.0"/>
<line x1="591.9" y1="900.1" x2="594.7" y2="762.9" stroke="#222" stroke-width="0.7" stroke-dasharray="0.9 2.0"/>
<line x1="588.8" y1="899" x2="586.5" y2="905.3" stroke="#222" stroke-width="0.7"/>
<text x="584.1" y="916.2" font-size="9.5" text-anchor="middle" >2</text>
<line x1="561.3" y1="889.3" x2="559" y2="895.5" stroke="#222" stroke-width="0.7"/>
<text x="556.7" y="906.2" font-size="9.5" text-anchor="middle" >3</text>
<line x1="534.7" y1="879.9" x2="532.4" y2="886" stroke="#222" stroke-width="0.7"/>
<text x="530.1" y="896.6" font-size="9.5" text-anchor="middle" >4</text>
<line x1="508.9" y1="870.8" x2="506.6" y2="876.8" stroke="#222" stroke-width="0.7"/>
<text x="504.3" y="887.3" font-size="9.5" text-anchor="middle" >5</text>
<line x1="483.9" y1="862" x2="481.6" y2="867.8" stroke="#222" stroke-width="0.7"/>
<text x="479.2" y="878.3" font-size="9.5" text-anchor="middle" >6</text>
<text x="526.6" y="904.2" font-size="9.5" text-anchor="middle" transform="rotate(19.6 526.6 904.2)" >Wind Speed(m/s)</text>
<line x1="657.4" y1="825.8" x2="661" y2="830.4" stroke="#222" stroke-width="0.7"/>
<text x="664.5" y="839.6" font-size="9.5" text-anchor="middle" >0</text>
<line x1="642.6" y1="842.7" x2="646.2" y2="847.4" stroke="#222" stroke-width="0.7"/>
<text x="649.9" y="856.7" font-size="9.5" text-anchor="middle" >1</text>
<line x1="626.7" y1="860.6" x2="630.5" y2="865.5" stroke="#222" stroke-width="0.7"/>
<text x="634.3" y="875" font-size="9.5" text-anchor="middle" >2</text>
<line x1="609.9" y1="879.7" x2="613.8" y2="884.7" stroke="#222" stroke-width="0.7"/>
<text x="617.7" y="894.4" font-size="9.5" text-anchor="middle" >3</text>
<line x1="591.9" y1="900.1" x2="595.9" y2="905.3" stroke="#222" stroke-width="0.7"/>
<text x="600" y="915.1" font-size="9.5" text-anchor="middle" >4</text>
<text x="642" y="881" font-size="9.5" text-anchor="middle" transform="rotate(-49 642 881)" >Lag</text>
<line x1="462.7" y1="838.1" x2="456.5" y2="839" stroke="#222" stroke-width="0.7"/>
<text x="449.3" y="843.2" font-size="9.5" text-anchor="middle" >0.5</text>
<line x1="460.8" y1="810.3" x2="454.4" y2="811.1" stroke="#222" stroke-width="0.7"/>
<text x="447.1" y="815.3" font-size="9.5" text-anchor="middle" >1.0</text>
<line x1="458.8" y1="781.4" x2="452.3" y2="782.2" stroke="#222" stroke-width="0.7"/>
<text x="444.8" y="786.4" font-size="9.5" text-anchor="middle" >1.5</text>
<line x1="456.7" y1="751.3" x2="450.1" y2="752.1" stroke="#222" stroke-width="0.7"/>
<text x="442.5" y="756.2" font-size="9.5" text-anchor="middle" >2.0</text>
<text x="437.3" y="799" font-size="9.5" text-anchor="middle" transform="rotate(85.8 437.3 799)" dominant-baseline="middle">RR</text>
</svg>
</body></html>
